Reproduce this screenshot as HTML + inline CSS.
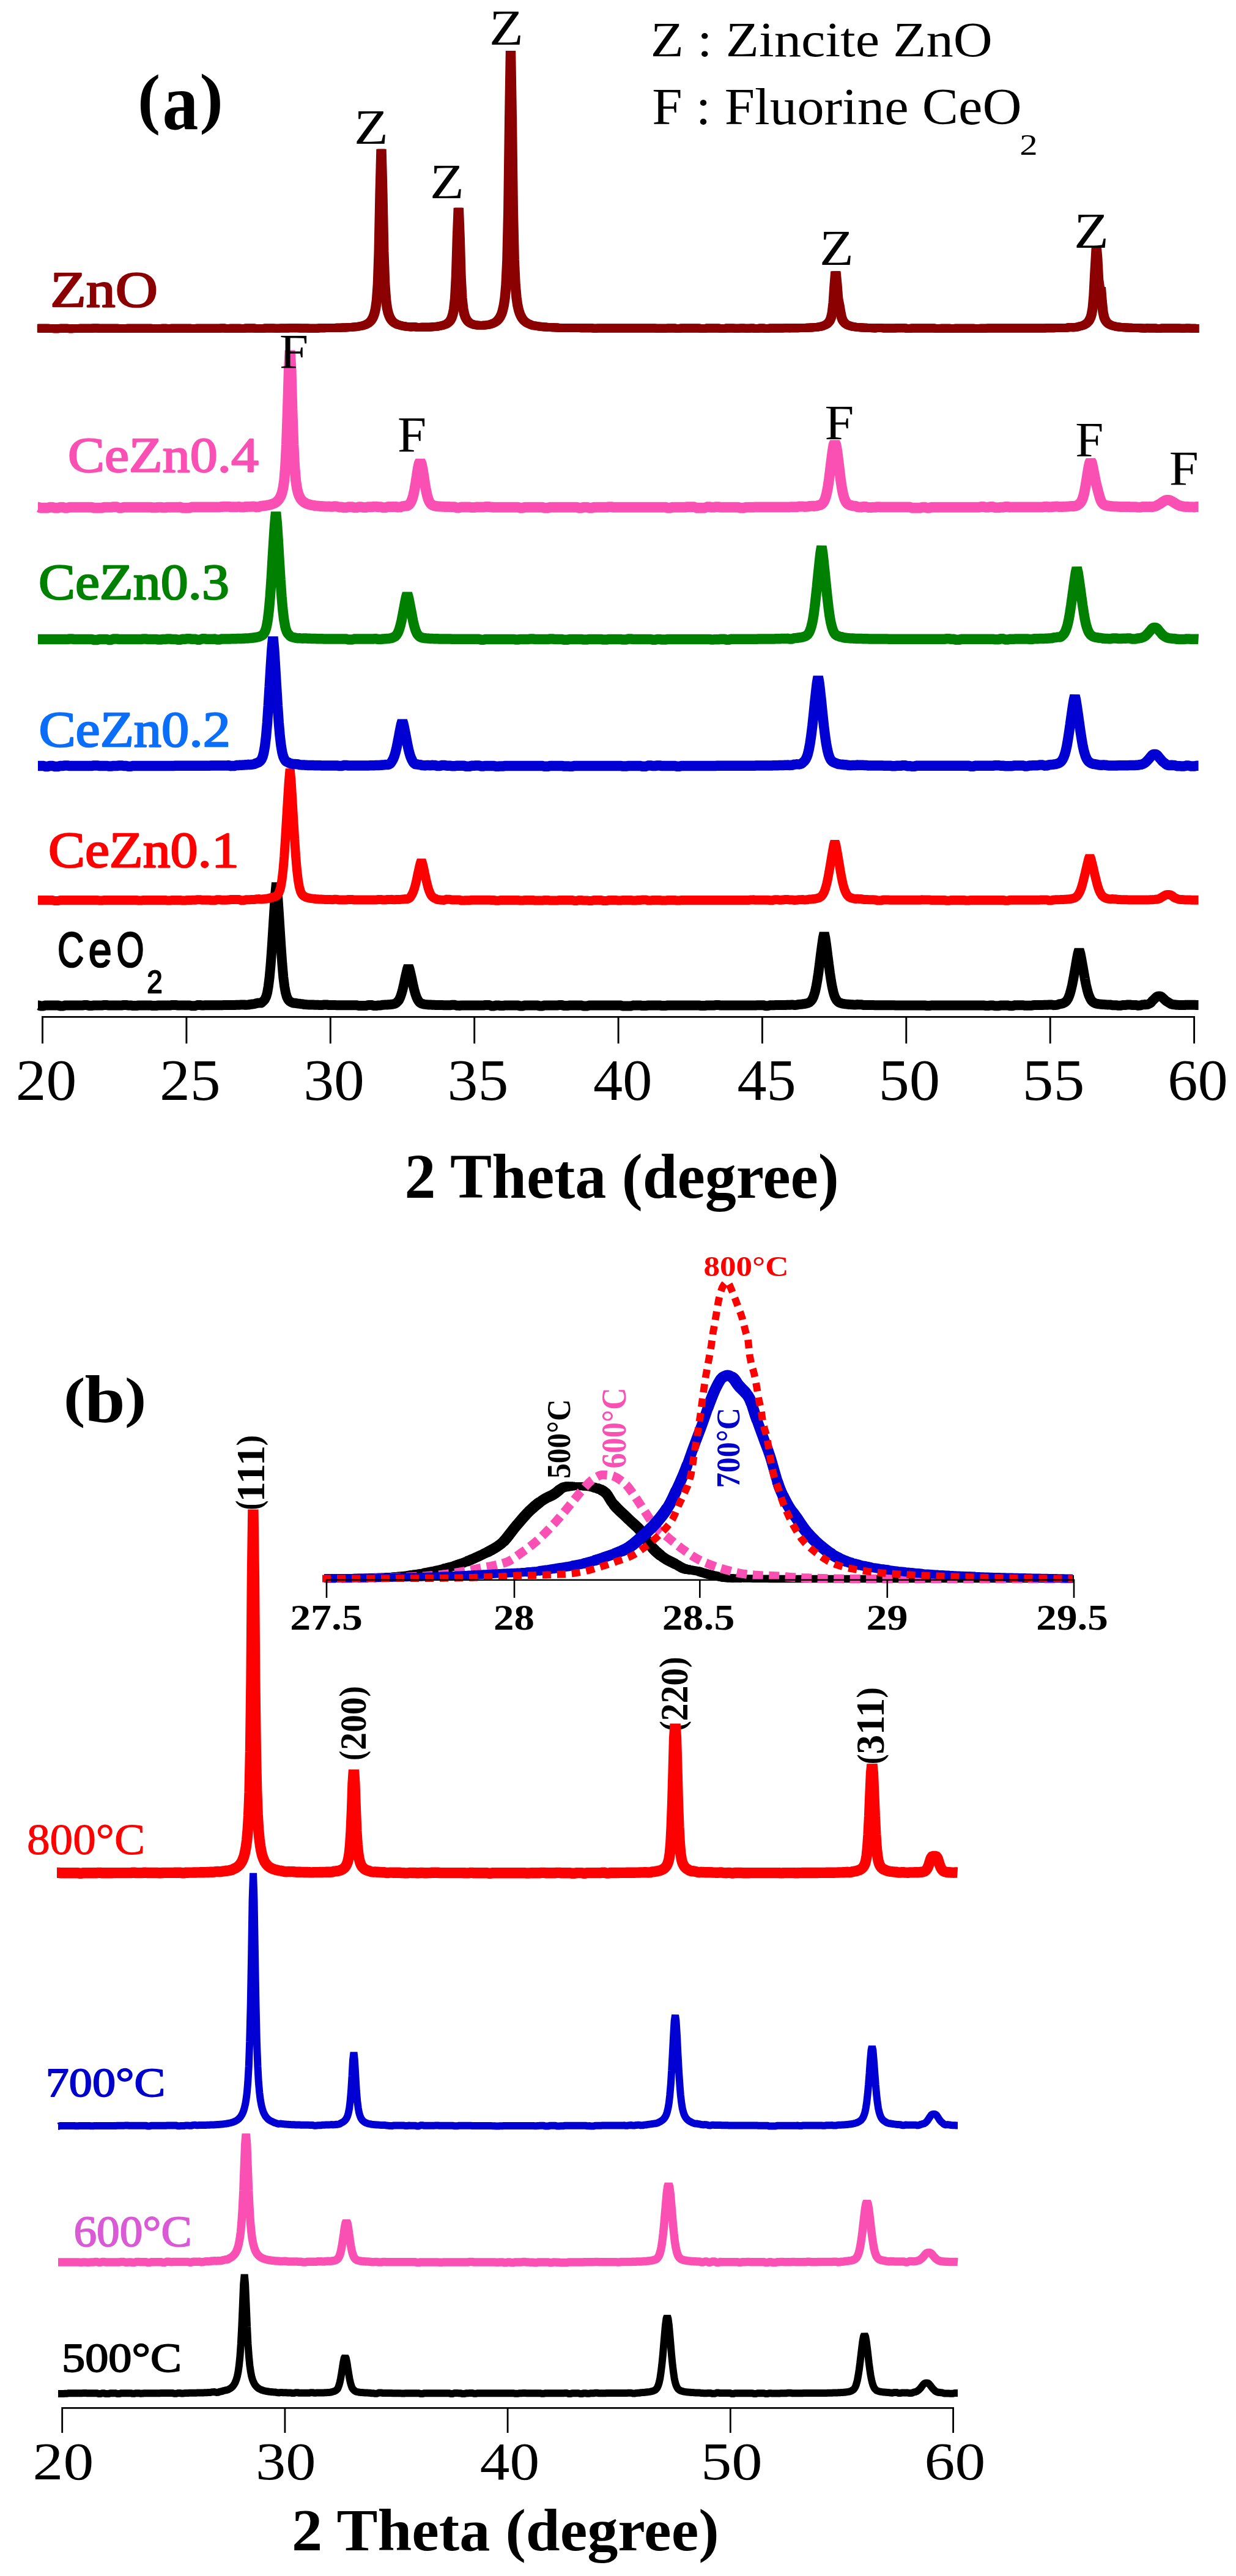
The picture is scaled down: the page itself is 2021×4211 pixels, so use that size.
<!DOCTYPE html>
<html><head><meta charset="utf-8"><title>XRD patterns</title>
<style>html,body{margin:0;padding:0;background:#fff}svg{display:block}</style></head>
<body>
<svg width="2021" height="4211" viewBox="0 0 2021 4211">
<path id="c1" d="M62.0 1643.6 L63.9 1643.6 L65.8 1644.5 L67.7 1644.5 L69.5 1644.5 L71.4 1644.5 L73.3 1643.6 L75.2 1643.6 L77.1 1643.6 L79.0 1643.6 L80.8 1643.6 L82.7 1643.6 L84.6 1643.6 L86.5 1643.6 L88.4 1643.6 L90.3 1643.6 L92.2 1643.6 L94.0 1643.6 L95.9 1643.6 L97.8 1644.5 L99.7 1644.5 L101.6 1644.5 L103.5 1644.5 L105.3 1643.6 L107.2 1643.6 L109.1 1643.6 L111.0 1643.6 L112.9 1643.6 L114.8 1643.6 L116.6 1643.6 L118.5 1643.6 L120.4 1643.6 L122.3 1643.6 L124.2 1643.6 L126.1 1643.6 L128.0 1643.6 L129.8 1643.6 L131.7 1643.6 L133.6 1643.6 L135.5 1643.6 L137.4 1643.1 L139.3 1643.1 L141.1 1643.1 L143.0 1643.1 L144.9 1644.0 L146.8 1644.0 L148.7 1644.0 L150.6 1644.0 L152.5 1643.6 L154.3 1643.6 L156.2 1643.6 L158.1 1643.6 L160.0 1643.6 L161.9 1643.6 L163.8 1643.6 L165.6 1643.6 L167.5 1643.6 L169.4 1643.1 L171.3 1643.1 L173.2 1643.1 L175.1 1643.1 L176.9 1643.5 L178.8 1643.5 L180.7 1643.5 L182.6 1643.5 L184.5 1643.5 L186.4 1643.5 L188.3 1643.5 L190.1 1643.5 L192.0 1643.5 L193.9 1643.5 L195.8 1643.5 L197.7 1643.5 L199.6 1643.5 L201.4 1643.0 L203.3 1643.0 L205.2 1643.0 L207.1 1643.0 L209.0 1643.5 L210.9 1643.5 L212.8 1643.5 L214.6 1643.5 L216.5 1644.0 L218.4 1644.0 L220.3 1644.0 L222.2 1644.0 L224.1 1644.0 L225.9 1643.5 L227.8 1643.5 L229.7 1643.5 L231.6 1643.5 L233.5 1643.5 L235.4 1643.5 L237.2 1643.5 L239.1 1643.5 L241.0 1643.5 L242.9 1643.5 L244.8 1643.5 L246.7 1643.5 L248.6 1644.0 L250.4 1644.0 L252.3 1644.0 L254.2 1644.0 L256.1 1644.0 L258.0 1643.5 L259.9 1643.5 L261.7 1643.5 L263.6 1643.5 L265.5 1643.5 L267.4 1643.5 L269.3 1643.5 L271.2 1643.5 L273.1 1643.5 L274.9 1643.5 L276.8 1643.5 L278.7 1643.5 L280.6 1643.0 L282.5 1643.0 L284.4 1643.0 L286.2 1643.0 L288.1 1643.0 L290.0 1643.5 L291.9 1643.5 L293.8 1643.5 L295.7 1643.5 L297.5 1643.4 L299.4 1643.4 L301.3 1643.4 L303.2 1643.4 L305.1 1643.4 L307.0 1643.4 L308.9 1643.4 L310.7 1643.4 L312.6 1644.3 L314.5 1644.3 L316.4 1644.3 L318.3 1644.3 L320.2 1644.3 L322.0 1642.9 L323.9 1642.9 L325.8 1642.9 L327.7 1642.9 L329.6 1643.4 L331.5 1643.4 L333.4 1643.4 L335.2 1643.3 L337.1 1643.3 L339.0 1643.3 L340.9 1643.3 L342.8 1643.3 L344.7 1643.3 L346.5 1643.3 L348.4 1643.3 L350.3 1643.3 L352.2 1643.3 L354.1 1643.2 L356.0 1643.2 L357.9 1643.2 L359.7 1643.2 L361.6 1643.2 L363.5 1643.2 L365.4 1643.1 L367.3 1643.1 L369.2 1643.1 L371.0 1643.1 L372.9 1643.1 L374.8 1643.0 L376.7 1643.0 L378.6 1643.0 L380.5 1642.9 L382.3 1642.9 L384.2 1642.9 L386.1 1642.8 L388.0 1642.8 L389.9 1642.7 L391.8 1642.7 L393.7 1642.6 L395.5 1642.6 L397.4 1642.5 L399.3 1642.4 L401.2 1642.8 L403.1 1642.7 L405.0 1642.6 L406.8 1642.5 L408.7 1641.9 L410.6 1641.7 L412.5 1641.5 L414.4 1641.3 L416.3 1641.1 L418.2 1640.4 L420.0 1640.0 L421.9 1639.7 L423.8 1639.2 L425.7 1640.1 L427.6 1639.3 L429.5 1637.4 L431.3 1635.9 L433.2 1633.5 L435.1 1629.4 L437.0 1622.9 L438.8 1612.6 L440.7 1597.4 L442.6 1576.5 L444.5 1550.4 L446.4 1520.8 L448.3 1490.7 L450.1 1462.5 L452.0 1443.0 L453.9 1462.5 L455.8 1490.7 L457.7 1520.8 L459.6 1550.4 L461.5 1576.5 L463.3 1597.4 L465.2 1612.6 L467.1 1622.9 L469.0 1629.6 L470.9 1633.6 L472.8 1636.0 L474.7 1637.5 L476.6 1638.5 L478.5 1639.2 L480.3 1639.7 L482.2 1639.7 L484.1 1640.0 L486.0 1640.3 L487.9 1640.6 L489.8 1640.8 L491.6 1641.0 L493.5 1641.2 L495.4 1641.4 L497.3 1642.0 L499.2 1642.1 L501.1 1642.2 L502.9 1642.3 L504.8 1642.4 L506.7 1642.5 L508.6 1642.5 L510.5 1642.6 L512.4 1642.6 L514.3 1642.7 L516.1 1642.7 L518.0 1642.8 L519.9 1642.8 L521.8 1642.9 L523.7 1642.9 L525.6 1642.9 L527.4 1643.0 L529.3 1642.5 L531.2 1642.5 L533.1 1642.5 L535.0 1642.6 L536.9 1643.1 L538.8 1643.1 L540.6 1643.1 L542.5 1643.1 L544.4 1643.1 L546.3 1643.1 L548.2 1643.1 L550.1 1643.2 L551.9 1643.2 L553.8 1643.2 L555.7 1643.2 L557.6 1643.2 L559.5 1643.2 L561.4 1643.2 L563.3 1643.2 L565.1 1643.2 L567.0 1643.2 L568.9 1643.2 L570.8 1643.2 L572.7 1643.2 L574.6 1643.2 L576.4 1643.2 L578.3 1643.2 L580.2 1643.2 L582.1 1643.2 L584.0 1643.2 L585.9 1644.1 L587.7 1644.1 L589.6 1644.1 L591.5 1644.1 L593.4 1644.1 L595.3 1644.1 L597.2 1644.1 L599.1 1644.1 L600.9 1643.2 L602.8 1643.1 L604.7 1643.1 L606.6 1643.1 L608.5 1643.1 L610.4 1644.0 L612.2 1644.0 L614.1 1643.9 L616.0 1643.9 L617.9 1643.4 L619.8 1643.4 L621.7 1643.4 L623.6 1643.3 L625.4 1642.8 L627.3 1642.7 L629.2 1642.6 L631.1 1642.6 L633.0 1642.5 L634.9 1642.3 L636.7 1642.2 L638.6 1642.0 L640.5 1641.8 L642.4 1641.5 L644.3 1641.1 L646.2 1640.5 L648.0 1639.5 L649.9 1637.5 L651.8 1635.6 L652.7 1634.1 L654.6 1630.0 L656.5 1624.5 L658.4 1617.6 L660.3 1609.5 L662.1 1600.8 L664.0 1592.3 L665.9 1584.3 L667.8 1579.0 L669.7 1584.3 L671.6 1592.3 L673.5 1600.8 L675.3 1609.5 L677.2 1617.6 L679.1 1624.5 L681.0 1630.0 L682.9 1634.1 L683.9 1635.7 L685.7 1638.1 L687.6 1639.6 L689.5 1640.6 L691.4 1641.2 L693.3 1641.6 L695.2 1641.9 L697.0 1642.1 L698.9 1642.3 L700.8 1642.4 L702.7 1642.5 L704.6 1642.6 L706.5 1642.7 L708.3 1642.8 L710.2 1642.8 L712.1 1642.9 L714.0 1642.9 L715.9 1643.0 L717.8 1643.0 L719.7 1643.1 L721.5 1643.1 L723.4 1643.1 L725.3 1643.2 L727.2 1643.2 L729.1 1643.2 L731.0 1643.2 L732.8 1643.2 L734.7 1643.3 L736.6 1643.3 L738.5 1642.8 L740.4 1642.8 L742.3 1642.8 L744.2 1642.8 L746.0 1643.8 L747.9 1643.8 L749.8 1643.8 L751.7 1643.9 L753.6 1643.4 L755.5 1643.4 L757.3 1643.4 L759.2 1643.4 L761.1 1643.4 L763.0 1643.4 L764.9 1643.4 L766.8 1643.4 L768.6 1643.4 L770.5 1643.4 L772.4 1643.4 L774.3 1643.4 L776.2 1643.4 L778.1 1643.4 L780.0 1643.5 L781.8 1643.5 L783.7 1643.5 L785.6 1643.5 L787.5 1643.5 L789.4 1643.5 L791.3 1643.5 L793.1 1643.0 L795.0 1643.0 L796.9 1643.0 L798.8 1643.0 L800.7 1643.0 L802.6 1644.4 L804.5 1644.4 L806.3 1644.4 L808.2 1644.4 L810.1 1643.5 L812.0 1643.5 L813.9 1643.5 L815.8 1643.5 L817.6 1644.0 L819.5 1644.0 L821.4 1644.0 L823.3 1644.0 L825.2 1643.5 L827.1 1643.5 L829.0 1643.5 L830.8 1643.5 L832.7 1643.5 L834.6 1643.5 L836.5 1643.5 L838.4 1643.5 L840.3 1643.5 L842.1 1643.5 L844.0 1643.5 L845.9 1643.5 L847.8 1643.5 L849.7 1644.4 L851.6 1644.4 L853.4 1644.4 L855.3 1644.4 L857.2 1643.5 L859.1 1643.5 L861.0 1643.5 L862.9 1643.5 L864.8 1643.5 L866.6 1643.5 L868.5 1643.5 L870.4 1643.5 L872.3 1643.5 L874.2 1643.5 L876.1 1643.5 L877.9 1643.5 L879.8 1643.5 L881.7 1644.4 L883.6 1644.4 L885.5 1644.4 L887.4 1644.4 L889.3 1643.5 L891.1 1643.5 L893.0 1643.5 L894.9 1643.5 L896.8 1643.5 L898.7 1643.5 L900.6 1643.5 L902.4 1643.5 L904.3 1643.5 L906.2 1643.5 L908.1 1643.5 L910.0 1643.5 L911.9 1643.5 L913.7 1643.1 L915.6 1643.1 L917.5 1643.1 L919.4 1643.1 L921.3 1644.0 L923.2 1644.0 L925.1 1644.0 L926.9 1644.0 L928.8 1644.0 L930.7 1643.5 L932.6 1643.5 L934.5 1643.5 L936.4 1643.5 L938.2 1643.5 L940.1 1643.5 L942.0 1643.5 L943.9 1643.5 L945.8 1643.5 L947.7 1643.5 L949.6 1643.5 L951.4 1643.5 L953.3 1644.5 L955.2 1644.5 L957.1 1644.5 L959.0 1644.5 L960.9 1644.5 L962.7 1643.5 L964.6 1643.5 L966.5 1643.5 L968.4 1643.5 L970.3 1643.5 L972.2 1643.5 L974.0 1643.5 L975.9 1643.5 L977.8 1643.5 L979.7 1643.5 L981.6 1643.5 L983.5 1643.5 L985.4 1643.5 L987.2 1643.5 L989.1 1643.5 L991.0 1643.5 L992.9 1643.5 L994.8 1643.5 L996.7 1643.5 L998.5 1643.5 L1000.4 1643.5 L1002.3 1643.5 L1004.2 1643.5 L1006.1 1643.5 L1008.0 1643.5 L1009.9 1643.5 L1011.7 1643.5 L1013.6 1643.5 L1015.5 1643.5 L1017.4 1644.5 L1019.3 1644.5 L1021.2 1644.5 L1023.0 1644.5 L1024.9 1644.5 L1026.8 1644.5 L1028.7 1644.5 L1030.6 1644.5 L1032.5 1644.5 L1034.4 1643.5 L1036.2 1643.5 L1038.1 1643.5 L1040.0 1643.5 L1041.9 1643.5 L1043.8 1643.5 L1045.7 1643.5 L1047.5 1643.5 L1049.4 1644.0 L1051.3 1644.0 L1053.2 1644.0 L1055.1 1644.0 L1057.0 1644.0 L1058.8 1643.5 L1060.7 1643.5 L1062.6 1643.5 L1064.5 1643.5 L1066.4 1643.5 L1068.3 1643.5 L1070.2 1643.5 L1072.0 1643.5 L1073.9 1643.5 L1075.8 1643.5 L1077.7 1643.5 L1079.6 1643.5 L1081.5 1644.0 L1083.3 1644.0 L1085.2 1644.0 L1087.1 1644.0 L1089.0 1644.0 L1090.9 1643.5 L1092.8 1643.5 L1094.7 1643.5 L1096.5 1643.5 L1098.4 1643.5 L1100.3 1643.5 L1102.2 1643.5 L1104.1 1643.5 L1106.0 1643.5 L1107.8 1643.5 L1109.7 1643.5 L1111.6 1643.5 L1113.5 1643.5 L1115.4 1643.5 L1117.3 1643.5 L1119.1 1643.5 L1121.0 1643.5 L1122.9 1643.5 L1124.8 1643.5 L1126.7 1643.5 L1128.6 1643.5 L1130.5 1643.5 L1132.3 1643.5 L1134.2 1643.5 L1136.1 1643.5 L1138.0 1643.5 L1139.9 1643.5 L1141.8 1643.5 L1143.6 1643.5 L1145.5 1644.0 L1147.4 1644.0 L1149.3 1644.0 L1151.2 1644.0 L1153.1 1644.0 L1155.0 1643.5 L1156.8 1643.5 L1158.7 1643.5 L1160.6 1643.5 L1162.5 1643.5 L1164.4 1643.5 L1166.3 1643.5 L1168.1 1643.5 L1170.0 1643.0 L1171.9 1643.0 L1173.8 1643.0 L1175.7 1643.0 L1177.6 1643.5 L1179.4 1643.5 L1181.3 1643.5 L1183.2 1643.5 L1185.1 1643.5 L1187.0 1643.5 L1188.9 1643.5 L1190.8 1643.5 L1192.6 1643.5 L1194.5 1643.5 L1196.4 1643.5 L1198.3 1643.5 L1200.2 1643.4 L1202.1 1643.4 L1203.9 1643.4 L1205.8 1643.4 L1207.7 1643.4 L1209.6 1643.4 L1211.5 1643.4 L1213.4 1643.4 L1215.3 1643.4 L1217.1 1643.4 L1219.0 1643.4 L1220.9 1643.4 L1222.8 1643.4 L1224.7 1643.4 L1226.6 1643.4 L1228.4 1643.4 L1230.3 1643.4 L1232.2 1643.4 L1234.1 1643.4 L1236.0 1643.4 L1237.9 1643.3 L1239.7 1643.3 L1241.6 1643.3 L1243.5 1643.3 L1245.4 1643.3 L1247.3 1643.3 L1249.2 1643.3 L1251.1 1644.2 L1252.9 1644.2 L1254.8 1644.2 L1256.7 1644.1 L1258.6 1643.2 L1260.5 1643.2 L1262.4 1643.2 L1264.2 1643.2 L1266.1 1643.2 L1268.0 1643.1 L1269.9 1643.1 L1271.8 1643.1 L1273.7 1643.1 L1275.6 1643.0 L1277.4 1643.0 L1279.3 1643.0 L1281.2 1642.9 L1283.1 1642.9 L1285.0 1642.9 L1286.9 1642.8 L1288.7 1642.8 L1290.6 1642.7 L1292.5 1642.7 L1294.4 1642.6 L1296.3 1642.5 L1298.2 1642.9 L1300.1 1642.9 L1301.9 1642.8 L1303.8 1642.6 L1305.7 1642.0 L1307.6 1641.9 L1309.5 1641.7 L1311.4 1641.5 L1313.2 1641.3 L1315.1 1641.1 L1317.0 1640.7 L1318.9 1640.3 L1320.8 1639.8 L1322.7 1639.0 L1324.5 1637.8 L1326.4 1636.0 L1328.3 1633.3 L1330.2 1629.3 L1332.5 1622.1 L1334.4 1613.8 L1336.3 1603.2 L1338.2 1590.6 L1340.1 1576.4 L1341.9 1561.5 L1343.8 1547.2 L1345.7 1533.8 L1347.6 1525.0 L1349.5 1533.8 L1351.4 1547.2 L1353.2 1561.5 L1355.1 1576.3 L1357.0 1590.6 L1358.9 1603.2 L1360.8 1613.8 L1362.7 1622.1 L1364.1 1627.0 L1366.0 1631.7 L1367.9 1634.9 L1369.8 1637.1 L1371.7 1638.5 L1373.5 1639.4 L1375.4 1640.1 L1377.3 1640.6 L1379.2 1640.9 L1381.1 1641.2 L1383.0 1641.4 L1384.8 1641.6 L1386.7 1641.8 L1388.6 1642.0 L1390.5 1642.1 L1392.4 1642.2 L1394.3 1642.3 L1396.2 1642.4 L1398.0 1642.5 L1399.9 1642.6 L1401.8 1642.1 L1403.7 1642.2 L1405.6 1642.3 L1407.5 1642.3 L1409.3 1642.3 L1411.2 1642.9 L1413.1 1642.9 L1415.0 1643.0 L1416.9 1643.0 L1418.8 1643.0 L1420.7 1643.0 L1422.5 1643.1 L1424.4 1643.1 L1426.3 1643.1 L1428.2 1643.1 L1430.1 1643.2 L1432.0 1643.2 L1433.8 1643.2 L1435.7 1643.2 L1437.6 1643.2 L1439.5 1643.2 L1441.4 1643.2 L1443.3 1643.3 L1445.1 1643.3 L1447.0 1643.3 L1448.9 1643.3 L1450.8 1643.3 L1452.7 1643.3 L1454.6 1643.3 L1456.5 1643.3 L1458.3 1643.3 L1460.2 1643.3 L1462.1 1643.3 L1464.0 1643.4 L1465.9 1643.4 L1467.8 1643.4 L1469.6 1643.4 L1471.5 1643.4 L1473.4 1643.4 L1475.3 1643.4 L1477.2 1643.4 L1479.1 1643.4 L1481.0 1643.4 L1482.8 1643.4 L1484.7 1643.4 L1486.6 1643.4 L1488.5 1643.4 L1490.4 1643.4 L1492.3 1643.4 L1494.1 1643.4 L1496.0 1643.4 L1497.9 1643.4 L1499.8 1643.4 L1501.7 1643.4 L1503.6 1643.4 L1505.5 1643.4 L1507.3 1643.4 L1509.2 1643.4 L1511.1 1643.4 L1513.0 1643.4 L1514.9 1643.9 L1516.8 1643.9 L1518.6 1643.9 L1520.5 1643.9 L1522.4 1643.5 L1524.3 1643.5 L1526.2 1643.5 L1528.1 1643.5 L1529.9 1643.5 L1531.8 1643.5 L1533.7 1643.5 L1535.6 1643.5 L1537.5 1643.5 L1539.4 1643.5 L1541.3 1643.5 L1543.1 1643.5 L1545.0 1643.5 L1546.9 1643.5 L1548.8 1643.5 L1550.7 1643.5 L1552.6 1643.5 L1554.4 1643.5 L1556.3 1643.5 L1558.2 1643.5 L1560.1 1643.5 L1562.0 1643.5 L1563.9 1643.5 L1565.8 1643.5 L1567.6 1643.5 L1569.5 1643.5 L1571.4 1643.5 L1573.3 1643.5 L1575.2 1643.5 L1577.1 1643.5 L1578.9 1643.5 L1580.8 1643.5 L1582.7 1643.5 L1584.6 1643.5 L1586.5 1643.5 L1588.4 1643.5 L1590.2 1643.5 L1592.1 1643.5 L1594.0 1643.5 L1595.9 1643.5 L1597.8 1643.5 L1599.7 1643.5 L1601.6 1643.5 L1603.4 1643.5 L1605.3 1643.5 L1607.2 1643.4 L1609.1 1643.4 L1611.0 1643.9 L1612.9 1643.9 L1614.7 1643.9 L1616.6 1643.9 L1618.5 1643.4 L1620.4 1643.4 L1622.3 1643.4 L1624.2 1643.4 L1626.1 1644.3 L1627.9 1644.3 L1629.8 1644.3 L1631.7 1644.3 L1633.6 1644.3 L1635.5 1643.4 L1637.4 1643.4 L1639.2 1643.4 L1641.1 1643.4 L1643.0 1643.4 L1644.9 1643.4 L1646.8 1643.4 L1648.7 1643.4 L1650.5 1644.3 L1652.4 1644.3 L1654.3 1644.3 L1656.2 1644.3 L1658.1 1643.3 L1660.0 1643.3 L1661.9 1643.3 L1663.7 1643.3 L1665.6 1643.3 L1667.5 1643.3 L1669.4 1643.3 L1671.3 1643.3 L1673.2 1643.3 L1675.0 1643.7 L1676.9 1643.7 L1678.8 1643.7 L1680.7 1643.7 L1682.6 1643.7 L1684.5 1643.7 L1686.4 1643.7 L1688.2 1643.6 L1690.1 1643.1 L1692.0 1643.1 L1693.9 1643.1 L1695.8 1643.1 L1697.7 1643.0 L1699.5 1643.0 L1701.4 1643.0 L1703.3 1642.9 L1705.2 1642.9 L1707.1 1642.8 L1709.0 1642.8 L1710.8 1642.7 L1712.7 1642.7 L1714.6 1642.6 L1716.5 1642.5 L1718.4 1642.5 L1720.3 1642.4 L1722.2 1643.2 L1724.0 1643.1 L1725.9 1642.9 L1727.8 1642.8 L1729.7 1642.6 L1731.6 1641.5 L1733.5 1641.2 L1735.3 1640.8 L1737.2 1640.4 L1739.1 1639.7 L1741.0 1638.7 L1742.9 1637.2 L1744.8 1635.0 L1746.7 1631.8 L1748.5 1627.4 L1749.4 1624.7 L1751.3 1618.0 L1753.2 1609.8 L1755.1 1600.1 L1757.0 1589.5 L1758.9 1578.6 L1760.7 1568.1 L1762.6 1558.3 L1764.5 1552.0 L1766.4 1558.3 L1768.3 1568.1 L1770.2 1578.6 L1772.1 1589.5 L1773.9 1600.1 L1775.8 1609.8 L1777.7 1618.0 L1779.6 1624.7 L1780.6 1627.5 L1782.5 1631.9 L1784.3 1635.1 L1786.2 1637.2 L1788.1 1638.7 L1790.0 1639.7 L1791.9 1640.4 L1793.8 1640.8 L1795.6 1641.2 L1797.5 1641.4 L1799.4 1641.7 L1801.3 1641.8 L1803.2 1642.0 L1805.1 1642.1 L1807.0 1642.2 L1808.8 1642.3 L1810.7 1642.4 L1812.6 1642.5 L1814.5 1642.6 L1816.4 1642.6 L1818.3 1643.2 L1820.1 1643.2 L1822.0 1643.2 L1823.9 1643.3 L1825.8 1643.3 L1827.7 1643.8 L1829.6 1643.8 L1831.5 1643.8 L1833.3 1643.8 L1835.2 1642.9 L1837.1 1642.9 L1839.0 1643.0 L1840.9 1643.0 L1842.8 1642.5 L1844.6 1642.5 L1846.5 1642.5 L1848.4 1642.5 L1850.3 1642.9 L1852.2 1642.9 L1854.1 1642.9 L1855.9 1642.9 L1857.8 1642.9 L1859.7 1643.7 L1861.6 1643.7 L1863.5 1643.6 L1865.4 1643.5 L1867.3 1642.5 L1869.1 1642.4 L1871.0 1642.2 L1872.9 1641.9 L1874.8 1642.4 L1876.7 1641.8 L1878.6 1641.0 L1880.3 1640.1 L1882.2 1638.8 L1884.0 1636.3 L1885.9 1634.6 L1887.8 1632.7 L1889.7 1630.9 L1891.6 1629.2 L1893.5 1628.5 L1895.3 1628.5 L1897.2 1628.5 L1899.1 1629.2 L1901.0 1631.0 L1902.9 1632.8 L1904.8 1634.6 L1906.6 1636.4 L1908.5 1637.4 L1910.4 1638.7 L1912.5 1639.8 L1914.4 1641.1 L1916.2 1641.7 L1918.1 1642.1 L1920.0 1642.3 L1921.9 1642.5 L1923.8 1642.7 L1925.7 1642.8 L1927.6 1642.9 L1929.4 1643.0 L1931.3 1643.0 L1933.2 1643.1 L1935.1 1643.1 L1937.0 1643.1 L1938.9 1642.7 L1940.7 1642.7 L1942.6 1642.7 L1944.5 1642.8 L1946.4 1642.8 L1948.3 1642.8 L1950.2 1642.8 L1952.1 1642.8 L1953.9 1642.8 L1955.8 1642.9 L1957.7 1642.9 L1959.6 1642.9" fill="none" stroke="#000000" stroke-width="16" stroke-linejoin="bevel" />
<path id="c2" d="M62.0 1471.5 L63.9 1471.5 L65.8 1471.5 L67.7 1471.5 L69.5 1471.5 L71.4 1471.5 L73.3 1471.5 L75.2 1471.5 L77.1 1471.5 L79.0 1471.5 L80.8 1471.5 L82.7 1471.5 L84.6 1471.5 L86.5 1471.5 L88.4 1472.4 L90.3 1472.4 L92.2 1472.4 L94.0 1472.4 L95.9 1472.4 L97.8 1471.5 L99.7 1471.5 L101.6 1471.5 L103.5 1471.5 L105.3 1471.5 L107.2 1471.5 L109.1 1471.5 L111.0 1471.5 L112.9 1471.5 L114.8 1471.5 L116.6 1471.5 L118.5 1471.5 L120.4 1471.5 L122.3 1471.5 L124.2 1471.5 L126.1 1471.5 L128.0 1471.5 L129.8 1471.5 L131.7 1471.5 L133.6 1471.5 L135.5 1471.5 L137.4 1471.5 L139.3 1471.5 L141.1 1471.5 L143.0 1471.5 L144.9 1471.5 L146.8 1471.5 L148.7 1471.5 L150.6 1471.5 L152.5 1471.5 L154.3 1471.5 L156.2 1471.5 L158.1 1471.5 L160.0 1471.5 L161.9 1471.9 L163.8 1471.9 L165.6 1471.9 L167.5 1471.9 L169.4 1471.5 L171.3 1471.5 L173.2 1471.5 L175.1 1471.5 L176.9 1471.5 L178.8 1471.5 L180.7 1471.5 L182.6 1471.5 L184.5 1471.5 L186.4 1471.4 L188.3 1471.4 L190.1 1471.4 L192.0 1471.4 L193.9 1471.4 L195.8 1471.4 L197.7 1471.4 L199.6 1471.4 L201.4 1471.4 L203.3 1471.4 L205.2 1471.4 L207.1 1471.4 L209.0 1471.4 L210.9 1471.4 L212.8 1471.4 L214.6 1471.4 L216.5 1471.4 L218.4 1471.4 L220.3 1471.4 L222.2 1471.4 L224.1 1471.4 L225.9 1471.9 L227.8 1471.9 L229.7 1471.9 L231.6 1471.9 L233.5 1471.4 L235.4 1471.4 L237.2 1471.4 L239.1 1471.4 L241.0 1471.4 L242.9 1471.4 L244.8 1471.4 L246.7 1471.4 L248.6 1471.4 L250.4 1471.4 L252.3 1471.4 L254.2 1471.4 L256.1 1471.4 L258.0 1471.4 L259.9 1471.4 L261.7 1471.4 L263.6 1471.4 L265.5 1471.4 L267.4 1471.4 L269.3 1471.4 L271.2 1471.4 L273.1 1471.9 L274.9 1471.9 L276.8 1471.9 L278.7 1471.9 L280.6 1471.4 L282.5 1471.4 L284.4 1471.4 L286.2 1471.4 L288.1 1471.4 L290.0 1471.4 L291.9 1471.4 L293.8 1471.4 L295.7 1471.4 L297.5 1471.9 L299.4 1471.9 L301.3 1471.9 L303.2 1471.9 L305.1 1471.4 L307.0 1471.4 L308.9 1471.4 L310.7 1471.4 L312.6 1471.4 L314.5 1471.3 L316.4 1471.3 L318.3 1471.3 L320.2 1471.3 L322.0 1470.8 L323.9 1470.8 L325.8 1470.8 L327.7 1470.8 L329.6 1471.3 L331.5 1471.3 L333.4 1471.3 L335.2 1471.3 L337.1 1471.3 L339.0 1471.3 L340.9 1471.3 L342.8 1471.3 L344.7 1471.8 L346.5 1471.8 L348.4 1471.8 L350.3 1471.7 L352.2 1471.7 L354.1 1470.8 L356.0 1470.7 L357.9 1470.7 L359.7 1470.7 L361.6 1471.2 L363.5 1471.2 L365.4 1471.2 L367.3 1471.2 L369.2 1471.2 L371.0 1471.2 L372.9 1471.1 L374.8 1471.1 L376.7 1470.6 L378.6 1470.6 L380.5 1470.6 L382.3 1470.6 L384.2 1470.6 L386.1 1470.5 L388.0 1470.5 L389.9 1470.5 L391.8 1470.5 L393.7 1471.9 L395.5 1471.8 L397.4 1471.8 L399.3 1471.8 L401.2 1470.8 L403.1 1470.8 L405.0 1470.8 L406.8 1470.7 L408.7 1470.7 L410.6 1470.6 L412.5 1470.6 L414.4 1470.5 L416.3 1470.4 L418.2 1469.9 L420.0 1469.8 L421.9 1469.7 L423.8 1469.6 L425.7 1470.0 L427.6 1469.9 L429.5 1469.8 L431.3 1469.6 L433.2 1469.4 L435.1 1469.3 L437.0 1469.0 L438.9 1468.8 L440.8 1468.0 L442.6 1467.6 L444.5 1467.2 L446.4 1466.7 L448.3 1466.1 L450.2 1465.7 L452.1 1464.6 L454.0 1462.7 L455.8 1459.8 L457.7 1454.9 L459.1 1449.4 L461.0 1438.4 L462.9 1422.1 L464.8 1399.8 L466.6 1371.8 L468.5 1340.2 L470.4 1308.0 L472.3 1277.9 L474.2 1257.0 L476.1 1277.9 L477.9 1308.0 L479.8 1340.2 L481.7 1371.8 L483.6 1399.8 L485.5 1422.1 L487.4 1438.4 L489.3 1449.4 L491.6 1457.8 L493.5 1461.5 L495.4 1463.8 L497.3 1465.2 L499.2 1466.2 L501.1 1466.9 L502.9 1467.5 L504.8 1467.9 L506.7 1468.3 L508.6 1468.6 L510.5 1468.9 L512.4 1469.1 L514.3 1469.3 L516.1 1469.5 L518.0 1469.7 L519.9 1469.8 L521.8 1469.9 L523.7 1470.0 L525.6 1470.1 L527.4 1470.2 L529.3 1470.3 L531.2 1470.4 L533.1 1470.4 L535.0 1470.5 L536.9 1470.6 L538.8 1470.6 L540.6 1470.6 L542.5 1470.7 L544.4 1470.7 L546.3 1470.3 L548.2 1470.3 L550.1 1470.3 L551.9 1470.4 L553.8 1470.9 L555.7 1470.9 L557.6 1470.9 L559.5 1470.9 L561.4 1471.0 L563.3 1471.0 L565.1 1471.0 L567.0 1471.0 L568.9 1470.5 L570.8 1470.5 L572.7 1470.5 L574.6 1470.6 L576.4 1470.6 L578.3 1471.1 L580.2 1471.1 L582.1 1471.1 L584.0 1471.1 L585.9 1471.1 L587.7 1471.1 L589.6 1471.1 L591.5 1471.1 L593.4 1471.1 L595.3 1471.1 L597.2 1471.1 L599.1 1471.1 L600.9 1471.1 L602.8 1471.1 L604.7 1471.1 L606.6 1471.1 L608.5 1471.1 L610.4 1471.1 L612.2 1471.1 L614.1 1471.1 L616.0 1471.1 L617.9 1470.6 L619.8 1470.6 L621.7 1470.5 L623.6 1470.5 L625.4 1471.0 L627.3 1471.0 L629.2 1471.0 L631.1 1471.0 L633.0 1470.4 L634.9 1470.4 L636.7 1470.4 L638.6 1470.4 L640.5 1470.3 L642.4 1470.8 L644.3 1470.7 L646.2 1470.7 L648.0 1470.6 L649.9 1470.5 L651.8 1470.5 L653.7 1470.4 L655.6 1470.3 L657.5 1470.1 L659.4 1470.0 L661.2 1469.8 L663.1 1469.5 L665.0 1470.0 L666.9 1469.4 L668.8 1468.5 L670.7 1467.1 L672.5 1464.1 L673.9 1461.9 L675.8 1457.7 L677.7 1452.1 L679.6 1445.1 L681.5 1436.9 L683.3 1428.1 L685.2 1419.5 L687.1 1411.4 L689.0 1406.0 L690.9 1411.4 L692.8 1419.5 L694.6 1428.1 L696.5 1436.9 L698.4 1445.1 L700.3 1452.2 L702.2 1457.7 L704.1 1461.9 L706.5 1465.4 L708.3 1467.1 L710.2 1468.2 L712.1 1468.9 L714.0 1470.3 L715.9 1470.6 L717.8 1470.8 L719.7 1471.0 L721.5 1471.2 L723.4 1471.3 L725.3 1471.4 L727.2 1471.5 L729.1 1470.1 L731.0 1470.2 L732.8 1470.3 L734.7 1470.3 L736.6 1470.4 L738.5 1470.9 L740.4 1470.9 L742.3 1471.0 L744.2 1471.0 L746.0 1471.0 L747.9 1471.1 L749.8 1471.1 L751.7 1471.1 L753.6 1472.0 L755.5 1472.1 L757.3 1472.1 L759.2 1472.1 L761.1 1471.7 L763.0 1471.7 L764.9 1471.7 L766.8 1471.7 L768.6 1471.7 L770.5 1471.2 L772.4 1471.3 L774.3 1471.3 L776.2 1471.3 L778.1 1471.3 L780.0 1471.3 L781.8 1471.3 L783.7 1471.3 L785.6 1471.3 L787.5 1471.3 L789.4 1471.3 L791.3 1471.3 L793.1 1471.3 L795.0 1471.3 L796.9 1471.3 L798.8 1471.3 L800.7 1471.3 L802.6 1471.4 L804.5 1471.4 L806.3 1471.4 L808.2 1471.4 L810.1 1472.3 L812.0 1472.3 L813.9 1472.3 L815.8 1472.3 L817.6 1471.4 L819.5 1471.4 L821.4 1471.4 L823.3 1471.4 L825.2 1471.4 L827.1 1471.4 L829.0 1471.4 L830.8 1471.4 L832.7 1471.4 L834.6 1471.4 L836.5 1471.4 L838.4 1471.4 L840.3 1471.4 L842.1 1471.4 L844.0 1471.4 L845.9 1471.4 L847.8 1471.4 L849.7 1471.9 L851.6 1471.9 L853.4 1471.9 L855.3 1471.9 L857.2 1471.4 L859.1 1471.4 L861.0 1471.4 L862.9 1471.4 L864.8 1471.4 L866.6 1471.4 L868.5 1471.4 L870.4 1471.4 L872.3 1471.4 L874.2 1471.9 L876.1 1471.9 L877.9 1471.9 L879.8 1471.9 L881.7 1471.9 L883.6 1471.9 L885.5 1471.9 L887.4 1471.9 L889.3 1471.4 L891.1 1471.4 L893.0 1471.4 L894.9 1471.4 L896.8 1471.4 L898.7 1471.9 L900.6 1471.9 L902.4 1471.9 L904.3 1471.9 L906.2 1471.9 L908.1 1471.9 L910.0 1471.9 L911.9 1471.9 L913.7 1471.4 L915.6 1471.4 L917.5 1471.4 L919.4 1471.4 L921.3 1471.4 L923.2 1471.4 L925.1 1471.4 L926.9 1471.4 L928.8 1471.4 L930.7 1471.4 L932.6 1471.4 L934.5 1471.4 L936.4 1471.4 L938.2 1472.4 L940.1 1472.4 L942.0 1472.4 L943.9 1472.4 L945.8 1471.4 L947.7 1471.4 L949.6 1471.4 L951.4 1471.4 L953.3 1471.9 L955.2 1471.9 L957.1 1471.9 L959.0 1471.9 L960.9 1471.9 L962.7 1472.4 L964.6 1472.4 L966.5 1472.4 L968.4 1472.4 L970.3 1471.4 L972.2 1471.4 L974.0 1471.4 L975.9 1471.4 L977.8 1471.4 L979.7 1471.4 L981.6 1471.4 L983.5 1471.4 L985.4 1472.4 L987.2 1472.4 L989.1 1472.4 L991.0 1472.4 L992.9 1472.4 L994.8 1471.5 L996.7 1471.5 L998.5 1471.5 L1000.4 1471.5 L1002.3 1471.5 L1004.2 1471.5 L1006.1 1471.5 L1008.0 1471.5 L1009.9 1471.9 L1011.7 1471.9 L1013.6 1471.9 L1015.5 1471.9 L1017.4 1471.5 L1019.3 1471.5 L1021.2 1471.5 L1023.0 1471.5 L1024.9 1471.5 L1026.8 1471.5 L1028.7 1471.5 L1030.6 1471.4 L1032.5 1471.4 L1034.4 1471.9 L1036.2 1471.9 L1038.1 1471.9 L1040.0 1471.9 L1041.9 1471.4 L1043.8 1471.4 L1045.7 1471.4 L1047.5 1471.4 L1049.4 1471.0 L1051.3 1471.0 L1053.2 1471.0 L1055.1 1471.0 L1057.0 1471.0 L1058.8 1471.9 L1060.7 1471.9 L1062.6 1471.9 L1064.5 1471.9 L1066.4 1471.4 L1068.3 1471.4 L1070.2 1471.4 L1072.0 1471.4 L1073.9 1471.4 L1075.8 1471.4 L1077.7 1471.4 L1079.6 1471.4 L1081.5 1471.9 L1083.3 1471.9 L1085.2 1471.9 L1087.1 1471.9 L1089.0 1471.9 L1090.9 1471.4 L1092.8 1471.4 L1094.7 1471.4 L1096.5 1471.4 L1098.4 1471.4 L1100.3 1471.4 L1102.2 1471.4 L1104.1 1471.4 L1106.0 1471.9 L1107.8 1471.9 L1109.7 1471.9 L1111.6 1471.9 L1113.5 1471.4 L1115.4 1471.4 L1117.3 1471.4 L1119.1 1471.4 L1121.0 1471.4 L1122.9 1471.4 L1124.8 1471.4 L1126.7 1471.4 L1128.6 1471.4 L1130.5 1471.4 L1132.3 1471.4 L1134.2 1471.4 L1136.1 1471.4 L1138.0 1471.4 L1139.9 1471.4 L1141.8 1471.4 L1143.6 1471.4 L1145.5 1471.4 L1147.4 1471.4 L1149.3 1471.4 L1151.2 1471.4 L1153.1 1471.4 L1155.0 1471.4 L1156.8 1471.4 L1158.7 1471.4 L1160.6 1471.4 L1162.5 1471.4 L1164.4 1471.4 L1166.3 1471.4 L1168.1 1471.4 L1170.0 1471.4 L1171.9 1471.4 L1173.8 1471.4 L1175.7 1471.4 L1177.6 1471.4 L1179.4 1471.4 L1181.3 1471.4 L1183.2 1471.4 L1185.1 1471.4 L1187.0 1471.4 L1188.9 1471.4 L1190.8 1471.4 L1192.6 1471.4 L1194.5 1471.4 L1196.4 1471.4 L1198.3 1471.4 L1200.2 1471.4 L1202.1 1471.4 L1203.9 1471.4 L1205.8 1471.4 L1207.7 1471.4 L1209.6 1471.4 L1211.5 1471.4 L1213.4 1471.4 L1215.3 1471.4 L1217.1 1471.4 L1219.0 1471.4 L1220.9 1471.4 L1222.8 1471.4 L1224.7 1471.4 L1226.6 1470.9 L1228.4 1470.9 L1230.3 1470.9 L1232.2 1470.8 L1234.1 1471.3 L1236.0 1471.3 L1237.9 1471.3 L1239.7 1471.3 L1241.6 1471.3 L1243.5 1471.3 L1245.4 1471.3 L1247.3 1471.3 L1249.2 1471.3 L1251.1 1471.3 L1252.9 1471.3 L1254.8 1471.3 L1256.7 1471.3 L1258.6 1471.7 L1260.5 1471.7 L1262.4 1471.7 L1264.2 1471.7 L1266.1 1470.7 L1268.0 1470.7 L1269.9 1470.7 L1271.8 1470.7 L1273.7 1471.2 L1275.6 1471.2 L1277.4 1471.2 L1279.3 1471.1 L1281.2 1471.1 L1283.1 1470.6 L1285.0 1470.6 L1286.9 1470.6 L1288.7 1470.6 L1290.6 1471.0 L1292.5 1471.0 L1294.4 1471.0 L1296.3 1470.9 L1298.2 1471.4 L1300.1 1471.4 L1301.9 1471.3 L1303.8 1471.3 L1305.7 1470.8 L1307.6 1470.7 L1309.5 1470.7 L1311.4 1470.6 L1313.2 1470.6 L1315.1 1471.0 L1317.0 1470.9 L1318.9 1470.8 L1320.8 1470.7 L1322.7 1470.1 L1324.5 1470.0 L1326.4 1469.9 L1328.3 1469.7 L1330.2 1469.5 L1332.1 1469.3 L1334.0 1469.0 L1335.9 1468.6 L1337.7 1468.1 L1339.6 1467.4 L1341.5 1466.3 L1343.4 1464.8 L1345.3 1462.4 L1347.2 1459.1 L1349.0 1454.4 L1349.9 1451.6 L1351.8 1444.6 L1353.7 1435.9 L1355.6 1425.7 L1357.5 1414.5 L1359.4 1403.0 L1361.3 1392.0 L1363.1 1381.6 L1365.0 1375.0 L1366.9 1381.6 L1368.8 1392.0 L1370.7 1403.0 L1372.6 1414.5 L1374.4 1425.7 L1376.3 1435.9 L1378.2 1444.6 L1380.1 1451.6 L1381.1 1454.6 L1383.0 1459.2 L1384.8 1462.5 L1386.7 1464.8 L1388.6 1466.4 L1390.5 1467.4 L1392.4 1468.1 L1394.3 1468.6 L1396.2 1469.0 L1398.0 1469.3 L1399.9 1469.5 L1401.8 1469.2 L1403.7 1469.4 L1405.6 1469.5 L1407.5 1469.6 L1409.3 1469.7 L1411.2 1470.3 L1413.1 1470.4 L1415.0 1470.5 L1416.9 1470.6 L1418.8 1470.6 L1420.7 1470.7 L1422.5 1470.7 L1424.4 1470.8 L1426.3 1470.8 L1428.2 1470.8 L1430.1 1470.9 L1432.0 1470.9 L1433.8 1471.9 L1435.7 1471.9 L1437.6 1471.9 L1439.5 1471.9 L1441.4 1472.0 L1443.3 1471.1 L1445.1 1471.1 L1447.0 1471.1 L1448.9 1471.1 L1450.8 1471.1 L1452.7 1471.1 L1454.6 1471.2 L1456.5 1471.2 L1458.3 1471.2 L1460.2 1471.2 L1462.1 1471.2 L1464.0 1471.2 L1465.9 1471.2 L1467.8 1471.2 L1469.6 1471.2 L1471.5 1471.2 L1473.4 1471.3 L1475.3 1471.3 L1477.2 1471.3 L1479.1 1471.3 L1481.0 1471.3 L1482.8 1471.3 L1484.7 1471.3 L1486.6 1471.3 L1488.5 1471.3 L1490.4 1471.3 L1492.3 1471.3 L1494.1 1471.3 L1496.0 1471.3 L1497.9 1471.3 L1499.8 1471.3 L1501.7 1471.3 L1503.6 1471.3 L1505.5 1471.3 L1507.3 1470.8 L1509.2 1470.9 L1511.1 1470.9 L1513.0 1470.9 L1514.9 1470.9 L1516.8 1470.9 L1518.6 1470.9 L1520.5 1470.9 L1522.4 1471.4 L1524.3 1471.4 L1526.2 1471.4 L1528.1 1471.4 L1529.9 1471.4 L1531.8 1471.4 L1533.7 1471.4 L1535.6 1471.4 L1537.5 1471.4 L1539.4 1471.4 L1541.3 1471.4 L1543.1 1471.4 L1545.0 1471.4 L1546.9 1472.3 L1548.8 1472.3 L1550.7 1472.3 L1552.6 1472.3 L1554.4 1471.4 L1556.3 1471.4 L1558.2 1471.4 L1560.1 1471.4 L1562.0 1471.4 L1563.9 1471.4 L1565.8 1471.4 L1567.6 1471.4 L1569.5 1471.4 L1571.4 1471.4 L1573.3 1471.4 L1575.2 1471.4 L1577.1 1471.4 L1578.9 1471.9 L1580.8 1471.9 L1582.7 1471.9 L1584.6 1471.9 L1586.5 1471.4 L1588.4 1471.4 L1590.2 1471.4 L1592.1 1471.4 L1594.0 1471.4 L1595.9 1471.4 L1597.8 1471.4 L1599.7 1471.4 L1601.6 1471.4 L1603.4 1471.4 L1605.3 1471.4 L1607.2 1471.4 L1609.1 1471.4 L1611.0 1471.4 L1612.9 1471.4 L1614.7 1471.4 L1616.6 1471.4 L1618.5 1471.4 L1620.4 1471.4 L1622.3 1471.4 L1624.2 1471.4 L1626.1 1471.4 L1627.9 1471.4 L1629.8 1471.4 L1631.7 1471.4 L1633.6 1471.4 L1635.5 1471.4 L1637.4 1471.4 L1639.2 1471.4 L1641.1 1471.4 L1643.0 1472.3 L1644.9 1472.3 L1646.8 1472.3 L1648.7 1472.3 L1650.5 1471.3 L1652.4 1471.3 L1654.3 1471.3 L1656.2 1471.3 L1658.1 1471.3 L1660.0 1471.3 L1661.9 1471.3 L1663.7 1471.3 L1665.6 1471.3 L1667.5 1471.3 L1669.4 1471.3 L1671.3 1471.3 L1673.2 1471.3 L1675.0 1471.3 L1676.9 1471.3 L1678.8 1471.3 L1680.7 1471.3 L1682.6 1471.3 L1684.5 1471.2 L1686.4 1471.2 L1688.2 1471.2 L1690.1 1471.2 L1692.0 1471.2 L1693.9 1471.2 L1695.8 1471.2 L1697.7 1471.2 L1699.5 1471.2 L1701.4 1471.1 L1703.3 1471.1 L1705.2 1471.1 L1707.1 1471.1 L1709.0 1471.1 L1710.8 1471.1 L1712.7 1471.0 L1714.6 1471.9 L1716.5 1471.9 L1718.4 1471.9 L1720.3 1471.8 L1722.2 1470.9 L1724.0 1470.9 L1725.9 1470.8 L1727.8 1470.8 L1729.7 1470.7 L1731.6 1470.7 L1733.5 1470.6 L1735.3 1470.5 L1737.2 1470.5 L1739.1 1470.4 L1741.0 1470.3 L1742.9 1470.2 L1744.8 1470.0 L1746.7 1469.9 L1748.5 1469.7 L1750.4 1469.5 L1752.3 1469.2 L1754.2 1468.7 L1756.1 1468.1 L1758.0 1467.3 L1759.8 1466.0 L1761.7 1464.2 L1763.6 1461.6 L1765.5 1458.0 L1766.9 1454.8 L1768.8 1449.3 L1770.6 1442.7 L1772.5 1435.2 L1774.4 1427.1 L1776.3 1418.9 L1778.2 1411.0 L1780.1 1403.6 L1781.9 1399.0 L1783.8 1403.6 L1785.7 1411.0 L1787.6 1418.9 L1789.5 1427.1 L1791.4 1435.2 L1793.3 1442.7 L1795.1 1449.3 L1797.0 1454.8 L1799.4 1460.1 L1801.3 1463.1 L1803.2 1465.2 L1805.1 1466.7 L1807.0 1467.8 L1808.8 1468.5 L1810.7 1469.0 L1812.6 1469.3 L1814.5 1469.6 L1816.4 1469.8 L1818.3 1469.5 L1820.1 1469.6 L1822.0 1469.7 L1823.9 1469.8 L1825.8 1469.9 L1827.7 1470.5 L1829.6 1470.5 L1831.5 1470.6 L1833.3 1470.7 L1835.2 1470.7 L1837.1 1470.7 L1839.0 1470.8 L1840.9 1470.8 L1842.8 1470.8 L1844.6 1470.9 L1846.5 1470.9 L1848.4 1470.9 L1850.3 1470.9 L1852.2 1471.0 L1854.1 1471.0 L1855.9 1471.0 L1857.8 1471.0 L1859.7 1471.0 L1861.6 1471.0 L1863.5 1471.0 L1865.4 1471.0 L1867.3 1471.0 L1869.1 1471.0 L1871.0 1471.0 L1872.9 1471.0 L1874.8 1470.9 L1876.7 1470.9 L1878.6 1470.9 L1880.4 1470.8 L1882.3 1470.8 L1884.2 1470.7 L1886.1 1470.6 L1888.0 1470.4 L1889.9 1470.1 L1891.8 1470.2 L1893.6 1469.8 L1895.0 1469.3 L1896.9 1468.5 L1898.8 1467.1 L1900.7 1466.1 L1902.6 1465.0 L1904.4 1463.9 L1906.3 1462.9 L1908.2 1462.5 L1910.1 1462.5 L1912.0 1462.5 L1913.9 1462.9 L1915.7 1464.0 L1917.6 1465.0 L1919.5 1467.0 L1921.4 1468.1 L1923.3 1468.6 L1925.2 1469.4 L1927.6 1470.1 L1929.4 1470.5 L1931.3 1470.4 L1933.2 1470.6 L1935.1 1470.7 L1937.0 1470.9 L1938.9 1470.9 L1940.7 1471.0 L1942.6 1471.1 L1944.5 1471.1 L1946.4 1471.1 L1948.3 1471.2 L1950.2 1471.2 L1952.1 1471.2 L1953.9 1471.2 L1955.8 1471.2 L1957.7 1471.3 L1959.6 1471.3" fill="none" stroke="#FF0000" stroke-width="15" stroke-linejoin="bevel" />
<path id="c3" d="M62.0 1252.0 L63.9 1252.0 L65.8 1252.0 L67.7 1252.0 L69.5 1252.0 L71.4 1252.0 L73.3 1252.9 L75.2 1252.9 L77.1 1252.9 L79.0 1252.9 L80.8 1252.0 L82.7 1252.0 L84.6 1252.0 L86.5 1252.0 L88.4 1252.9 L90.3 1252.9 L92.2 1252.9 L94.0 1252.9 L95.9 1252.9 L97.8 1252.0 L99.7 1252.0 L101.6 1252.0 L103.5 1252.0 L105.3 1251.5 L107.2 1251.5 L109.1 1251.5 L111.0 1251.5 L112.9 1252.0 L114.8 1252.0 L116.6 1252.0 L118.5 1252.0 L120.4 1252.0 L122.3 1252.0 L124.2 1252.0 L126.1 1252.0 L128.0 1252.0 L129.8 1252.0 L131.7 1252.0 L133.6 1252.0 L135.5 1252.0 L137.4 1252.0 L139.3 1252.0 L141.1 1252.0 L143.0 1252.0 L144.9 1252.0 L146.8 1252.0 L148.7 1252.0 L150.6 1252.0 L152.5 1251.5 L154.3 1251.5 L156.2 1251.5 L158.1 1251.5 L160.0 1251.5 L161.9 1251.9 L163.8 1251.9 L165.6 1251.9 L167.5 1251.9 L169.4 1251.9 L171.3 1251.9 L173.2 1251.9 L175.1 1251.9 L176.9 1252.4 L178.8 1252.4 L180.7 1252.4 L182.6 1252.4 L184.5 1251.9 L186.4 1251.9 L188.3 1251.9 L190.1 1251.9 L192.0 1251.9 L193.9 1251.4 L195.8 1251.4 L197.7 1251.4 L199.6 1251.4 L201.4 1251.9 L203.3 1251.9 L205.2 1251.9 L207.1 1251.9 L209.0 1252.8 L210.9 1252.8 L212.8 1252.8 L214.6 1252.8 L216.5 1251.9 L218.4 1251.9 L220.3 1251.9 L222.2 1251.9 L224.1 1251.9 L225.9 1251.9 L227.8 1251.9 L229.7 1251.9 L231.6 1251.9 L233.5 1251.9 L235.4 1251.9 L237.2 1251.9 L239.1 1251.9 L241.0 1251.9 L242.9 1251.9 L244.8 1251.9 L246.7 1251.9 L248.6 1251.9 L250.4 1251.9 L252.3 1251.9 L254.2 1251.9 L256.1 1251.9 L258.0 1251.9 L259.9 1251.9 L261.7 1251.9 L263.6 1251.9 L265.5 1251.9 L267.4 1251.9 L269.3 1251.9 L271.2 1251.9 L273.1 1251.9 L274.9 1251.9 L276.8 1251.9 L278.7 1251.9 L280.6 1251.9 L282.5 1251.9 L284.4 1251.9 L286.2 1251.8 L288.1 1251.8 L290.0 1251.8 L291.9 1251.8 L293.8 1251.8 L295.7 1251.8 L297.5 1251.8 L299.4 1251.8 L301.3 1251.8 L303.2 1251.8 L305.1 1251.8 L307.0 1251.8 L308.9 1251.8 L310.7 1251.8 L312.6 1251.8 L314.5 1251.8 L316.4 1251.8 L318.3 1251.8 L320.2 1251.8 L322.0 1251.8 L323.9 1251.8 L325.8 1251.7 L327.7 1251.7 L329.6 1251.7 L331.5 1251.7 L333.4 1251.7 L335.2 1251.7 L337.1 1251.7 L339.0 1251.7 L340.9 1251.7 L342.8 1251.7 L344.7 1251.6 L346.5 1251.6 L348.4 1251.6 L350.3 1251.6 L352.2 1251.6 L354.1 1251.6 L356.0 1251.6 L357.9 1251.5 L359.7 1251.5 L361.6 1251.5 L363.5 1251.5 L365.4 1251.5 L367.3 1251.4 L369.2 1251.4 L371.0 1251.4 L372.9 1251.3 L374.8 1251.3 L376.7 1252.2 L378.6 1252.1 L380.5 1252.1 L382.3 1252.1 L384.2 1252.0 L386.1 1251.0 L388.0 1251.0 L389.9 1250.9 L391.8 1250.8 L393.7 1250.8 L395.5 1250.7 L397.4 1250.6 L399.3 1250.4 L401.2 1250.3 L403.1 1250.2 L405.0 1250.0 L406.8 1249.8 L408.7 1250.1 L410.6 1249.9 L412.5 1249.6 L414.4 1249.3 L416.3 1248.9 L418.2 1247.9 L420.0 1247.3 L421.9 1246.6 L423.8 1245.5 L425.7 1243.9 L427.6 1241.3 L429.5 1237.1 L431.3 1230.3 L433.2 1219.4 L435.1 1203.4 L437.0 1181.4 L438.8 1154.0 L440.7 1122.8 L442.6 1091.1 L444.5 1061.5 L446.4 1041.0 L448.3 1061.5 L450.1 1091.1 L452.0 1122.8 L453.9 1154.0 L455.8 1181.4 L457.7 1203.4 L459.6 1219.4 L461.5 1230.3 L463.4 1237.3 L465.3 1241.4 L467.1 1244.0 L469.0 1245.5 L470.9 1246.1 L472.8 1247.3 L474.7 1247.9 L476.6 1248.4 L478.5 1248.8 L480.3 1249.1 L482.2 1248.9 L484.1 1249.1 L486.0 1249.3 L487.9 1249.5 L489.8 1250.2 L491.6 1250.3 L493.5 1250.4 L495.4 1250.5 L497.3 1250.6 L499.2 1250.7 L501.1 1250.8 L502.9 1250.9 L504.8 1250.9 L506.7 1251.0 L508.6 1251.0 L510.5 1251.1 L512.4 1251.1 L514.3 1251.2 L516.1 1251.2 L518.0 1251.2 L519.9 1251.3 L521.8 1251.3 L523.7 1251.3 L525.6 1251.4 L527.4 1251.4 L529.3 1251.4 L531.2 1251.4 L533.1 1251.4 L535.0 1251.5 L536.9 1251.5 L538.8 1251.5 L540.6 1251.5 L542.5 1251.5 L544.4 1251.5 L546.3 1251.5 L548.2 1251.5 L550.1 1251.5 L551.9 1251.5 L553.8 1252.0 L555.7 1252.0 L557.6 1252.1 L559.5 1252.1 L561.4 1251.1 L563.3 1251.1 L565.1 1251.1 L567.0 1251.1 L568.9 1251.6 L570.8 1251.6 L572.7 1251.6 L574.6 1251.6 L576.4 1251.6 L578.3 1251.6 L580.2 1251.5 L582.1 1251.5 L584.0 1251.5 L585.9 1251.5 L587.7 1251.5 L589.6 1251.5 L591.5 1251.5 L593.4 1251.5 L595.3 1251.5 L597.2 1251.4 L599.1 1251.4 L600.9 1251.4 L602.8 1251.4 L604.7 1251.3 L606.6 1251.3 L608.5 1251.3 L610.4 1251.2 L612.2 1251.2 L614.1 1251.1 L616.0 1251.0 L617.9 1251.0 L619.8 1250.9 L621.7 1250.8 L623.6 1250.7 L625.4 1250.5 L627.3 1250.4 L629.2 1250.2 L631.1 1249.9 L633.0 1250.5 L634.9 1249.9 L636.7 1249.1 L638.6 1247.9 L640.5 1245.0 L642.8 1241.1 L644.7 1236.4 L646.6 1230.1 L648.5 1222.2 L650.4 1212.9 L652.3 1203.0 L654.1 1193.3 L656.0 1184.1 L657.9 1178.0 L659.8 1184.1 L661.7 1193.3 L663.6 1203.0 L665.4 1213.0 L667.3 1222.2 L669.2 1230.1 L671.1 1236.5 L673.0 1241.1 L674.4 1243.8 L676.3 1247.1 L678.2 1248.6 L680.1 1249.6 L682.0 1249.4 L683.9 1249.8 L685.7 1250.1 L687.6 1250.3 L689.5 1251.0 L691.4 1251.1 L693.3 1251.3 L695.2 1251.4 L697.0 1251.0 L698.9 1251.1 L700.8 1251.1 L702.7 1251.2 L704.6 1251.3 L706.5 1250.8 L708.3 1250.9 L710.2 1250.9 L712.1 1250.9 L714.0 1252.0 L715.9 1252.0 L717.8 1252.0 L719.7 1252.0 L721.5 1251.1 L723.4 1251.1 L725.3 1251.1 L727.2 1251.1 L729.1 1251.6 L731.0 1251.7 L732.8 1251.7 L734.7 1251.7 L736.6 1251.7 L738.5 1252.2 L740.4 1252.2 L742.3 1252.2 L744.2 1252.2 L746.0 1251.8 L747.9 1251.8 L749.8 1251.8 L751.7 1251.8 L753.6 1251.8 L755.5 1251.8 L757.3 1251.8 L759.2 1251.8 L761.1 1252.7 L763.0 1252.7 L764.9 1252.7 L766.8 1252.7 L768.6 1252.7 L770.5 1251.8 L772.4 1251.8 L774.3 1251.8 L776.2 1251.8 L778.1 1251.4 L780.0 1251.4 L781.8 1251.4 L783.7 1251.4 L785.6 1252.4 L787.5 1252.4 L789.4 1252.4 L791.3 1252.4 L793.1 1251.9 L795.0 1251.9 L796.9 1251.9 L798.8 1251.9 L800.7 1251.9 L802.6 1251.9 L804.5 1251.9 L806.3 1251.9 L808.2 1251.9 L810.1 1252.8 L812.0 1252.8 L813.9 1252.8 L815.8 1252.8 L817.6 1252.4 L819.5 1252.4 L821.4 1252.4 L823.3 1252.4 L825.2 1251.9 L827.1 1251.9 L829.0 1251.9 L830.8 1251.9 L832.7 1251.9 L834.6 1251.9 L836.5 1251.9 L838.4 1251.9 L840.3 1251.9 L842.1 1251.9 L844.0 1251.9 L845.9 1251.9 L847.8 1251.9 L849.7 1251.9 L851.6 1251.9 L853.4 1251.9 L855.3 1251.9 L857.2 1251.9 L859.1 1251.9 L861.0 1251.9 L862.9 1251.9 L864.8 1251.9 L866.6 1251.9 L868.5 1251.9 L870.4 1251.9 L872.3 1251.9 L874.2 1251.9 L876.1 1251.9 L877.9 1251.9 L879.8 1251.9 L881.7 1251.9 L883.6 1251.9 L885.5 1251.9 L887.4 1251.9 L889.3 1252.8 L891.1 1252.8 L893.0 1252.8 L894.9 1252.8 L896.8 1252.8 L898.7 1251.9 L900.6 1251.9 L902.4 1251.9 L904.3 1251.9 L906.2 1251.9 L908.1 1251.9 L910.0 1251.9 L911.9 1251.9 L913.7 1251.9 L915.6 1251.9 L917.5 1251.9 L919.4 1251.9 L921.3 1252.4 L923.2 1252.4 L925.1 1252.4 L926.9 1252.4 L928.8 1252.4 L930.7 1252.8 L932.6 1252.8 L934.5 1252.8 L936.4 1252.8 L938.2 1251.9 L940.1 1251.9 L942.0 1251.9 L943.9 1251.9 L945.8 1251.9 L947.7 1251.9 L949.6 1251.9 L951.4 1251.9 L953.3 1251.9 L955.2 1251.9 L957.1 1251.9 L959.0 1251.9 L960.9 1251.9 L962.7 1251.9 L964.6 1251.9 L966.5 1251.9 L968.4 1251.9 L970.3 1251.9 L972.2 1251.9 L974.0 1251.9 L975.9 1251.9 L977.8 1251.9 L979.7 1251.9 L981.6 1251.9 L983.5 1251.9 L985.4 1251.9 L987.2 1251.9 L989.1 1251.9 L991.0 1251.9 L992.9 1251.9 L994.8 1251.9 L996.7 1251.9 L998.5 1251.9 L1000.4 1251.9 L1002.3 1251.9 L1004.2 1251.9 L1006.1 1251.9 L1008.0 1251.9 L1009.9 1251.9 L1011.7 1251.9 L1013.6 1251.9 L1015.5 1251.9 L1017.4 1252.4 L1019.3 1252.4 L1021.2 1252.4 L1023.0 1252.4 L1024.9 1252.4 L1026.8 1251.9 L1028.7 1251.9 L1030.6 1251.9 L1032.5 1251.9 L1034.4 1251.9 L1036.2 1251.9 L1038.1 1251.9 L1040.0 1251.9 L1041.9 1251.9 L1043.8 1251.9 L1045.7 1251.9 L1047.5 1251.9 L1049.4 1252.8 L1051.3 1252.8 L1053.2 1252.8 L1055.1 1252.8 L1057.0 1252.8 L1058.8 1251.4 L1060.7 1251.4 L1062.6 1251.4 L1064.5 1251.4 L1066.4 1251.9 L1068.3 1251.9 L1070.2 1251.9 L1072.0 1251.9 L1073.9 1251.4 L1075.8 1251.4 L1077.7 1251.4 L1079.6 1251.4 L1081.5 1251.9 L1083.3 1251.9 L1085.2 1251.9 L1087.1 1251.9 L1089.0 1251.9 L1090.9 1251.9 L1092.8 1251.9 L1094.7 1251.9 L1096.5 1251.9 L1098.4 1251.9 L1100.3 1251.9 L1102.2 1251.9 L1104.1 1251.9 L1106.0 1252.8 L1107.8 1252.8 L1109.7 1252.8 L1111.6 1252.8 L1113.5 1251.9 L1115.4 1251.9 L1117.3 1251.9 L1119.1 1251.9 L1121.0 1251.9 L1122.9 1251.9 L1124.8 1251.9 L1126.7 1251.9 L1128.6 1251.9 L1130.5 1251.9 L1132.3 1251.9 L1134.2 1251.9 L1136.1 1251.9 L1138.0 1251.9 L1139.9 1251.9 L1141.8 1251.9 L1143.6 1251.9 L1145.5 1251.9 L1147.4 1251.9 L1149.3 1251.9 L1151.2 1251.9 L1153.1 1251.9 L1155.0 1251.9 L1156.8 1251.9 L1158.7 1251.9 L1160.6 1251.9 L1162.5 1251.9 L1164.4 1251.9 L1166.3 1251.9 L1168.1 1251.9 L1170.0 1251.9 L1171.9 1251.8 L1173.8 1251.8 L1175.7 1251.8 L1177.6 1251.8 L1179.4 1251.8 L1181.3 1251.8 L1183.2 1251.8 L1185.1 1251.8 L1187.0 1251.8 L1188.9 1251.8 L1190.8 1251.8 L1192.6 1251.8 L1194.5 1251.8 L1196.4 1251.8 L1198.3 1251.8 L1200.2 1251.8 L1202.1 1251.8 L1203.9 1251.8 L1205.8 1251.8 L1207.7 1251.8 L1209.6 1251.8 L1211.5 1251.8 L1213.4 1251.8 L1215.3 1251.7 L1217.1 1251.7 L1219.0 1251.7 L1220.9 1251.7 L1222.8 1251.7 L1224.7 1251.7 L1226.6 1251.7 L1228.4 1251.7 L1230.3 1251.7 L1232.2 1251.7 L1234.1 1251.7 L1236.0 1251.6 L1237.9 1251.6 L1239.7 1251.6 L1241.6 1251.6 L1243.5 1251.6 L1245.4 1251.6 L1247.3 1251.6 L1249.2 1251.5 L1251.1 1251.5 L1252.9 1251.5 L1254.8 1251.5 L1256.7 1251.4 L1258.6 1251.4 L1260.5 1251.4 L1262.4 1251.4 L1264.2 1251.3 L1266.1 1251.3 L1268.0 1251.3 L1269.9 1251.2 L1271.8 1251.2 L1273.7 1251.1 L1275.6 1251.1 L1277.4 1251.0 L1279.3 1251.0 L1281.2 1250.9 L1283.1 1250.8 L1285.0 1250.7 L1286.9 1250.7 L1288.7 1250.6 L1290.6 1250.9 L1292.5 1250.8 L1294.4 1250.7 L1296.3 1250.5 L1298.2 1249.8 L1300.1 1249.6 L1301.9 1249.4 L1303.8 1249.1 L1305.7 1249.7 L1307.6 1249.3 L1309.5 1248.7 L1311.4 1248.0 L1313.2 1246.0 L1315.1 1244.4 L1317.0 1242.0 L1318.9 1238.3 L1320.8 1232.9 L1322.6 1225.5 L1324.5 1215.3 L1326.4 1202.3 L1328.3 1186.7 L1330.2 1169.2 L1332.0 1151.0 L1333.9 1133.4 L1335.8 1116.8 L1337.7 1106.0 L1339.6 1116.8 L1341.5 1133.4 L1343.4 1151.0 L1345.2 1169.2 L1347.1 1186.7 L1349.0 1202.3 L1350.9 1215.3 L1352.8 1225.5 L1354.7 1233.2 L1356.6 1238.5 L1358.5 1242.1 L1360.4 1244.5 L1362.2 1245.5 L1364.1 1246.6 L1366.0 1247.3 L1367.9 1247.9 L1369.8 1248.8 L1371.7 1249.1 L1373.5 1249.4 L1375.4 1249.6 L1377.3 1249.8 L1379.2 1250.0 L1381.1 1250.2 L1383.0 1250.3 L1384.8 1250.4 L1386.7 1251.0 L1388.6 1251.1 L1390.5 1251.2 L1392.4 1251.3 L1394.3 1250.9 L1396.2 1251.0 L1398.0 1251.0 L1399.9 1251.1 L1401.8 1250.6 L1403.7 1250.7 L1405.6 1250.7 L1407.5 1250.8 L1409.3 1250.8 L1411.2 1250.8 L1413.1 1250.9 L1415.0 1250.9 L1416.9 1250.9 L1418.8 1251.4 L1420.7 1251.5 L1422.5 1251.5 L1424.4 1251.5 L1426.3 1251.5 L1428.2 1251.5 L1430.1 1251.6 L1432.0 1251.6 L1433.8 1251.6 L1435.7 1251.6 L1437.6 1251.6 L1439.5 1251.6 L1441.4 1251.6 L1443.3 1251.6 L1445.1 1251.7 L1447.0 1251.7 L1448.9 1251.7 L1450.8 1251.7 L1452.7 1251.7 L1454.6 1251.7 L1456.5 1251.7 L1458.3 1252.2 L1460.2 1252.2 L1462.1 1252.2 L1464.0 1252.2 L1465.9 1251.7 L1467.8 1251.7 L1469.6 1251.8 L1471.5 1251.8 L1473.4 1251.8 L1475.3 1251.3 L1477.2 1251.3 L1479.1 1251.3 L1481.0 1251.3 L1482.8 1252.3 L1484.7 1252.3 L1486.6 1252.3 L1488.5 1252.3 L1490.4 1252.7 L1492.3 1252.7 L1494.1 1252.7 L1496.0 1252.7 L1497.9 1251.8 L1499.8 1251.8 L1501.7 1251.8 L1503.6 1251.8 L1505.5 1251.8 L1507.3 1251.8 L1509.2 1251.8 L1511.1 1251.8 L1513.0 1251.8 L1514.9 1251.8 L1516.8 1251.8 L1518.6 1251.8 L1520.5 1251.8 L1522.4 1251.8 L1524.3 1251.8 L1526.2 1251.8 L1528.1 1251.8 L1529.9 1251.8 L1531.8 1251.8 L1533.7 1251.8 L1535.6 1251.8 L1537.5 1251.8 L1539.4 1251.8 L1541.3 1251.8 L1543.1 1251.8 L1545.0 1251.8 L1546.9 1251.8 L1548.8 1251.8 L1550.7 1251.8 L1552.6 1251.8 L1554.4 1251.8 L1556.3 1251.8 L1558.2 1251.8 L1560.1 1251.8 L1562.0 1251.8 L1563.9 1251.8 L1565.8 1251.8 L1567.6 1251.8 L1569.5 1251.8 L1571.4 1251.8 L1573.3 1251.8 L1575.2 1251.8 L1577.1 1251.8 L1578.9 1251.8 L1580.8 1251.8 L1582.7 1251.8 L1584.6 1251.8 L1586.5 1252.7 L1588.4 1252.7 L1590.2 1252.7 L1592.1 1252.7 L1594.0 1251.8 L1595.9 1251.8 L1597.8 1251.8 L1599.7 1251.8 L1601.6 1251.8 L1603.4 1251.8 L1605.3 1251.8 L1607.2 1251.8 L1609.1 1251.8 L1611.0 1251.8 L1612.9 1251.8 L1614.7 1251.8 L1616.6 1251.8 L1618.5 1251.8 L1620.4 1251.8 L1622.3 1251.8 L1624.2 1251.8 L1626.1 1251.3 L1627.9 1251.3 L1629.8 1251.3 L1631.7 1251.3 L1633.6 1251.3 L1635.5 1251.7 L1637.4 1251.7 L1639.2 1251.7 L1641.1 1251.7 L1643.0 1252.2 L1644.9 1252.2 L1646.8 1252.2 L1648.7 1252.2 L1650.5 1252.2 L1652.4 1252.2 L1654.3 1252.2 L1656.2 1252.1 L1658.1 1251.6 L1660.0 1251.6 L1661.9 1251.6 L1663.7 1251.6 L1665.6 1251.6 L1667.5 1251.6 L1669.4 1251.6 L1671.3 1251.5 L1673.2 1251.5 L1675.0 1252.4 L1676.9 1252.4 L1678.8 1252.4 L1680.7 1252.3 L1682.6 1251.4 L1684.5 1251.4 L1686.4 1251.4 L1688.2 1251.3 L1690.1 1251.3 L1692.0 1251.3 L1693.9 1251.2 L1695.8 1251.2 L1697.7 1251.1 L1699.5 1250.6 L1701.4 1250.5 L1703.3 1250.4 L1705.2 1250.4 L1707.1 1251.7 L1709.0 1251.6 L1710.8 1251.5 L1712.7 1251.4 L1714.6 1250.4 L1716.5 1250.2 L1718.4 1250.1 L1720.3 1249.9 L1722.2 1249.7 L1724.0 1249.4 L1725.9 1249.1 L1727.8 1248.7 L1729.7 1248.1 L1731.6 1247.3 L1733.5 1246.2 L1735.3 1244.5 L1737.2 1242.0 L1739.1 1238.3 L1741.0 1233.2 L1742.4 1228.3 L1744.3 1219.9 L1746.1 1209.5 L1748.0 1197.4 L1749.9 1184.1 L1751.8 1170.4 L1753.7 1157.3 L1755.6 1144.9 L1757.5 1137.0 L1759.3 1144.9 L1761.2 1157.3 L1763.1 1170.4 L1765.0 1184.0 L1766.9 1197.4 L1768.8 1209.5 L1770.6 1219.9 L1772.5 1228.3 L1774.9 1236.1 L1776.8 1240.4 L1778.7 1243.4 L1780.6 1245.5 L1782.5 1246.8 L1784.3 1247.8 L1786.2 1248.4 L1788.1 1248.9 L1790.0 1249.2 L1791.9 1249.5 L1793.8 1249.7 L1795.6 1250.4 L1797.5 1250.6 L1799.4 1250.7 L1801.3 1250.9 L1803.2 1250.5 L1805.1 1250.6 L1807.0 1250.7 L1808.8 1250.7 L1810.7 1251.3 L1812.6 1251.4 L1814.5 1251.4 L1816.4 1251.5 L1818.3 1251.5 L1820.1 1251.5 L1822.0 1251.6 L1823.9 1251.6 L1825.8 1251.6 L1827.7 1251.2 L1829.6 1251.2 L1831.5 1251.2 L1833.3 1251.2 L1835.2 1251.2 L1837.1 1251.2 L1839.0 1251.2 L1840.9 1251.2 L1842.8 1251.2 L1844.6 1251.2 L1846.5 1251.1 L1848.4 1251.1 L1850.3 1251.1 L1852.2 1251.0 L1854.1 1251.0 L1855.9 1250.9 L1857.8 1250.8 L1859.7 1250.7 L1861.6 1250.5 L1863.5 1250.2 L1865.4 1249.9 L1867.3 1249.4 L1869.1 1248.7 L1871.0 1247.7 L1872.9 1246.4 L1874.8 1244.8 L1876.6 1242.8 L1878.5 1240.7 L1880.4 1238.3 L1882.3 1236.1 L1884.2 1233.9 L1886.1 1233.0 L1887.9 1233.0 L1889.8 1233.0 L1891.7 1233.9 L1893.6 1236.1 L1895.5 1238.4 L1897.4 1240.7 L1899.3 1242.9 L1901.1 1244.9 L1903.0 1246.5 L1904.9 1247.8 L1906.8 1249.7 L1908.7 1250.4 L1910.6 1250.9 L1912.5 1251.3 L1914.4 1250.7 L1916.2 1250.8 L1918.1 1251.0 L1920.0 1251.1 L1921.9 1251.2 L1923.8 1252.2 L1925.7 1252.2 L1927.6 1252.3 L1929.4 1252.3 L1931.3 1252.4 L1933.2 1252.4 L1935.1 1252.4 L1937.0 1252.5 L1938.9 1251.6 L1940.7 1251.6 L1942.6 1251.6 L1944.5 1251.7 L1946.4 1252.6 L1948.3 1252.6 L1950.2 1252.6 L1952.1 1252.6 L1953.9 1252.6 L1955.8 1251.7 L1957.7 1251.8 L1959.6 1251.8" fill="none" stroke="#0000D2" stroke-width="16.5" stroke-linejoin="bevel" />
<path id="c4" d="M62.0 1045.0 L63.9 1045.0 L65.8 1045.0 L67.7 1045.0 L69.5 1045.0 L71.4 1045.0 L73.3 1045.0 L75.2 1045.0 L77.1 1045.0 L79.0 1045.0 L80.8 1045.0 L82.7 1045.0 L84.6 1045.0 L86.5 1045.0 L88.4 1045.0 L90.3 1045.0 L92.2 1045.0 L94.0 1045.0 L95.9 1045.0 L97.8 1045.0 L99.7 1045.0 L101.6 1045.0 L103.5 1045.0 L105.3 1045.0 L107.2 1045.0 L109.1 1045.0 L111.0 1045.0 L112.9 1044.5 L114.8 1044.5 L116.6 1044.5 L118.5 1044.5 L120.4 1045.0 L122.3 1045.0 L124.2 1045.0 L126.1 1045.0 L128.0 1045.0 L129.8 1045.0 L131.7 1045.0 L133.6 1045.0 L135.5 1045.0 L137.4 1045.0 L139.3 1045.0 L141.1 1045.0 L143.0 1045.0 L144.9 1045.0 L146.8 1045.0 L148.7 1045.0 L150.6 1045.0 L152.5 1045.9 L154.3 1045.9 L156.2 1045.9 L158.1 1045.9 L160.0 1045.9 L161.9 1044.9 L163.8 1044.9 L165.6 1044.9 L167.5 1044.9 L169.4 1044.9 L171.3 1044.9 L173.2 1044.9 L175.1 1044.9 L176.9 1045.9 L178.8 1045.9 L180.7 1045.9 L182.6 1045.9 L184.5 1044.5 L186.4 1044.5 L188.3 1044.4 L190.1 1044.4 L192.0 1044.4 L193.9 1044.9 L195.8 1044.9 L197.7 1044.9 L199.6 1044.9 L201.4 1044.9 L203.3 1044.9 L205.2 1044.9 L207.1 1044.9 L209.0 1044.9 L210.9 1044.9 L212.8 1044.9 L214.6 1044.9 L216.5 1044.9 L218.4 1044.9 L220.3 1044.9 L222.2 1044.9 L224.1 1044.9 L225.9 1044.9 L227.8 1044.9 L229.7 1044.9 L231.6 1044.9 L233.5 1044.4 L235.4 1044.4 L237.2 1044.4 L239.1 1044.4 L241.0 1044.9 L242.9 1044.9 L244.8 1044.9 L246.7 1044.9 L248.6 1044.9 L250.4 1044.9 L252.3 1044.9 L254.2 1044.9 L256.1 1044.9 L258.0 1045.4 L259.9 1045.4 L261.7 1045.4 L263.6 1045.4 L265.5 1044.9 L267.4 1044.9 L269.3 1044.9 L271.2 1044.9 L273.1 1044.4 L274.9 1044.4 L276.8 1044.4 L278.7 1044.4 L280.6 1044.9 L282.5 1044.9 L284.4 1044.9 L286.2 1044.9 L288.1 1044.9 L290.0 1045.8 L291.9 1045.8 L293.8 1045.8 L295.7 1045.8 L297.5 1044.8 L299.4 1044.8 L301.3 1044.8 L303.2 1044.8 L305.1 1044.3 L307.0 1044.3 L308.9 1044.3 L310.7 1044.3 L312.6 1044.8 L314.5 1044.8 L316.4 1044.8 L318.3 1044.8 L320.2 1044.8 L322.0 1045.7 L323.9 1045.7 L325.8 1045.7 L327.7 1045.7 L329.6 1044.3 L331.5 1044.3 L333.4 1044.2 L335.2 1044.2 L337.1 1044.7 L339.0 1044.7 L340.9 1044.7 L342.8 1044.7 L344.7 1044.7 L346.5 1044.7 L348.4 1044.7 L350.3 1044.6 L352.2 1044.6 L354.1 1045.5 L356.0 1045.5 L357.9 1045.5 L359.7 1045.5 L361.6 1044.6 L363.5 1044.5 L365.4 1044.5 L367.3 1044.5 L369.2 1044.5 L371.0 1044.4 L372.9 1044.4 L374.8 1044.4 L376.7 1044.4 L378.6 1044.3 L380.5 1044.3 L382.3 1044.3 L384.2 1044.2 L386.1 1044.2 L388.0 1044.1 L389.9 1044.1 L391.8 1044.0 L393.7 1044.0 L395.5 1043.9 L397.4 1043.8 L399.3 1043.7 L401.2 1043.6 L403.1 1043.5 L405.0 1043.4 L406.8 1043.3 L408.7 1043.1 L410.6 1043.0 L412.5 1042.8 L414.4 1042.5 L416.3 1042.3 L418.2 1042.0 L420.0 1041.6 L421.9 1041.2 L423.8 1040.7 L425.7 1040.0 L427.6 1039.2 L429.5 1037.9 L431.3 1035.9 L433.2 1032.6 L435.1 1027.3 L436.0 1023.6 L437.9 1012.9 L439.8 997.1 L441.7 975.4 L443.6 948.4 L445.4 917.6 L447.3 886.4 L449.2 857.3 L451.1 837.0 L453.0 857.3 L454.9 886.4 L456.7 917.6 L458.6 948.3 L460.5 975.4 L462.4 997.1 L464.3 1012.9 L466.2 1023.6 L467.1 1027.5 L469.0 1032.8 L470.9 1036.0 L472.8 1037.9 L474.7 1040.1 L476.6 1041.0 L478.5 1041.6 L480.3 1042.1 L482.2 1042.5 L484.1 1042.9 L486.0 1043.2 L487.9 1043.4 L489.8 1043.2 L491.6 1043.4 L493.5 1043.6 L495.4 1043.7 L497.3 1043.4 L499.2 1043.5 L501.1 1043.6 L502.9 1043.7 L504.8 1043.8 L506.7 1043.8 L508.6 1043.9 L510.5 1044.0 L512.4 1044.0 L514.3 1044.1 L516.1 1044.1 L518.0 1044.2 L519.9 1044.2 L521.8 1044.2 L523.7 1044.3 L525.6 1044.3 L527.4 1044.3 L529.3 1044.4 L531.2 1044.4 L533.1 1044.4 L535.0 1044.4 L536.9 1044.4 L538.8 1044.5 L540.6 1044.5 L542.5 1044.5 L544.4 1044.5 L546.3 1044.5 L548.2 1044.5 L550.1 1044.5 L551.9 1044.5 L553.8 1044.5 L555.7 1044.6 L557.6 1044.6 L559.5 1044.6 L561.4 1044.6 L563.3 1044.6 L565.1 1044.6 L567.0 1044.6 L568.9 1045.5 L570.8 1045.5 L572.7 1045.5 L574.6 1045.5 L576.4 1045.5 L578.3 1044.6 L580.2 1044.6 L582.1 1044.6 L584.0 1044.6 L585.9 1044.6 L587.7 1044.6 L589.6 1044.6 L591.5 1044.5 L593.4 1044.5 L595.3 1044.5 L597.2 1044.5 L599.1 1044.5 L600.9 1044.5 L602.8 1044.5 L604.7 1044.4 L606.6 1044.4 L608.5 1044.4 L610.4 1044.4 L612.2 1044.3 L614.1 1044.3 L616.0 1044.3 L617.9 1045.1 L619.8 1045.1 L621.7 1045.0 L623.6 1045.0 L625.4 1044.5 L627.3 1044.4 L629.2 1044.3 L631.1 1044.2 L633.0 1044.0 L634.9 1043.9 L636.7 1043.7 L638.6 1043.4 L640.5 1043.1 L642.4 1042.1 L644.3 1041.4 L646.2 1040.3 L648.0 1038.5 L649.9 1035.7 L650.8 1034.0 L652.7 1029.2 L654.6 1022.8 L656.5 1014.8 L658.4 1005.4 L660.3 995.4 L662.1 985.5 L664.0 976.2 L665.9 970.0 L667.8 976.2 L669.7 985.5 L671.6 995.4 L673.5 1005.4 L675.3 1014.8 L677.2 1022.9 L679.1 1029.2 L681.0 1034.0 L682.0 1035.9 L683.9 1038.6 L685.7 1040.3 L687.6 1041.5 L689.5 1042.2 L691.4 1042.7 L693.3 1043.0 L695.2 1043.2 L697.0 1043.4 L698.9 1043.6 L700.8 1043.7 L702.7 1043.9 L704.6 1044.0 L706.5 1044.0 L708.3 1044.1 L710.2 1044.2 L712.1 1044.2 L714.0 1044.3 L715.9 1044.3 L717.8 1044.4 L719.7 1044.4 L721.5 1044.5 L723.4 1044.5 L725.3 1044.5 L727.2 1044.5 L729.1 1044.6 L731.0 1044.6 L732.8 1044.6 L734.7 1044.6 L736.6 1044.6 L738.5 1044.7 L740.4 1044.7 L742.3 1044.7 L744.2 1044.7 L746.0 1044.7 L747.9 1044.7 L749.8 1044.7 L751.7 1044.7 L753.6 1044.7 L755.5 1044.8 L757.3 1044.8 L759.2 1044.8 L761.1 1044.8 L763.0 1044.8 L764.9 1044.8 L766.8 1044.8 L768.6 1044.8 L770.5 1044.8 L772.4 1044.8 L774.3 1044.8 L776.2 1044.8 L778.1 1044.8 L780.0 1044.8 L781.8 1044.8 L783.7 1044.8 L785.6 1045.8 L787.5 1045.8 L789.4 1045.8 L791.3 1045.8 L793.1 1044.9 L795.0 1044.9 L796.9 1044.9 L798.8 1044.9 L800.7 1044.9 L802.6 1044.9 L804.5 1044.9 L806.3 1044.9 L808.2 1044.9 L810.1 1044.9 L812.0 1044.9 L813.9 1044.9 L815.8 1044.9 L817.6 1044.9 L819.5 1044.9 L821.4 1044.9 L823.3 1044.9 L825.2 1044.9 L827.1 1044.9 L829.0 1044.9 L830.8 1044.9 L832.7 1044.9 L834.6 1044.9 L836.5 1044.9 L838.4 1044.9 L840.3 1044.9 L842.1 1045.4 L844.0 1045.4 L845.9 1045.4 L847.8 1045.4 L849.7 1044.9 L851.6 1044.9 L853.4 1044.9 L855.3 1044.9 L857.2 1044.9 L859.1 1044.9 L861.0 1044.9 L862.9 1044.9 L864.8 1044.9 L866.6 1044.4 L868.5 1044.4 L870.4 1044.4 L872.3 1044.4 L874.2 1044.9 L876.1 1044.9 L877.9 1044.9 L879.8 1044.9 L881.7 1044.9 L883.6 1044.9 L885.5 1044.9 L887.4 1044.9 L889.3 1044.9 L891.1 1044.9 L893.0 1044.9 L894.9 1044.9 L896.8 1044.9 L898.7 1044.4 L900.6 1044.4 L902.4 1044.4 L904.3 1044.4 L906.2 1044.9 L908.1 1044.9 L910.0 1044.9 L911.9 1044.9 L913.7 1044.9 L915.6 1044.9 L917.5 1044.9 L919.4 1044.9 L921.3 1045.8 L923.2 1045.8 L925.1 1045.8 L926.9 1045.8 L928.8 1045.8 L930.7 1044.9 L932.6 1044.9 L934.5 1044.9 L936.4 1044.9 L938.2 1044.9 L940.1 1044.9 L942.0 1044.9 L943.9 1044.9 L945.8 1044.9 L947.7 1044.9 L949.6 1044.9 L951.4 1044.9 L953.3 1045.4 L955.2 1045.4 L957.1 1045.4 L959.0 1045.4 L960.9 1045.4 L962.7 1044.9 L964.6 1044.9 L966.5 1044.9 L968.4 1044.9 L970.3 1044.9 L972.2 1044.9 L974.0 1044.9 L975.9 1044.9 L977.8 1044.9 L979.7 1044.9 L981.6 1044.9 L983.5 1044.9 L985.4 1045.4 L987.2 1045.4 L989.1 1045.4 L991.0 1045.4 L992.9 1045.4 L994.8 1044.9 L996.7 1044.9 L998.5 1044.9 L1000.4 1044.9 L1002.3 1044.9 L1004.2 1044.9 L1006.1 1044.9 L1008.0 1044.9 L1009.9 1044.9 L1011.7 1044.9 L1013.6 1044.9 L1015.5 1044.9 L1017.4 1045.4 L1019.3 1045.4 L1021.2 1045.4 L1023.0 1045.4 L1024.9 1045.4 L1026.8 1044.4 L1028.7 1044.4 L1030.6 1044.4 L1032.5 1044.4 L1034.4 1044.9 L1036.2 1044.9 L1038.1 1044.9 L1040.0 1044.9 L1041.9 1044.9 L1043.8 1044.9 L1045.7 1044.9 L1047.5 1044.9 L1049.4 1044.9 L1051.3 1044.9 L1053.2 1044.9 L1055.1 1044.9 L1057.0 1044.9 L1058.8 1044.9 L1060.7 1044.9 L1062.6 1044.9 L1064.5 1044.9 L1066.4 1045.8 L1068.3 1045.8 L1070.2 1045.8 L1072.0 1045.8 L1073.9 1044.9 L1075.8 1044.9 L1077.7 1044.9 L1079.6 1044.9 L1081.5 1045.4 L1083.3 1045.4 L1085.2 1045.4 L1087.1 1045.4 L1089.0 1045.4 L1090.9 1044.9 L1092.8 1044.9 L1094.7 1044.9 L1096.5 1044.9 L1098.4 1044.9 L1100.3 1044.9 L1102.2 1044.9 L1104.1 1044.9 L1106.0 1044.9 L1107.8 1044.9 L1109.7 1044.9 L1111.6 1044.9 L1113.5 1044.9 L1115.4 1044.9 L1117.3 1044.9 L1119.1 1044.9 L1121.0 1044.9 L1122.9 1044.9 L1124.8 1044.9 L1126.7 1044.9 L1128.6 1044.9 L1130.5 1044.9 L1132.3 1044.9 L1134.2 1044.9 L1136.1 1044.9 L1138.0 1044.9 L1139.9 1044.9 L1141.8 1044.9 L1143.6 1044.9 L1145.5 1044.9 L1147.4 1044.9 L1149.3 1044.9 L1151.2 1044.9 L1153.1 1044.9 L1155.0 1044.9 L1156.8 1044.9 L1158.7 1044.9 L1160.6 1044.9 L1162.5 1045.4 L1164.4 1045.4 L1166.3 1045.4 L1168.1 1045.3 L1170.0 1045.3 L1171.9 1045.3 L1173.8 1045.3 L1175.7 1045.3 L1177.6 1044.8 L1179.4 1044.8 L1181.3 1044.8 L1183.2 1044.8 L1185.1 1044.8 L1187.0 1045.7 L1188.9 1045.7 L1190.8 1045.7 L1192.6 1045.7 L1194.5 1044.8 L1196.4 1044.8 L1198.3 1044.8 L1200.2 1044.8 L1202.1 1044.8 L1203.9 1044.8 L1205.8 1044.8 L1207.7 1044.8 L1209.6 1044.8 L1211.5 1044.8 L1213.4 1044.8 L1215.3 1044.8 L1217.1 1044.7 L1219.0 1044.7 L1220.9 1044.7 L1222.8 1044.7 L1224.7 1044.7 L1226.6 1044.7 L1228.4 1044.7 L1230.3 1044.7 L1232.2 1044.7 L1234.1 1044.7 L1236.0 1044.7 L1237.9 1044.7 L1239.7 1044.6 L1241.6 1044.6 L1243.5 1044.6 L1245.4 1044.6 L1247.3 1044.6 L1249.2 1044.6 L1251.1 1044.6 L1252.9 1044.5 L1254.8 1044.5 L1256.7 1044.5 L1258.6 1044.5 L1260.5 1044.4 L1262.4 1044.4 L1264.2 1044.4 L1266.1 1044.4 L1268.0 1044.3 L1269.9 1044.3 L1271.8 1044.3 L1273.7 1044.2 L1275.6 1044.2 L1277.4 1044.1 L1279.3 1044.1 L1281.2 1044.0 L1283.1 1044.0 L1285.0 1043.9 L1286.9 1043.9 L1288.7 1043.8 L1290.6 1044.6 L1292.5 1044.5 L1294.4 1044.4 L1296.3 1044.3 L1298.2 1043.3 L1300.1 1043.1 L1301.9 1042.9 L1303.8 1042.8 L1305.7 1042.5 L1307.6 1042.3 L1309.5 1042.0 L1311.4 1041.6 L1313.2 1041.2 L1315.1 1040.6 L1317.0 1039.9 L1318.9 1038.7 L1320.8 1037.1 L1322.7 1034.5 L1324.5 1030.7 L1326.4 1025.1 L1328.3 1017.4 L1330.2 1006.8 L1332.0 993.3 L1333.9 977.0 L1335.8 958.8 L1337.7 939.8 L1339.6 921.5 L1341.5 904.2 L1343.4 893.0 L1345.2 904.2 L1347.1 921.5 L1349.0 939.8 L1350.9 958.8 L1352.8 977.0 L1354.7 993.3 L1356.5 1006.8 L1358.4 1017.4 L1360.4 1025.4 L1362.2 1030.9 L1364.1 1034.7 L1366.0 1037.2 L1367.9 1038.8 L1369.8 1039.4 L1371.7 1040.2 L1373.5 1040.7 L1375.4 1041.2 L1377.3 1041.5 L1379.2 1042.3 L1381.1 1042.5 L1383.0 1042.8 L1384.8 1042.9 L1386.7 1043.1 L1388.6 1043.3 L1390.5 1043.4 L1392.4 1043.5 L1394.3 1043.6 L1396.2 1043.7 L1398.0 1043.8 L1399.9 1043.9 L1401.8 1043.9 L1403.7 1044.0 L1405.6 1044.0 L1407.5 1044.1 L1409.3 1044.1 L1411.2 1044.2 L1413.1 1044.2 L1415.0 1044.3 L1416.9 1044.3 L1418.8 1044.3 L1420.7 1044.4 L1422.5 1044.4 L1424.4 1044.4 L1426.3 1044.4 L1428.2 1044.5 L1430.1 1044.5 L1432.0 1044.5 L1433.8 1044.5 L1435.7 1044.5 L1437.6 1044.6 L1439.5 1044.6 L1441.4 1044.6 L1443.3 1044.6 L1445.1 1044.6 L1447.0 1044.6 L1448.9 1044.6 L1450.8 1044.6 L1452.7 1044.7 L1454.6 1044.7 L1456.5 1044.7 L1458.3 1044.7 L1460.2 1044.7 L1462.1 1044.7 L1464.0 1044.7 L1465.9 1044.7 L1467.8 1044.7 L1469.6 1044.7 L1471.5 1044.7 L1473.4 1044.7 L1475.3 1044.7 L1477.2 1044.7 L1479.1 1044.8 L1481.0 1044.8 L1482.8 1044.8 L1484.7 1044.8 L1486.6 1044.8 L1488.5 1044.8 L1490.4 1044.8 L1492.3 1044.8 L1494.1 1044.8 L1496.0 1044.8 L1497.9 1044.8 L1499.8 1044.8 L1501.7 1044.8 L1503.6 1044.8 L1505.5 1044.8 L1507.3 1044.8 L1509.2 1044.8 L1511.1 1044.8 L1513.0 1044.8 L1514.9 1044.8 L1516.8 1044.8 L1518.6 1044.8 L1520.5 1044.8 L1522.4 1044.8 L1524.3 1044.8 L1526.2 1044.8 L1528.1 1044.8 L1529.9 1044.8 L1531.8 1044.8 L1533.7 1044.8 L1535.6 1044.8 L1537.5 1044.8 L1539.4 1044.8 L1541.3 1044.8 L1543.1 1044.8 L1545.0 1044.8 L1546.9 1044.3 L1548.8 1044.3 L1550.7 1044.3 L1552.6 1044.3 L1554.4 1044.8 L1556.3 1044.8 L1558.2 1044.8 L1560.1 1044.8 L1562.0 1045.7 L1563.9 1045.7 L1565.8 1045.7 L1567.6 1045.7 L1569.5 1045.7 L1571.4 1044.8 L1573.3 1044.8 L1575.2 1044.8 L1577.1 1044.8 L1578.9 1044.8 L1580.8 1044.8 L1582.7 1044.8 L1584.6 1044.8 L1586.5 1044.8 L1588.4 1044.8 L1590.2 1044.8 L1592.1 1044.8 L1594.0 1044.8 L1595.9 1044.8 L1597.8 1044.8 L1599.7 1044.8 L1601.6 1044.8 L1603.4 1044.8 L1605.3 1044.8 L1607.2 1044.8 L1609.1 1044.8 L1611.0 1044.8 L1612.9 1044.8 L1614.7 1044.8 L1616.6 1044.8 L1618.5 1044.8 L1620.4 1044.8 L1622.3 1044.8 L1624.2 1044.8 L1626.1 1045.3 L1627.9 1045.3 L1629.8 1045.2 L1631.7 1045.2 L1633.6 1045.2 L1635.5 1044.3 L1637.4 1044.2 L1639.2 1044.2 L1641.1 1044.2 L1643.0 1045.6 L1644.9 1045.6 L1646.8 1045.6 L1648.7 1045.6 L1650.5 1044.7 L1652.4 1044.7 L1654.3 1044.7 L1656.2 1044.7 L1658.1 1044.7 L1660.0 1044.6 L1661.9 1044.6 L1663.7 1044.6 L1665.6 1044.6 L1667.5 1044.6 L1669.4 1044.6 L1671.3 1044.6 L1673.2 1044.5 L1675.0 1044.5 L1676.9 1044.5 L1678.8 1044.5 L1680.7 1044.5 L1682.6 1044.9 L1684.5 1044.9 L1686.4 1044.9 L1688.2 1044.9 L1690.1 1044.3 L1692.0 1044.3 L1693.9 1044.3 L1695.8 1044.2 L1697.7 1044.2 L1699.5 1044.1 L1701.4 1044.1 L1703.3 1044.0 L1705.2 1044.0 L1707.1 1043.9 L1709.0 1043.8 L1710.8 1043.7 L1712.7 1043.7 L1714.6 1043.5 L1716.5 1043.4 L1718.4 1043.3 L1720.3 1043.2 L1722.2 1042.5 L1724.0 1042.3 L1725.9 1042.1 L1727.8 1041.8 L1729.7 1041.4 L1731.6 1042.0 L1733.5 1041.4 L1735.3 1040.5 L1737.2 1038.7 L1739.1 1036.8 L1741.0 1034.0 L1742.9 1029.9 L1744.8 1024.2 L1745.7 1020.9 L1747.6 1012.3 L1749.4 1001.8 L1751.3 989.4 L1753.2 975.9 L1755.1 962.0 L1757.0 948.6 L1758.9 936.0 L1760.7 928.0 L1762.6 936.0 L1764.5 948.6 L1766.4 962.0 L1768.3 975.9 L1770.2 989.4 L1772.1 1001.8 L1773.9 1012.3 L1775.8 1020.9 L1776.8 1024.5 L1778.7 1030.1 L1780.6 1034.1 L1782.5 1036.9 L1784.3 1038.7 L1786.2 1040.0 L1788.1 1040.9 L1790.0 1041.5 L1791.9 1041.9 L1793.8 1042.2 L1795.6 1042.5 L1797.5 1042.7 L1799.4 1042.9 L1801.3 1043.1 L1803.2 1043.7 L1805.1 1043.8 L1807.0 1044.0 L1808.8 1044.1 L1810.7 1044.1 L1812.6 1044.2 L1814.5 1044.3 L1816.4 1044.3 L1818.3 1043.4 L1820.1 1043.5 L1822.0 1043.5 L1823.9 1043.5 L1825.8 1043.6 L1827.7 1044.1 L1829.6 1044.1 L1831.5 1044.1 L1833.3 1044.1 L1835.2 1043.7 L1837.1 1043.7 L1839.0 1043.7 L1840.9 1043.7 L1842.8 1043.6 L1844.6 1043.6 L1846.5 1043.6 L1848.4 1043.6 L1850.3 1044.5 L1852.2 1044.5 L1854.1 1044.4 L1855.9 1044.4 L1857.8 1044.3 L1859.7 1043.6 L1861.6 1043.5 L1863.5 1043.2 L1865.4 1042.9 L1867.3 1042.3 L1869.1 1041.6 L1871.0 1040.7 L1872.9 1039.4 L1874.8 1037.8 L1876.6 1035.8 L1878.5 1033.6 L1880.4 1031.3 L1882.3 1029.1 L1884.2 1026.9 L1886.1 1026.0 L1887.9 1026.0 L1889.8 1026.0 L1891.7 1026.9 L1893.6 1029.1 L1895.5 1031.4 L1897.4 1033.7 L1899.3 1035.9 L1901.1 1037.9 L1903.0 1039.5 L1904.9 1040.8 L1906.8 1041.8 L1908.7 1042.5 L1910.6 1043.0 L1912.5 1043.4 L1914.4 1043.6 L1916.2 1043.8 L1918.1 1044.0 L1920.0 1044.1 L1921.9 1044.2 L1923.8 1044.7 L1925.7 1044.8 L1927.6 1044.9 L1929.4 1044.9 L1931.3 1044.9 L1933.2 1045.0 L1935.1 1045.0 L1937.0 1045.0 L1938.9 1044.6 L1940.7 1044.6 L1942.6 1044.6 L1944.5 1044.6 L1946.4 1044.7 L1948.3 1044.7 L1950.2 1044.7 L1952.1 1044.7 L1953.9 1044.7 L1955.8 1044.7 L1957.7 1044.7 L1959.6 1044.8" fill="none" stroke="#008000" stroke-width="16.5" stroke-linejoin="bevel" />
<path id="c5" d="M62.0 829.3 L63.9 829.3 L65.8 830.3 L67.7 830.3 L69.5 830.3 L71.4 830.3 L73.3 830.3 L75.2 830.3 L77.1 830.3 L79.0 830.3 L80.8 829.3 L82.7 829.3 L84.6 829.3 L86.5 829.3 L88.4 830.3 L90.3 830.3 L92.2 830.3 L94.0 830.3 L95.9 830.3 L97.8 829.3 L99.7 829.3 L101.6 829.3 L103.5 829.3 L105.3 830.3 L107.2 830.3 L109.1 830.3 L111.0 830.3 L112.9 829.3 L114.8 829.3 L116.6 829.3 L118.5 829.3 L120.4 829.3 L122.3 829.3 L124.2 829.3 L126.1 829.3 L128.0 829.3 L129.8 829.3 L131.7 829.3 L133.6 829.3 L135.5 829.3 L137.4 829.3 L139.3 829.3 L141.1 829.3 L143.0 829.3 L144.9 829.3 L146.8 829.3 L148.7 829.2 L150.6 829.2 L152.5 830.3 L154.3 830.3 L156.2 830.3 L158.1 830.3 L160.0 830.3 L161.9 830.3 L163.8 830.3 L165.6 830.3 L167.5 830.3 L169.4 829.2 L171.3 829.2 L173.2 829.2 L175.1 829.2 L176.9 829.2 L178.8 829.2 L180.7 829.2 L182.6 829.2 L184.5 828.7 L186.4 828.7 L188.3 828.7 L190.1 828.7 L192.0 828.7 L193.9 830.3 L195.8 830.3 L197.7 830.3 L199.6 830.3 L201.4 829.2 L203.3 829.2 L205.2 829.2 L207.1 829.2 L209.0 829.2 L210.9 829.2 L212.8 829.2 L214.6 829.2 L216.5 829.2 L218.4 829.2 L220.3 829.2 L222.2 829.2 L224.1 829.2 L225.9 829.2 L227.8 829.2 L229.7 829.2 L231.6 829.2 L233.5 829.2 L235.4 829.2 L237.2 829.2 L239.1 829.2 L241.0 829.2 L242.9 829.2 L244.8 829.2 L246.7 829.2 L248.6 829.8 L250.4 829.8 L252.3 829.8 L254.2 829.8 L256.1 829.8 L258.0 829.2 L259.9 829.2 L261.7 829.2 L263.6 829.2 L265.5 829.7 L267.4 829.7 L269.3 829.7 L271.2 829.7 L273.1 829.2 L274.9 829.2 L276.8 829.2 L278.7 829.2 L280.6 829.2 L282.5 829.2 L284.4 829.2 L286.2 829.2 L288.1 829.2 L290.0 829.2 L291.9 829.2 L293.8 829.1 L295.7 829.1 L297.5 830.2 L299.4 830.2 L301.3 830.2 L303.2 830.2 L305.1 830.2 L307.0 830.2 L308.9 830.2 L310.7 830.2 L312.6 829.1 L314.5 829.1 L316.4 829.1 L318.3 829.1 L320.2 829.1 L322.0 829.1 L323.9 829.1 L325.8 829.1 L327.7 829.1 L329.6 829.1 L331.5 829.1 L333.4 829.1 L335.2 829.1 L337.1 829.0 L339.0 829.0 L340.9 829.0 L342.8 829.0 L344.7 829.0 L346.5 829.0 L348.4 829.0 L350.3 829.0 L352.2 829.0 L354.1 829.0 L356.0 829.0 L357.9 828.9 L359.7 828.9 L361.6 828.4 L363.5 828.4 L365.4 828.3 L367.3 828.3 L369.2 828.3 L371.0 828.3 L372.9 828.3 L374.8 828.3 L376.7 828.8 L378.6 828.8 L380.5 828.8 L382.3 828.7 L384.2 828.7 L386.1 828.7 L388.0 828.7 L389.9 828.6 L391.8 828.6 L393.7 829.1 L395.5 829.1 L397.4 829.1 L399.3 829.0 L401.2 828.4 L403.1 828.4 L405.0 828.3 L406.8 828.3 L408.7 828.2 L410.6 828.2 L412.5 828.1 L414.4 828.0 L416.3 827.9 L418.2 828.9 L420.0 828.8 L421.9 828.7 L423.8 828.5 L425.7 827.4 L427.6 827.2 L429.5 827.0 L431.3 826.8 L433.2 826.6 L435.1 826.3 L437.0 826.0 L438.9 825.7 L440.8 825.3 L442.6 824.8 L444.5 824.2 L446.4 823.5 L448.3 822.7 L450.2 821.7 L452.1 820.4 L454.0 818.7 L455.8 816.6 L457.7 813.7 L459.1 811.0 L461.0 805.9 L462.9 798.0 L464.8 785.1 L466.6 763.0 L468.5 726.4 L470.4 671.4 L472.3 606.7 L474.2 573.0 L476.1 606.7 L477.9 671.4 L479.8 726.4 L481.7 763.0 L483.6 785.1 L485.5 798.0 L487.4 805.8 L489.3 811.0 L491.6 815.4 L493.5 817.8 L495.4 819.6 L497.3 821.1 L499.2 822.2 L501.1 823.2 L502.9 823.9 L504.8 824.5 L506.7 825.0 L508.6 825.5 L510.5 825.9 L512.4 826.2 L514.3 826.5 L516.1 826.7 L518.0 826.9 L519.9 827.1 L521.8 827.3 L523.7 827.4 L525.6 827.5 L527.4 827.7 L529.3 827.8 L531.2 827.9 L533.1 827.9 L535.0 828.0 L536.9 828.1 L538.8 828.1 L540.6 828.2 L542.5 828.3 L544.4 828.3 L546.3 827.8 L548.2 827.8 L550.1 827.9 L551.9 827.9 L553.8 829.1 L555.7 829.1 L557.6 829.1 L559.5 829.1 L561.4 829.7 L563.3 829.7 L565.1 829.7 L567.0 829.7 L568.9 828.7 L570.8 828.7 L572.7 828.7 L574.6 828.7 L576.4 828.7 L578.3 829.8 L580.2 829.8 L582.1 829.8 L584.0 829.8 L585.9 828.8 L587.7 828.8 L589.6 828.8 L591.5 828.8 L593.4 829.4 L595.3 829.4 L597.2 829.4 L599.1 829.4 L600.9 828.8 L602.8 828.8 L604.7 828.8 L606.6 828.8 L608.5 828.8 L610.4 828.3 L612.2 828.3 L614.1 828.2 L616.0 828.2 L617.9 828.8 L619.8 828.8 L621.7 828.8 L623.6 828.8 L625.4 829.8 L627.3 829.8 L629.2 829.7 L631.1 829.7 L633.0 828.7 L634.9 828.6 L636.7 828.6 L638.6 828.6 L640.5 828.5 L642.4 828.5 L644.3 828.4 L646.2 828.4 L648.0 828.3 L649.9 829.2 L651.8 829.1 L653.7 829.0 L655.6 828.9 L657.5 827.7 L659.4 827.5 L661.2 827.3 L663.1 827.0 L665.0 827.1 L666.9 826.3 L668.8 825.2 L670.7 822.7 L672.0 820.6 L673.9 816.2 L675.8 809.8 L677.7 801.0 L679.6 790.1 L681.5 778.0 L683.3 766.2 L685.2 757.4 L687.1 754.0 L689.0 757.4 L690.9 766.2 L692.8 778.0 L694.6 790.1 L696.5 801.1 L698.4 809.8 L700.3 816.2 L702.2 820.6 L704.6 823.9 L706.5 825.4 L708.3 826.2 L710.2 826.8 L712.1 827.2 L714.0 827.5 L715.9 827.7 L717.8 827.9 L719.7 828.0 L721.5 828.1 L723.4 828.2 L725.3 828.3 L727.2 828.4 L729.1 828.5 L731.0 828.5 L732.8 828.6 L734.7 828.6 L736.6 828.7 L738.5 828.7 L740.4 828.8 L742.3 828.8 L744.2 828.8 L746.0 829.9 L747.9 829.9 L749.8 829.9 L751.7 830.0 L753.6 828.9 L755.5 828.9 L757.3 829.0 L759.2 829.0 L761.1 829.0 L763.0 829.0 L764.9 829.0 L766.8 829.0 L768.6 829.0 L770.5 829.6 L772.4 829.6 L774.3 829.6 L776.2 829.6 L778.1 829.1 L780.0 829.1 L781.8 829.1 L783.7 829.1 L785.6 829.1 L787.5 829.1 L789.4 829.1 L791.3 829.1 L793.1 828.6 L795.0 828.6 L796.9 828.6 L798.8 828.6 L800.7 828.6 L802.6 829.1 L804.5 829.1 L806.3 829.2 L808.2 829.2 L810.1 829.2 L812.0 829.2 L813.9 829.2 L815.8 829.2 L817.6 829.2 L819.5 829.2 L821.4 829.2 L823.3 829.2 L825.2 829.2 L827.1 829.2 L829.0 829.2 L830.8 829.2 L832.7 829.2 L834.6 829.2 L836.5 829.2 L838.4 829.2 L840.3 829.2 L842.1 829.2 L844.0 829.2 L845.9 829.2 L847.8 829.2 L849.7 830.2 L851.6 830.2 L853.4 830.2 L855.3 830.2 L857.2 829.2 L859.1 829.2 L861.0 829.2 L862.9 829.2 L864.8 829.2 L866.6 829.2 L868.5 829.2 L870.4 829.2 L872.3 829.2 L874.2 829.2 L876.1 829.2 L877.9 829.2 L879.8 829.2 L881.7 829.2 L883.6 829.2 L885.5 829.2 L887.4 829.2 L889.3 830.3 L891.1 830.3 L893.0 830.3 L894.9 830.3 L896.8 830.3 L898.7 829.2 L900.6 829.2 L902.4 829.2 L904.3 829.2 L906.2 829.2 L908.1 829.2 L910.0 829.2 L911.9 829.2 L913.7 829.2 L915.6 829.2 L917.5 829.2 L919.4 829.2 L921.3 829.2 L923.2 829.2 L925.1 829.2 L926.9 829.2 L928.8 829.2 L930.7 829.2 L932.6 829.2 L934.5 829.2 L936.4 829.2 L938.2 829.2 L940.1 829.2 L942.0 829.2 L943.9 829.2 L945.8 830.3 L947.7 830.3 L949.6 830.3 L951.4 830.3 L953.3 829.2 L955.2 829.2 L957.1 829.2 L959.0 829.2 L960.9 829.2 L962.7 830.3 L964.6 830.3 L966.5 830.3 L968.4 830.3 L970.3 829.2 L972.2 829.2 L974.0 829.2 L975.9 829.2 L977.8 829.2 L979.7 829.2 L981.6 829.2 L983.5 829.2 L985.4 829.2 L987.2 829.2 L989.1 829.2 L991.0 829.2 L992.9 829.2 L994.8 828.7 L996.7 828.7 L998.5 828.7 L1000.4 828.7 L1002.3 829.2 L1004.2 829.2 L1006.1 829.2 L1008.0 829.2 L1009.9 829.2 L1011.7 829.2 L1013.6 829.2 L1015.5 829.2 L1017.4 829.2 L1019.3 829.2 L1021.2 829.2 L1023.0 829.2 L1024.9 829.2 L1026.8 829.2 L1028.7 829.2 L1030.6 829.2 L1032.5 829.2 L1034.4 829.2 L1036.2 829.2 L1038.1 829.2 L1040.0 829.2 L1041.9 829.2 L1043.8 829.2 L1045.7 829.2 L1047.5 829.2 L1049.4 829.2 L1051.3 829.2 L1053.2 829.2 L1055.1 829.2 L1057.0 829.2 L1058.8 829.2 L1060.7 829.2 L1062.6 829.2 L1064.5 829.2 L1066.4 829.2 L1068.3 829.2 L1070.2 829.2 L1072.0 829.2 L1073.9 829.2 L1075.8 829.2 L1077.7 829.2 L1079.6 829.2 L1081.5 829.2 L1083.3 829.2 L1085.2 829.2 L1087.1 829.2 L1089.0 829.2 L1090.9 830.3 L1092.8 830.3 L1094.7 830.3 L1096.5 830.3 L1098.4 829.2 L1100.3 829.2 L1102.2 829.2 L1104.1 829.2 L1106.0 829.2 L1107.8 829.2 L1109.7 829.2 L1111.6 829.2 L1113.5 829.2 L1115.4 829.2 L1117.3 829.2 L1119.1 829.2 L1121.0 829.2 L1122.9 828.7 L1124.8 828.7 L1126.7 828.7 L1128.6 828.7 L1130.5 828.7 L1132.3 828.7 L1134.2 828.7 L1136.1 828.7 L1138.0 830.3 L1139.9 830.3 L1141.8 830.3 L1143.6 830.3 L1145.5 830.3 L1147.4 830.3 L1149.3 830.3 L1151.2 830.3 L1153.1 830.3 L1155.0 828.7 L1156.8 828.7 L1158.7 828.7 L1160.6 828.7 L1162.5 829.2 L1164.4 829.2 L1166.3 829.2 L1168.1 829.2 L1170.0 828.7 L1171.9 828.7 L1173.8 828.7 L1175.7 828.7 L1177.6 829.2 L1179.4 829.2 L1181.3 829.2 L1183.2 829.2 L1185.1 829.2 L1187.0 829.2 L1188.9 829.2 L1190.8 829.2 L1192.6 829.2 L1194.5 829.2 L1196.4 829.2 L1198.3 829.2 L1200.2 829.2 L1202.1 829.2 L1203.9 829.2 L1205.8 829.2 L1207.7 829.2 L1209.6 830.2 L1211.5 830.2 L1213.4 830.2 L1215.3 830.2 L1217.1 830.2 L1219.0 829.2 L1220.9 829.2 L1222.8 829.2 L1224.7 829.2 L1226.6 829.2 L1228.4 829.2 L1230.3 829.2 L1232.2 829.2 L1234.1 829.1 L1236.0 829.1 L1237.9 829.1 L1239.7 829.1 L1241.6 829.1 L1243.5 829.1 L1245.4 829.1 L1247.3 829.1 L1249.2 829.1 L1251.1 829.1 L1252.9 829.1 L1254.8 829.1 L1256.7 829.1 L1258.6 829.1 L1260.5 829.1 L1262.4 829.1 L1264.2 829.1 L1266.1 829.0 L1268.0 829.0 L1269.9 829.0 L1271.8 829.0 L1273.7 829.0 L1275.6 829.0 L1277.4 829.0 L1279.3 829.0 L1281.2 829.0 L1283.1 828.9 L1285.0 828.9 L1286.9 828.9 L1288.7 828.9 L1290.6 828.9 L1292.5 828.8 L1294.4 828.8 L1296.3 828.8 L1298.2 828.8 L1300.1 828.7 L1301.9 828.7 L1303.8 828.7 L1305.7 828.1 L1307.6 828.0 L1309.5 828.0 L1311.4 827.9 L1313.2 827.9 L1315.1 828.4 L1317.0 828.3 L1318.9 828.2 L1320.8 828.1 L1322.7 827.5 L1324.5 827.4 L1326.4 827.3 L1328.3 827.1 L1330.2 827.5 L1332.1 827.3 L1334.0 827.1 L1335.9 826.8 L1337.7 826.4 L1339.6 825.9 L1341.5 825.3 L1343.4 824.2 L1345.3 822.6 L1347.2 820.0 L1349.0 815.9 L1349.9 813.3 L1351.8 806.1 L1353.7 796.1 L1355.6 783.4 L1357.5 768.4 L1359.4 752.5 L1361.3 737.8 L1363.1 727.0 L1365.0 723.0 L1366.9 727.0 L1368.8 737.8 L1370.7 752.5 L1372.6 768.4 L1374.4 783.4 L1376.3 796.1 L1378.2 806.1 L1380.1 813.3 L1381.1 816.1 L1383.0 820.1 L1384.8 822.7 L1386.7 824.3 L1388.6 825.3 L1390.5 826.0 L1392.4 826.4 L1394.3 826.8 L1396.2 827.1 L1398.0 827.3 L1399.9 827.5 L1401.8 828.7 L1403.7 828.9 L1405.6 829.0 L1407.5 829.1 L1409.3 829.2 L1411.2 828.2 L1413.1 828.3 L1415.0 828.4 L1416.9 828.4 L1418.8 829.5 L1420.7 829.6 L1422.5 829.6 L1424.4 829.7 L1426.3 829.2 L1428.2 829.3 L1430.1 829.3 L1432.0 829.3 L1433.8 828.8 L1435.7 828.8 L1437.6 828.8 L1439.5 828.9 L1441.4 828.9 L1443.3 828.9 L1445.1 828.9 L1447.0 828.9 L1448.9 829.0 L1450.8 829.0 L1452.7 829.0 L1454.6 829.0 L1456.5 829.0 L1458.3 829.0 L1460.2 829.0 L1462.1 829.0 L1464.0 829.0 L1465.9 829.0 L1467.8 829.1 L1469.6 829.1 L1471.5 829.1 L1473.4 829.1 L1475.3 829.1 L1477.2 829.1 L1479.1 829.1 L1481.0 829.1 L1482.8 829.1 L1484.7 829.1 L1486.6 829.1 L1488.5 829.1 L1490.4 830.2 L1492.3 830.2 L1494.1 830.2 L1496.0 830.2 L1497.9 830.2 L1499.8 830.2 L1501.7 830.2 L1503.6 830.2 L1505.5 830.2 L1507.3 829.2 L1509.2 829.2 L1511.1 829.2 L1513.0 829.2 L1514.9 830.2 L1516.8 830.2 L1518.6 830.2 L1520.5 830.2 L1522.4 829.2 L1524.3 829.2 L1526.2 829.2 L1528.1 829.2 L1529.9 829.2 L1531.8 829.2 L1533.7 829.2 L1535.6 829.2 L1537.5 829.2 L1539.4 829.2 L1541.3 829.2 L1543.1 829.2 L1545.0 829.2 L1546.9 829.2 L1548.8 829.2 L1550.7 829.2 L1552.6 829.2 L1554.4 829.2 L1556.3 829.2 L1558.2 829.2 L1560.1 829.2 L1562.0 829.2 L1563.9 829.2 L1565.8 829.2 L1567.6 829.2 L1569.5 829.2 L1571.4 829.2 L1573.3 829.2 L1575.2 829.2 L1577.1 829.2 L1578.9 829.2 L1580.8 829.2 L1582.7 829.2 L1584.6 829.2 L1586.5 829.2 L1588.4 829.2 L1590.2 829.2 L1592.1 829.2 L1594.0 829.2 L1595.9 829.2 L1597.8 829.2 L1599.7 829.2 L1601.6 829.2 L1603.4 828.6 L1605.3 828.6 L1607.2 828.6 L1609.1 828.6 L1611.0 829.2 L1612.9 829.2 L1614.7 829.2 L1616.6 829.2 L1618.5 828.6 L1620.4 828.6 L1622.3 828.6 L1624.2 828.6 L1626.1 829.7 L1627.9 829.7 L1629.8 829.7 L1631.7 829.7 L1633.6 829.7 L1635.5 829.2 L1637.4 829.2 L1639.2 829.2 L1641.1 829.2 L1643.0 828.6 L1644.9 828.6 L1646.8 828.6 L1648.7 828.6 L1650.5 829.2 L1652.4 829.1 L1654.3 829.1 L1656.2 829.1 L1658.1 829.1 L1660.0 829.1 L1661.9 829.1 L1663.7 829.1 L1665.6 829.1 L1667.5 829.1 L1669.4 829.1 L1671.3 829.1 L1673.2 829.1 L1675.0 829.1 L1676.9 829.1 L1678.8 829.1 L1680.7 829.1 L1682.6 829.1 L1684.5 829.1 L1686.4 829.1 L1688.2 829.1 L1690.1 829.0 L1692.0 829.0 L1693.9 829.0 L1695.8 829.0 L1697.7 829.0 L1699.5 829.0 L1701.4 829.0 L1703.3 829.0 L1705.2 829.0 L1707.1 828.4 L1709.0 828.4 L1710.8 828.3 L1712.7 828.3 L1714.6 828.9 L1716.5 828.8 L1718.4 828.8 L1720.3 828.8 L1722.2 828.2 L1724.0 828.2 L1725.9 828.1 L1727.8 828.1 L1729.7 828.1 L1731.6 828.6 L1733.5 828.5 L1735.3 828.5 L1737.2 828.4 L1739.1 828.3 L1741.0 828.2 L1742.9 828.2 L1744.8 828.1 L1746.7 827.9 L1748.5 827.8 L1750.4 827.6 L1752.3 827.4 L1754.2 827.8 L1756.1 827.5 L1758.0 827.1 L1759.8 826.7 L1761.7 826.1 L1763.6 824.6 L1765.5 823.2 L1767.4 820.9 L1768.3 819.5 L1770.2 815.2 L1772.1 808.9 L1773.9 800.4 L1775.8 789.8 L1777.7 777.7 L1779.6 765.9 L1781.5 756.7 L1783.4 753.0 L1785.2 756.1 L1787.1 764.3 L1789.0 774.5 L1790.9 784.2 L1792.8 792.6 L1794.7 800.0 L1796.6 807.3 L1798.4 813.8 L1800.3 818.9 L1802.2 822.2 L1804.1 824.2 L1806.0 825.4 L1807.9 826.1 L1809.7 826.5 L1810.7 826.7 L1812.6 827.0 L1814.5 827.3 L1816.4 827.5 L1818.3 827.7 L1820.1 827.8 L1822.0 827.9 L1823.9 828.1 L1825.8 828.1 L1827.7 828.2 L1829.6 828.3 L1831.5 828.4 L1833.3 828.4 L1835.2 828.5 L1837.1 828.5 L1839.0 828.5 L1840.9 828.6 L1842.8 828.6 L1844.6 828.6 L1846.5 828.6 L1848.4 828.7 L1850.3 828.7 L1852.2 828.7 L1854.1 828.7 L1855.9 828.7 L1857.8 828.7 L1859.7 829.3 L1861.6 829.2 L1863.5 829.2 L1865.4 829.2 L1867.3 828.6 L1869.1 828.6 L1871.0 828.6 L1872.9 828.6 L1874.8 828.5 L1876.7 828.4 L1878.6 828.4 L1880.4 828.3 L1882.3 828.7 L1884.2 828.5 L1886.1 828.2 L1888.0 827.9 L1889.9 827.4 L1891.8 826.2 L1894.1 825.1 L1896.0 824.1 L1897.8 822.9 L1899.7 821.6 L1901.6 820.2 L1903.5 819.0 L1905.4 818.0 L1906.8 817.6 L1909.1 817.5 L1910.6 817.5 L1912.4 817.7 L1914.3 818.4 L1916.2 819.4 L1918.1 820.6 L1920.0 821.8 L1921.9 823.0 L1923.7 824.1 L1925.6 825.2 L1927.5 826.0 L1929.4 826.8 L1931.3 827.3 L1933.2 827.7 L1935.1 828.0 L1936.9 828.3 L1938.9 828.4 L1940.7 828.5 L1942.6 828.6 L1944.5 828.7 L1946.4 828.7 L1948.3 828.8 L1950.2 828.8 L1952.1 828.9 L1953.9 828.9 L1955.8 828.4 L1957.7 828.4 L1959.6 828.4" fill="none" stroke="#FA50B4" stroke-width="17" stroke-linejoin="bevel" />
<path id="c6" d="M62.0 536.8 L63.9 536.8 L65.8 536.8 L67.7 536.8 L69.5 536.8 L71.4 536.8 L73.3 536.8 L75.2 536.8 L77.1 536.8 L79.0 536.8 L80.8 537.0 L82.7 537.0 L84.6 537.0 L86.5 537.0 L88.4 537.2 L90.3 537.2 L92.2 537.2 L94.0 537.2 L95.9 537.2 L97.8 536.8 L99.7 536.8 L101.6 536.8 L103.5 536.8 L105.3 536.8 L107.2 536.8 L109.1 536.8 L111.0 536.8 L112.9 537.2 L114.8 537.2 L116.6 537.2 L118.5 537.2 L120.4 537.1 L122.3 537.1 L124.2 537.1 L126.1 537.1 L128.0 537.1 L129.8 536.8 L131.7 536.8 L133.6 536.8 L135.5 536.8 L137.4 536.8 L139.3 536.8 L141.1 536.8 L143.0 536.8 L144.9 536.8 L146.8 536.8 L148.7 536.8 L150.6 536.8 L152.5 536.5 L154.3 536.5 L156.2 536.5 L158.1 536.5 L160.0 536.5 L161.9 536.8 L163.8 536.8 L165.6 536.8 L167.5 536.8 L169.4 536.8 L171.3 536.8 L173.2 536.8 L175.1 536.8 L176.9 536.8 L178.8 536.8 L180.7 536.8 L182.6 536.8 L184.5 536.7 L186.4 536.7 L188.3 536.7 L190.1 536.7 L192.0 536.7 L193.9 537.1 L195.8 537.1 L197.7 537.1 L199.6 537.1 L201.4 537.0 L203.3 537.0 L205.2 537.0 L207.1 537.0 L209.0 536.7 L210.9 536.7 L212.8 536.7 L214.6 536.7 L216.5 536.7 L218.4 536.7 L220.3 536.7 L222.2 536.7 L224.1 536.7 L225.9 536.7 L227.8 536.7 L229.7 536.7 L231.6 536.7 L233.5 536.7 L235.4 536.7 L237.2 536.7 L239.1 536.7 L241.0 536.7 L242.9 536.7 L244.8 536.7 L246.7 536.7 L248.6 536.9 L250.4 536.9 L252.3 536.9 L254.2 536.9 L256.1 536.9 L258.0 536.9 L259.9 536.9 L261.7 536.9 L263.6 536.9 L265.5 536.7 L267.4 536.7 L269.3 536.7 L271.2 536.7 L273.1 537.1 L274.9 537.1 L276.8 537.1 L278.7 537.1 L280.6 536.7 L282.5 536.7 L284.4 536.7 L286.2 536.7 L288.1 536.7 L290.0 536.7 L291.9 536.7 L293.8 536.7 L295.7 536.7 L297.5 536.7 L299.4 536.7 L301.3 536.7 L303.2 536.7 L305.1 536.7 L307.0 536.7 L308.9 536.7 L310.7 536.7 L312.6 537.1 L314.5 537.1 L316.4 537.1 L318.3 537.1 L320.2 537.1 L322.0 536.7 L323.9 536.7 L325.8 536.7 L327.7 536.7 L329.6 536.7 L331.5 536.7 L333.4 536.7 L335.2 536.7 L337.1 536.7 L339.0 536.7 L340.9 536.7 L342.8 536.7 L344.7 536.7 L346.5 536.7 L348.4 536.7 L350.3 536.7 L352.2 536.7 L354.1 536.7 L356.0 536.7 L357.9 536.7 L359.7 536.7 L361.6 536.5 L363.5 536.5 L365.4 536.5 L367.3 536.5 L369.2 536.9 L371.0 536.9 L372.9 536.9 L374.8 536.9 L376.7 536.7 L378.6 536.7 L380.5 536.7 L382.3 536.7 L384.2 536.7 L386.1 536.7 L388.0 536.7 L389.9 536.7 L391.8 536.7 L393.7 537.0 L395.5 537.0 L397.4 537.0 L399.3 537.0 L401.2 536.6 L403.1 536.6 L405.0 536.6 L406.8 536.6 L408.7 536.6 L410.6 536.6 L412.5 536.6 L414.4 536.6 L416.3 536.6 L418.2 537.0 L420.0 537.0 L421.9 537.0 L423.8 537.0 L425.7 537.0 L427.6 537.0 L429.5 537.0 L431.3 537.0 L433.2 536.4 L435.1 536.4 L437.0 536.4 L438.9 536.4 L440.8 536.6 L442.6 536.6 L444.5 536.6 L446.4 536.6 L448.3 536.6 L450.2 536.8 L452.1 536.8 L454.0 536.8 L455.8 536.8 L457.7 536.6 L459.6 536.6 L461.5 536.5 L463.4 536.5 L465.3 536.5 L467.1 536.5 L469.0 536.5 L470.9 536.5 L472.8 536.3 L474.7 536.3 L476.6 536.3 L478.5 536.3 L480.3 536.3 L482.2 536.3 L484.1 536.3 L486.0 536.3 L487.9 536.3 L489.8 536.5 L491.6 536.4 L493.5 536.4 L495.4 536.4 L497.3 536.4 L499.2 536.4 L501.1 536.4 L502.9 536.4 L504.8 536.8 L506.7 536.8 L508.6 536.7 L510.5 536.7 L512.4 536.7 L514.3 536.7 L516.1 536.7 L518.0 536.7 L519.9 536.7 L521.8 536.3 L523.7 536.2 L525.6 536.2 L527.4 536.2 L529.3 536.2 L531.2 536.2 L533.1 536.1 L535.0 536.1 L536.9 536.1 L538.8 536.1 L540.6 536.0 L542.5 536.0 L544.4 536.0 L546.3 535.9 L548.2 535.9 L550.1 535.8 L551.9 535.8 L553.8 535.8 L555.7 535.7 L557.6 535.7 L559.5 535.6 L561.4 535.5 L563.3 535.5 L565.1 535.4 L567.0 535.3 L568.9 535.2 L570.8 535.1 L572.7 535.0 L574.6 534.9 L576.4 534.7 L578.3 534.6 L580.2 534.4 L582.1 534.2 L584.0 534.0 L585.9 533.7 L587.7 533.4 L589.6 533.1 L591.5 532.7 L593.4 532.2 L595.3 531.6 L597.2 531.0 L599.1 530.2 L600.9 529.2 L602.8 528.0 L604.7 526.4 L606.6 524.4 L608.4 521.7 L610.3 518.0 L612.2 512.7 L614.1 504.5 L616.0 490.7 L617.9 464.6 L619.7 411.6 L621.6 316.8 L623.5 244.0 L625.4 316.4 L627.3 411.0 L629.2 463.8 L631.1 489.9 L632.9 503.6 L634.8 511.9 L636.7 517.2 L638.6 521.0 L640.5 523.8 L642.4 525.9 L644.3 527.5 L646.2 528.7 L648.0 529.7 L649.9 530.6 L651.8 531.0 L653.7 531.6 L655.6 532.0 L657.5 532.6 L659.4 533.0 L661.2 533.3 L663.1 533.5 L665.0 533.9 L666.9 534.1 L668.8 534.2 L670.7 534.4 L672.5 534.5 L674.4 534.2 L676.3 534.3 L678.2 534.3 L680.1 534.4 L682.0 535.0 L683.9 535.1 L685.7 535.1 L687.6 535.1 L689.5 534.7 L691.4 534.7 L693.3 534.7 L695.2 534.7 L697.0 534.8 L698.9 534.8 L700.8 534.7 L702.7 534.7 L704.6 534.6 L706.5 534.3 L708.3 534.2 L710.2 534.0 L712.1 533.9 L714.0 533.7 L715.9 533.5 L717.8 533.2 L719.7 532.9 L721.5 532.3 L723.4 531.9 L725.3 531.4 L727.2 530.7 L729.1 530.1 L731.0 529.0 L732.8 527.7 L734.7 525.9 L736.6 523.4 L738.5 519.8 L740.3 514.3 L742.2 505.1 L744.1 487.6 L746.0 452.1 L747.9 388.7 L749.8 340.0 L751.7 388.4 L753.5 451.6 L755.4 487.0 L757.3 504.4 L759.2 513.5 L761.1 519.0 L763.0 522.5 L764.8 525.0 L766.8 526.8 L768.6 528.1 L770.5 529.1 L772.4 529.9 L774.3 530.5 L776.2 531.1 L778.1 531.3 L780.0 531.5 L781.8 531.7 L783.7 531.8 L785.6 531.9 L787.5 531.9 L789.4 531.8 L791.3 531.7 L793.1 531.6 L795.0 531.4 L796.9 531.1 L798.8 530.8 L800.7 530.4 L802.6 529.9 L804.5 529.3 L806.3 528.5 L808.2 527.6 L810.1 526.5 L812.0 525.2 L813.9 523.4 L815.8 521.2 L817.6 518.4 L820.0 513.5 L821.8 507.9 L823.7 499.7 L825.6 487.1 L827.5 465.9 L829.4 425.4 L831.3 343.1 L833.2 195.9 L835.0 83.0 L836.9 195.5 L838.8 342.4 L840.7 424.5 L842.6 464.9 L844.5 486.2 L846.3 498.9 L848.2 507.2 L850.1 513.0 L851.6 516.4 L853.4 519.8 L855.3 522.4 L857.2 524.5 L859.1 526.1 L861.0 527.5 L862.9 528.6 L864.8 529.5 L866.6 530.2 L868.5 531.1 L870.4 531.7 L872.3 532.2 L874.2 532.4 L876.1 532.7 L877.9 533.1 L879.8 533.3 L881.7 533.6 L883.6 533.8 L885.5 534.0 L887.4 534.2 L889.3 534.4 L891.1 534.5 L893.0 534.6 L894.9 534.8 L896.8 534.9 L898.7 535.0 L900.6 535.1 L902.4 535.2 L904.3 535.2 L906.2 535.3 L908.1 535.4 L910.0 535.4 L911.9 535.5 L913.7 536.0 L915.6 536.0 L917.5 536.1 L919.4 536.1 L921.3 536.0 L923.2 536.0 L925.1 536.0 L926.9 536.1 L928.8 536.1 L930.7 535.9 L932.6 536.0 L934.5 536.0 L936.4 536.0 L938.2 536.0 L940.1 536.1 L942.0 536.1 L943.9 536.1 L945.8 536.1 L947.7 536.1 L949.6 536.2 L951.4 536.2 L953.3 536.2 L955.2 536.2 L957.1 536.2 L959.0 536.2 L960.9 536.3 L962.7 536.3 L964.6 536.3 L966.5 536.3 L968.4 536.3 L970.3 536.7 L972.2 536.7 L974.0 536.7 L975.9 536.7 L977.8 536.4 L979.7 536.4 L981.6 536.4 L983.5 536.4 L985.4 536.4 L987.2 536.4 L989.1 536.4 L991.0 536.4 L992.9 536.4 L994.8 536.4 L996.7 536.4 L998.5 536.5 L1000.4 536.5 L1002.3 536.5 L1004.2 536.5 L1006.1 536.5 L1008.0 536.5 L1009.9 536.5 L1011.7 536.5 L1013.6 536.5 L1015.5 536.5 L1017.4 536.5 L1019.3 536.5 L1021.2 536.5 L1023.0 536.5 L1024.9 536.5 L1026.8 536.5 L1028.7 536.5 L1030.6 536.5 L1032.5 536.5 L1034.4 536.5 L1036.2 536.5 L1038.1 536.6 L1040.0 536.6 L1041.9 536.6 L1043.8 536.6 L1045.7 536.6 L1047.5 536.6 L1049.4 536.6 L1051.3 536.6 L1053.2 536.6 L1055.1 536.6 L1057.0 536.6 L1058.8 536.6 L1060.7 536.6 L1062.6 536.6 L1064.5 536.6 L1066.4 536.6 L1068.3 536.6 L1070.2 536.6 L1072.0 536.6 L1073.9 536.8 L1075.8 536.8 L1077.7 536.8 L1079.6 536.8 L1081.5 536.8 L1083.3 536.8 L1085.2 536.8 L1087.1 536.8 L1089.0 536.8 L1090.9 536.6 L1092.8 536.6 L1094.7 536.6 L1096.5 536.6 L1098.4 536.6 L1100.3 536.6 L1102.2 536.6 L1104.1 536.6 L1106.0 537.0 L1107.8 537.0 L1109.7 537.0 L1111.6 537.0 L1113.5 536.4 L1115.4 536.4 L1117.3 536.4 L1119.1 536.4 L1121.0 536.4 L1122.9 536.6 L1124.8 536.6 L1126.7 536.6 L1128.6 536.6 L1130.5 536.6 L1132.3 536.6 L1134.2 536.6 L1136.1 536.6 L1138.0 536.6 L1139.9 536.6 L1141.8 536.6 L1143.6 536.6 L1145.5 537.0 L1147.4 537.0 L1149.3 537.0 L1151.2 537.0 L1153.1 537.0 L1155.0 536.6 L1156.8 536.6 L1158.7 536.6 L1160.6 536.6 L1162.5 536.6 L1164.4 536.6 L1166.3 536.6 L1168.1 536.6 L1170.0 536.6 L1171.9 536.6 L1173.8 536.6 L1175.7 536.6 L1177.6 537.0 L1179.4 537.0 L1181.3 537.0 L1183.2 537.0 L1185.1 537.0 L1187.0 536.6 L1188.9 536.6 L1190.8 536.6 L1192.6 536.6 L1194.5 536.6 L1196.4 536.6 L1198.3 536.6 L1200.2 536.6 L1202.1 536.8 L1203.9 536.8 L1205.8 536.8 L1207.7 536.8 L1209.6 536.6 L1211.5 536.6 L1213.4 536.6 L1215.3 536.6 L1217.1 536.6 L1219.0 536.8 L1220.9 536.8 L1222.8 536.8 L1224.7 536.8 L1226.6 536.6 L1228.4 536.6 L1230.3 536.6 L1232.2 536.6 L1234.1 537.0 L1236.0 537.0 L1237.9 537.0 L1239.7 537.0 L1241.6 536.6 L1243.5 536.6 L1245.4 536.6 L1247.3 536.6 L1249.2 536.6 L1251.1 537.0 L1252.9 536.9 L1254.8 536.9 L1256.7 536.9 L1258.6 536.5 L1260.5 536.5 L1262.4 536.5 L1264.2 536.5 L1266.1 536.5 L1268.0 536.5 L1269.9 536.5 L1271.8 536.5 L1273.7 536.5 L1275.6 536.5 L1277.4 536.5 L1279.3 536.4 L1281.2 536.4 L1283.1 536.2 L1285.0 536.2 L1286.9 536.2 L1288.7 536.2 L1290.6 536.4 L1292.5 536.3 L1294.4 536.3 L1296.3 536.3 L1298.2 536.3 L1300.1 536.2 L1301.9 536.2 L1303.8 536.2 L1305.7 536.2 L1307.6 536.1 L1309.5 536.1 L1311.4 536.0 L1313.2 536.0 L1315.1 535.9 L1317.0 535.9 L1318.9 535.8 L1320.8 535.7 L1322.7 535.7 L1324.5 535.6 L1326.4 535.5 L1328.3 535.4 L1330.2 535.2 L1332.1 535.1 L1334.0 534.9 L1335.9 534.7 L1337.7 534.5 L1339.6 534.2 L1341.5 533.8 L1343.4 533.4 L1345.3 532.9 L1347.2 532.1 L1349.0 531.3 L1351.4 530.2 L1353.2 528.8 L1355.1 526.8 L1357.0 524.0 L1358.9 519.3 L1360.8 511.0 L1362.7 494.8 L1364.6 466.2 L1366.4 444.0 L1368.3 463.6 L1370.2 487.8 L1372.6 500.0 L1374.0 508.7 L1375.9 518.2 L1377.7 523.3 L1379.6 526.3 L1381.5 528.3 L1383.9 530.1 L1385.8 531.3 L1387.6 532.0 L1388.6 532.3 L1390.5 532.9 L1392.4 533.4 L1394.3 533.8 L1396.2 534.1 L1398.0 534.4 L1399.9 534.7 L1401.8 534.9 L1403.7 535.1 L1405.6 535.2 L1407.5 535.3 L1409.3 535.5 L1411.2 535.6 L1413.1 535.7 L1415.0 535.7 L1416.9 535.8 L1418.8 535.9 L1420.7 535.9 L1422.5 536.0 L1424.4 536.0 L1426.3 536.3 L1428.2 536.3 L1430.1 536.4 L1432.0 536.4 L1433.8 536.0 L1435.7 536.0 L1437.6 536.1 L1439.5 536.1 L1441.4 536.1 L1443.3 536.3 L1445.1 536.4 L1447.0 536.4 L1448.9 536.4 L1450.8 536.4 L1452.7 536.4 L1454.6 536.4 L1456.5 536.5 L1458.3 536.5 L1460.2 536.5 L1462.1 536.5 L1464.0 536.5 L1465.9 536.3 L1467.8 536.3 L1469.6 536.3 L1471.5 536.3 L1473.4 536.3 L1475.3 536.3 L1477.2 536.3 L1479.1 536.3 L1481.0 536.4 L1482.8 537.0 L1484.7 537.0 L1486.6 537.0 L1488.5 537.0 L1490.4 536.4 L1492.3 536.4 L1494.1 536.4 L1496.0 536.4 L1497.9 536.6 L1499.8 536.6 L1501.7 536.6 L1503.6 536.6 L1505.5 536.6 L1507.3 536.6 L1509.2 536.6 L1511.1 536.6 L1513.0 536.6 L1514.9 536.6 L1516.8 536.6 L1518.6 536.6 L1520.5 536.6 L1522.4 536.6 L1524.3 536.6 L1526.2 536.6 L1528.1 536.6 L1529.9 537.0 L1531.8 537.0 L1533.7 537.0 L1535.6 537.0 L1537.5 537.0 L1539.4 536.7 L1541.3 536.7 L1543.1 536.7 L1545.0 536.7 L1546.9 536.7 L1548.8 536.7 L1550.7 536.7 L1552.6 536.7 L1554.4 536.9 L1556.3 536.9 L1558.2 536.9 L1560.1 536.9 L1562.0 536.7 L1563.9 536.7 L1565.8 536.7 L1567.6 536.7 L1569.5 536.7 L1571.4 536.7 L1573.3 536.7 L1575.2 536.7 L1577.1 536.7 L1578.9 536.7 L1580.8 536.7 L1582.7 536.7 L1584.6 536.7 L1586.5 536.7 L1588.4 536.7 L1590.2 536.7 L1592.1 536.7 L1594.0 536.9 L1595.9 536.9 L1597.8 536.9 L1599.7 536.9 L1601.6 536.9 L1603.4 536.7 L1605.3 536.7 L1607.2 536.7 L1609.1 536.7 L1611.0 536.7 L1612.9 536.7 L1614.7 536.6 L1616.6 536.6 L1618.5 536.4 L1620.4 536.4 L1622.3 536.4 L1624.2 536.4 L1626.1 536.6 L1627.9 536.6 L1629.8 536.6 L1631.7 536.6 L1633.6 536.6 L1635.5 536.6 L1637.4 536.6 L1639.2 536.6 L1641.1 536.6 L1643.0 536.4 L1644.9 536.4 L1646.8 536.4 L1648.7 536.4 L1650.5 536.6 L1652.4 536.6 L1654.3 536.6 L1656.2 536.6 L1658.1 536.6 L1660.0 536.6 L1661.9 536.6 L1663.7 536.6 L1665.6 536.6 L1667.5 536.6 L1669.4 536.6 L1671.3 536.6 L1673.2 536.6 L1675.0 536.5 L1676.9 536.5 L1678.8 536.5 L1680.7 536.5 L1682.6 536.5 L1684.5 536.5 L1686.4 536.5 L1688.2 536.5 L1690.1 536.5 L1692.0 536.5 L1693.9 536.5 L1695.8 536.5 L1697.7 536.4 L1699.5 536.4 L1701.4 536.4 L1703.3 536.4 L1705.2 536.4 L1707.1 536.4 L1709.0 536.4 L1710.8 536.3 L1712.7 536.3 L1714.6 536.3 L1716.5 536.3 L1718.4 536.2 L1720.3 536.2 L1722.2 536.2 L1724.0 536.2 L1725.9 536.1 L1727.8 536.1 L1729.7 536.1 L1731.6 536.0 L1733.5 536.0 L1735.3 535.9 L1737.2 535.9 L1739.1 536.0 L1741.0 535.9 L1742.9 535.9 L1744.8 535.8 L1746.7 535.3 L1748.5 535.2 L1750.4 535.0 L1752.3 534.9 L1754.2 535.4 L1756.1 535.2 L1758.0 535.0 L1759.8 534.8 L1761.7 534.5 L1763.6 533.8 L1765.5 533.4 L1767.4 533.0 L1769.3 532.4 L1771.2 531.8 L1773.0 531.0 L1774.9 529.9 L1776.8 528.6 L1777.7 527.8 L1779.6 525.8 L1781.5 522.9 L1783.4 518.7 L1784.8 514.0 L1786.7 503.4 L1788.5 483.2 L1790.4 446.8 L1792.8 405.0 L1794.2 421.0 L1796.1 457.2 L1798.0 470.8 L1799.9 470.0 L1801.7 492.6 L1803.6 510.5 L1805.5 519.0 L1807.4 523.4 L1809.3 526.2 L1811.2 528.2 L1813.0 529.6 L1814.9 530.7 L1816.4 531.4 L1818.3 532.1 L1820.1 532.7 L1822.0 533.2 L1823.9 533.6 L1825.8 534.0 L1827.7 534.3 L1829.6 534.5 L1831.5 534.7 L1833.3 534.9 L1835.2 535.1 L1837.1 535.2 L1839.0 535.3 L1840.9 535.4 L1842.8 535.5 L1844.6 535.6 L1846.5 535.7 L1848.4 535.8 L1850.3 535.8 L1852.2 535.9 L1854.1 536.0 L1855.9 536.0 L1857.8 536.0 L1859.7 536.1 L1861.6 536.1 L1863.5 536.2 L1865.4 536.2 L1867.3 536.6 L1869.1 536.6 L1871.0 536.7 L1872.9 536.7 L1874.8 536.3 L1876.7 536.3 L1878.6 536.4 L1880.4 536.4 L1882.3 536.4 L1884.2 536.4 L1886.1 536.4 L1888.0 536.4 L1889.9 536.5 L1891.8 536.9 L1893.6 536.9 L1895.5 536.9 L1897.4 536.9 L1899.3 536.5 L1901.2 536.5 L1903.1 536.5 L1904.9 536.5 L1906.8 536.5 L1908.7 536.6 L1910.6 536.6 L1912.5 536.6 L1914.4 536.6 L1916.2 536.6 L1918.1 536.6 L1920.0 536.6 L1921.9 536.6 L1923.8 536.6 L1925.7 536.6 L1927.6 536.6 L1929.4 536.6 L1931.3 536.8 L1933.2 536.8 L1935.1 536.8 L1937.0 536.8 L1938.9 536.6 L1940.7 536.6 L1942.6 536.6 L1944.5 536.6 L1946.4 536.7 L1948.3 536.7 L1950.2 536.7 L1952.1 536.7 L1953.9 536.7 L1955.8 537.1 L1957.7 537.1 L1959.6 537.1" fill="none" stroke="#8B0000" stroke-width="14" stroke-linejoin="bevel" />
<use href="#c6" x="-1.2"/><use href="#c6" x="1.2"/>
<path d="M69.5 1705.8V1662.4H1952.6V1705.8" fill="none" stroke="#000" stroke-width="2.9"/>
<path d="M304.9 1662.4V1705.8" stroke="#000" stroke-width="2.9"/>
<path d="M540.3 1662.4V1705.8" stroke="#000" stroke-width="2.9"/>
<path d="M775.7 1662.4V1705.8" stroke="#000" stroke-width="2.9"/>
<path d="M1011.1 1662.4V1705.8" stroke="#000" stroke-width="2.9"/>
<path d="M1246.4 1662.4V1705.8" stroke="#000" stroke-width="2.9"/>
<path d="M1481.8 1662.4V1705.8" stroke="#000" stroke-width="2.9"/>
<path d="M1717.2 1662.4V1705.8" stroke="#000" stroke-width="2.9"/>
<text transform="translate(94.0 1580.0) scale(0.745 1)" font-family="'Liberation Sans', sans-serif" font-size="80.5" fill="#000" stroke="#000" stroke-width="2.6" stroke-linejoin="round">C</text>
<text transform="translate(144.8 1580.0) scale(0.850 1)" font-family="'Liberation Sans', sans-serif" font-size="80.5" fill="#000" stroke="#000" stroke-width="2.6" stroke-linejoin="round">e</text>
<text transform="translate(190.6 1580.0) scale(0.720 1)" font-family="'Liberation Sans', sans-serif" font-size="80.5" fill="#000" stroke="#000" stroke-width="2.6" stroke-linejoin="round">O</text>
<text transform="translate(240.2 1623.0) scale(0.870 1)" font-family="'Liberation Sans', sans-serif" font-size="52.5" fill="#000" stroke="#000" stroke-width="2.0" stroke-linejoin="round">2</text>
<text x="432.0" y="2455.2" font-family="'Liberation Serif', serif" font-size="65.1" font-weight="bold" fill="#000000" textLength="92.4" lengthAdjust="spacingAndGlyphs" transform="rotate(-90 432.0 2455.2)">111</text>
<text x="426.5" y="2468.6" font-family="'Liberation Serif', serif" font-size="58.3" font-weight="bold" fill="#000000" textLength="15.8" lengthAdjust="spacingAndGlyphs" transform="rotate(-90 426.5 2468.6)">(</text>
<text x="425.8" y="2363.6" font-family="'Liberation Serif', serif" font-size="57.3" font-weight="bold" fill="#000000" textLength="17.6" lengthAdjust="spacingAndGlyphs" transform="rotate(-90 425.8 2363.6)">)</text>
<text x="598.1" y="2861.0" font-family="'Liberation Serif', serif" font-size="61.5" font-weight="bold" fill="#000000" textLength="86.7" lengthAdjust="spacingAndGlyphs" transform="rotate(-90 598.1 2861.0)">200</text>
<text x="593.6" y="2877.7" font-family="'Liberation Serif', serif" font-size="57.3" font-weight="bold" fill="#000000" textLength="15.9" lengthAdjust="spacingAndGlyphs" transform="rotate(-90 593.6 2877.7)">(</text>
<text x="593.7" y="2773.8" font-family="'Liberation Serif', serif" font-size="57.4" font-weight="bold" fill="#000000" textLength="17.6" lengthAdjust="spacingAndGlyphs" transform="rotate(-90 593.7 2773.8)">)</text>
<text x="1123.6" y="2813.5" font-family="'Liberation Serif', serif" font-size="62.6" font-weight="bold" fill="#000000" textLength="86.7" lengthAdjust="spacingAndGlyphs" transform="rotate(-90 1123.6 2813.5)">220</text>
<text x="1118.4" y="2830.1" font-family="'Liberation Serif', serif" font-size="57.5" font-weight="bold" fill="#000000" textLength="16.8" lengthAdjust="spacingAndGlyphs" transform="rotate(-90 1118.4 2830.1)">(</text>
<text x="1119.2" y="2726.3" font-family="'Liberation Serif', serif" font-size="58.6" font-weight="bold" fill="#000000" textLength="17.9" lengthAdjust="spacingAndGlyphs" transform="rotate(-90 1119.2 2726.3)">)</text>
<text x="1444.8" y="2867.8" font-family="'Liberation Serif', serif" font-size="65.0" font-weight="bold" fill="#000000" textLength="92.2" lengthAdjust="spacingAndGlyphs" transform="rotate(-90 1444.8 2867.8)">311</text>
<text x="1441.5" y="2884.2" font-family="'Liberation Serif', serif" font-size="57.7" font-weight="bold" fill="#000000" textLength="16.7" lengthAdjust="spacingAndGlyphs" transform="rotate(-90 1441.5 2884.2)">(</text>
<text x="1440.4" y="2775.8" font-family="'Liberation Serif', serif" font-size="57.5" font-weight="bold" fill="#000000" textLength="17.6" lengthAdjust="spacingAndGlyphs" transform="rotate(-90 1440.4 2775.8)">)</text>
<path id="c7" d="M95.0 3913.1 L96.5 3913.1 L97.9 3913.1 L99.4 3913.1 L100.8 3913.1 L102.3 3913.1 L103.7 3913.1 L105.2 3912.8 L106.7 3912.8 L108.1 3912.8 L109.6 3912.8 L111.0 3912.3 L112.5 3912.3 L114.0 3912.3 L115.4 3912.3 L116.9 3912.3 L118.3 3912.3 L119.8 3912.3 L121.2 3912.3 L122.7 3912.3 L124.2 3912.3 L125.6 3912.3 L127.1 3912.3 L128.5 3912.3 L130.0 3912.3 L131.4 3912.3 L132.9 3912.3 L134.4 3912.3 L135.8 3911.9 L137.3 3911.9 L138.7 3911.9 L140.2 3911.9 L141.7 3912.3 L143.1 3912.3 L144.6 3912.3 L146.0 3912.3 L147.5 3912.3 L148.9 3912.3 L150.4 3912.3 L151.9 3912.3 L153.3 3912.3 L154.8 3912.3 L156.2 3912.3 L157.7 3912.3 L159.2 3912.3 L160.6 3913.1 L162.1 3913.1 L163.5 3913.1 L165.0 3913.1 L166.4 3912.3 L167.9 3912.3 L169.4 3912.3 L170.8 3912.3 L172.3 3913.1 L173.7 3913.1 L175.2 3913.1 L176.6 3913.1 L178.1 3913.1 L179.6 3912.3 L181.0 3912.3 L182.5 3912.3 L183.9 3912.3 L185.4 3912.3 L186.9 3912.3 L188.3 3912.3 L189.8 3912.3 L191.2 3913.1 L192.7 3913.1 L194.1 3913.1 L195.6 3913.1 L197.1 3912.3 L198.5 3912.3 L200.0 3912.3 L201.4 3912.3 L202.9 3912.3 L204.3 3912.3 L205.8 3912.3 L207.3 3912.3 L208.7 3912.3 L210.2 3912.3 L211.6 3912.3 L213.1 3912.3 L214.6 3912.3 L216.0 3912.7 L217.5 3912.7 L218.9 3912.7 L220.4 3912.7 L221.8 3912.2 L223.3 3912.2 L224.8 3912.2 L226.2 3912.2 L227.7 3912.2 L229.1 3912.7 L230.6 3912.7 L232.1 3912.6 L233.5 3912.6 L235.0 3912.2 L236.4 3912.2 L237.9 3912.2 L239.3 3912.2 L240.8 3912.2 L242.3 3912.2 L243.7 3912.2 L245.2 3912.2 L246.6 3912.2 L248.1 3912.2 L249.5 3912.2 L251.0 3912.2 L252.5 3912.2 L253.9 3912.2 L255.4 3912.2 L256.8 3912.2 L258.3 3912.2 L259.8 3912.2 L261.2 3912.2 L262.7 3912.1 L264.1 3912.1 L265.6 3912.1 L267.0 3912.1 L268.5 3912.1 L270.0 3912.1 L271.4 3912.1 L272.9 3912.1 L274.3 3912.1 L275.8 3912.1 L277.2 3912.1 L278.7 3912.1 L280.2 3912.1 L281.6 3912.1 L283.1 3912.1 L284.5 3912.8 L286.0 3912.8 L287.5 3912.8 L288.9 3912.8 L290.4 3912.0 L291.8 3912.0 L293.3 3912.0 L294.7 3912.0 L296.2 3912.4 L297.7 3912.4 L299.1 3912.4 L300.6 3912.3 L302.0 3912.3 L303.5 3911.9 L305.0 3911.9 L306.4 3911.9 L307.9 3911.9 L309.3 3911.8 L310.8 3911.8 L312.2 3911.8 L313.7 3911.8 L315.2 3911.8 L316.6 3911.7 L318.1 3911.7 L319.5 3911.7 L321.0 3911.7 L322.4 3911.6 L323.9 3911.6 L325.4 3911.6 L326.8 3911.5 L328.3 3911.5 L329.7 3911.5 L331.2 3911.4 L332.7 3911.4 L334.1 3911.3 L335.6 3911.3 L337.0 3911.2 L338.5 3911.2 L339.9 3911.1 L341.4 3911.1 L342.9 3911.0 L344.3 3910.9 L345.8 3910.4 L347.2 3910.3 L348.7 3910.3 L350.1 3910.1 L351.6 3910.0 L353.1 3911.1 L354.5 3911.0 L356.0 3910.8 L357.4 3910.7 L358.9 3909.7 L360.4 3909.5 L361.8 3909.3 L363.3 3909.1 L364.7 3908.4 L366.2 3908.0 L367.6 3907.7 L369.1 3907.3 L370.6 3907.2 L372.0 3906.7 L373.5 3906.1 L374.9 3905.3 L376.4 3904.5 L377.9 3903.4 L379.3 3902.2 L380.8 3900.7 L382.2 3898.8 L383.7 3896.4 L385.1 3893.4 L386.6 3889.4 L388.0 3884.3 L389.5 3877.0 L390.9 3866.9 L392.4 3852.4 L393.8 3831.9 L395.3 3803.6 L396.8 3768.1 L398.2 3733.5 L399.7 3718.0 L401.1 3733.5 L402.6 3768.1 L404.1 3803.6 L405.5 3831.9 L407.0 3852.4 L408.4 3866.9 L409.9 3877.0 L411.3 3884.3 L412.8 3889.7 L414.3 3893.5 L415.8 3896.5 L417.2 3898.9 L418.7 3900.7 L420.1 3902.2 L421.6 3903.5 L423.0 3904.5 L424.5 3905.4 L426.0 3906.1 L427.4 3906.7 L428.9 3907.2 L430.3 3907.7 L431.8 3908.1 L433.3 3908.5 L434.7 3908.8 L436.2 3909.0 L437.6 3909.3 L439.1 3909.5 L440.5 3909.7 L442.0 3909.9 L443.5 3910.0 L444.9 3910.2 L446.4 3910.3 L447.8 3910.4 L449.3 3910.5 L450.8 3910.6 L452.2 3911.1 L453.7 3911.2 L455.1 3911.3 L456.6 3911.4 L458.0 3911.0 L459.5 3911.1 L461.0 3911.1 L462.4 3911.2 L463.9 3911.2 L465.3 3911.3 L466.8 3911.3 L468.2 3911.3 L469.7 3911.4 L471.2 3911.4 L472.6 3911.4 L474.1 3911.5 L475.5 3911.5 L477.0 3911.9 L478.5 3912.0 L479.9 3912.0 L481.4 3912.0 L482.8 3911.2 L484.3 3911.2 L485.7 3911.2 L487.2 3911.2 L488.7 3911.7 L490.1 3911.7 L491.6 3911.7 L493.0 3911.7 L494.5 3911.7 L495.9 3911.7 L497.4 3911.7 L498.9 3911.7 L500.3 3911.7 L501.8 3911.7 L503.2 3911.7 L504.7 3911.7 L506.2 3911.7 L507.6 3911.3 L509.1 3911.3 L510.5 3911.3 L512.0 3911.3 L513.4 3911.7 L514.9 3911.7 L516.4 3911.7 L517.8 3911.6 L519.3 3911.6 L520.7 3911.6 L522.2 3911.6 L523.7 3911.6 L525.1 3911.5 L526.6 3911.5 L528.0 3911.4 L529.5 3911.4 L530.9 3911.3 L532.4 3911.3 L533.9 3911.2 L535.3 3911.1 L536.8 3911.0 L538.2 3910.9 L539.7 3910.7 L541.1 3910.5 L542.6 3910.3 L544.1 3909.7 L545.5 3909.3 L547.0 3908.9 L548.4 3908.2 L549.9 3907.1 L551.4 3905.9 L552.6 3903.8 L554.0 3900.2 L555.5 3895.1 L557.0 3888.3 L558.4 3879.9 L559.9 3870.6 L561.3 3861.5 L562.8 3854.6 L564.3 3852.0 L565.7 3854.6 L567.2 3861.5 L568.6 3870.6 L570.1 3879.9 L571.5 3888.3 L573.0 3895.1 L574.5 3900.2 L575.9 3903.8 L577.6 3906.1 L579.1 3907.5 L580.5 3908.5 L582.0 3909.5 L583.4 3909.9 L584.9 3910.2 L586.3 3910.5 L587.8 3910.7 L589.3 3910.9 L590.7 3911.0 L592.2 3911.1 L593.6 3911.2 L595.1 3911.3 L596.6 3911.4 L598.0 3911.5 L599.5 3911.6 L600.9 3911.6 L602.4 3911.7 L603.8 3911.7 L605.3 3911.7 L606.8 3912.2 L608.2 3912.2 L609.7 3912.3 L611.1 3912.3 L612.6 3912.7 L614.0 3912.7 L615.5 3912.7 L617.0 3912.7 L618.4 3911.6 L619.9 3911.6 L621.3 3911.6 L622.8 3911.6 L624.3 3911.6 L625.7 3912.1 L627.2 3912.1 L628.6 3912.1 L630.1 3912.1 L631.5 3912.1 L633.0 3912.1 L634.5 3912.1 L635.9 3912.1 L637.4 3912.1 L638.8 3912.1 L640.3 3912.1 L641.7 3912.2 L643.2 3912.2 L644.7 3912.2 L646.1 3912.2 L647.6 3912.2 L649.0 3912.2 L650.5 3912.2 L652.0 3912.2 L653.4 3912.2 L654.9 3912.2 L656.3 3912.6 L657.8 3912.6 L659.2 3912.6 L660.7 3912.6 L662.2 3912.2 L663.6 3912.2 L665.1 3912.2 L666.5 3912.2 L668.0 3912.2 L669.5 3912.2 L670.9 3912.2 L672.4 3912.2 L673.8 3912.2 L675.3 3912.2 L676.7 3912.3 L678.2 3912.3 L679.7 3912.3 L681.1 3912.3 L682.6 3912.3 L684.0 3912.3 L685.5 3912.3 L686.9 3913.0 L688.4 3913.0 L689.9 3913.1 L691.3 3913.1 L692.8 3912.3 L694.2 3912.3 L695.7 3912.3 L697.2 3912.3 L698.6 3912.3 L700.1 3912.3 L701.5 3912.3 L703.0 3912.3 L704.4 3912.3 L705.9 3912.3 L707.4 3912.3 L708.8 3912.3 L710.3 3912.3 L711.7 3912.3 L713.2 3912.3 L714.6 3912.3 L716.1 3912.3 L717.6 3912.3 L719.0 3912.3 L720.5 3912.3 L721.9 3912.3 L723.4 3912.3 L724.9 3912.3 L726.3 3912.3 L727.8 3912.3 L729.2 3912.3 L730.7 3912.3 L732.1 3912.3 L733.6 3912.3 L735.1 3912.3 L736.5 3913.1 L738.0 3913.1 L739.4 3913.1 L740.9 3913.1 L742.4 3911.9 L743.8 3911.9 L745.3 3911.9 L746.7 3911.9 L748.2 3911.9 L749.6 3912.3 L751.1 3912.3 L752.6 3912.3 L754.0 3912.3 L755.5 3913.1 L756.9 3913.1 L758.4 3913.1 L759.8 3913.1 L761.3 3912.3 L762.8 3912.3 L764.2 3912.3 L765.7 3912.3 L767.1 3911.9 L768.6 3911.9 L770.1 3911.9 L771.5 3911.9 L773.0 3911.9 L774.4 3912.7 L775.9 3912.7 L777.3 3912.7 L778.8 3912.7 L780.3 3912.3 L781.7 3912.3 L783.2 3912.3 L784.6 3912.3 L786.1 3912.3 L787.5 3912.3 L789.0 3912.3 L790.5 3912.3 L791.9 3912.3 L793.4 3912.3 L794.8 3912.3 L796.3 3912.3 L797.8 3912.3 L799.2 3912.3 L800.7 3912.3 L802.1 3912.3 L803.6 3912.3 L805.0 3912.3 L806.5 3912.3 L808.0 3912.3 L809.4 3912.3 L810.9 3912.3 L812.3 3912.3 L813.8 3912.3 L815.3 3912.3 L816.7 3912.3 L818.2 3912.3 L819.6 3912.3 L821.1 3912.3 L822.5 3912.3 L824.0 3912.3 L825.5 3912.3 L826.9 3912.3 L828.4 3912.3 L829.8 3912.3 L831.3 3912.3 L832.7 3912.3 L834.2 3912.3 L835.7 3912.3 L837.1 3912.3 L838.6 3912.3 L840.0 3912.3 L841.5 3912.7 L843.0 3912.7 L844.4 3912.7 L845.9 3912.7 L847.3 3912.7 L848.8 3912.3 L850.2 3912.3 L851.7 3912.3 L853.2 3912.3 L854.6 3911.9 L856.1 3911.9 L857.5 3911.9 L859.0 3911.9 L860.4 3912.3 L861.9 3912.3 L863.4 3912.3 L864.8 3912.3 L866.3 3912.3 L867.7 3912.3 L869.2 3912.3 L870.7 3912.3 L872.1 3912.3 L873.6 3912.3 L875.0 3912.3 L876.5 3912.3 L877.9 3912.3 L879.4 3912.3 L880.9 3912.3 L882.3 3912.3 L883.8 3912.3 L885.2 3912.7 L886.7 3912.7 L888.2 3912.7 L889.6 3912.7 L891.1 3912.3 L892.5 3912.3 L894.0 3912.3 L895.4 3912.3 L896.9 3912.3 L898.4 3912.3 L899.8 3912.3 L901.3 3912.3 L902.7 3912.3 L904.2 3912.3 L905.6 3912.3 L907.1 3912.3 L908.6 3912.3 L910.0 3912.3 L911.5 3912.3 L912.9 3912.3 L914.4 3912.3 L915.9 3912.3 L917.3 3912.3 L918.8 3912.3 L920.2 3912.3 L921.7 3912.3 L923.1 3911.9 L924.6 3911.9 L926.1 3911.9 L927.5 3911.9 L929.0 3913.1 L930.4 3913.1 L931.9 3913.1 L933.3 3913.1 L934.8 3912.3 L936.3 3912.3 L937.7 3912.3 L939.2 3912.3 L940.6 3912.3 L942.1 3912.3 L943.6 3912.3 L945.0 3912.3 L946.5 3912.3 L947.9 3913.0 L949.4 3913.0 L950.8 3913.0 L952.3 3913.0 L953.8 3912.3 L955.2 3912.2 L956.7 3912.2 L958.1 3912.2 L959.6 3912.7 L961.1 3912.7 L962.5 3912.7 L964.0 3912.7 L965.4 3912.2 L966.9 3912.2 L968.3 3912.2 L969.8 3912.2 L971.3 3912.2 L972.7 3911.8 L974.2 3911.8 L975.6 3911.8 L977.1 3911.8 L978.5 3912.2 L980.0 3912.2 L981.5 3912.2 L982.9 3912.2 L984.4 3912.2 L985.8 3912.2 L987.3 3912.2 L988.8 3912.2 L990.2 3912.2 L991.7 3912.1 L993.1 3912.1 L994.6 3912.1 L996.0 3912.1 L997.5 3912.1 L999.0 3912.1 L1000.4 3912.1 L1001.9 3912.1 L1003.3 3912.1 L1004.8 3912.1 L1006.2 3912.1 L1007.7 3912.0 L1009.2 3912.0 L1010.6 3912.0 L1012.1 3912.0 L1013.5 3912.0 L1015.0 3912.0 L1016.5 3912.0 L1017.9 3912.0 L1019.4 3911.9 L1020.8 3911.9 L1022.3 3911.9 L1023.7 3911.9 L1025.2 3911.9 L1026.7 3911.8 L1028.1 3911.8 L1029.6 3911.8 L1031.0 3911.8 L1032.5 3911.7 L1034.0 3912.5 L1035.4 3912.4 L1036.9 3912.4 L1038.3 3912.4 L1039.8 3912.0 L1041.2 3911.9 L1042.7 3911.8 L1044.2 3911.8 L1045.6 3911.7 L1047.1 3911.2 L1048.5 3911.2 L1050.0 3911.1 L1051.4 3911.0 L1052.9 3910.9 L1054.4 3910.8 L1055.8 3910.6 L1057.3 3910.5 L1058.7 3910.3 L1060.2 3910.1 L1061.7 3909.9 L1063.1 3909.7 L1064.6 3909.4 L1066.0 3909.0 L1067.5 3908.6 L1068.9 3908.1 L1070.4 3907.4 L1071.9 3906.4 L1073.3 3905.0 L1074.8 3902.9 L1076.2 3899.8 L1077.7 3895.1 L1079.3 3887.7 L1080.7 3878.2 L1082.2 3866.0 L1083.7 3851.2 L1085.1 3834.4 L1086.6 3817.1 L1088.0 3801.4 L1089.5 3790.1 L1091.0 3786.0 L1092.4 3790.1 L1093.9 3801.4 L1095.3 3817.1 L1096.8 3834.4 L1098.2 3851.2 L1099.7 3866.0 L1101.2 3878.2 L1102.6 3887.7 L1103.9 3894.0 L1105.4 3899.0 L1106.9 3902.4 L1108.3 3904.7 L1109.8 3906.2 L1111.2 3907.2 L1112.7 3908.0 L1114.1 3908.5 L1115.6 3908.9 L1117.1 3909.3 L1118.5 3909.6 L1120.0 3909.9 L1121.4 3910.1 L1122.9 3910.3 L1124.3 3910.4 L1125.8 3910.6 L1127.3 3910.7 L1128.7 3910.8 L1130.2 3911.0 L1131.6 3911.1 L1133.1 3911.1 L1134.6 3911.2 L1136.0 3911.3 L1137.5 3911.4 L1138.9 3911.4 L1140.4 3911.5 L1141.8 3911.5 L1143.3 3911.6 L1144.8 3911.6 L1146.2 3912.1 L1147.7 3912.1 L1149.1 3912.1 L1150.6 3912.2 L1152.0 3912.2 L1153.5 3912.2 L1155.0 3912.2 L1156.4 3912.3 L1157.9 3911.9 L1159.3 3911.9 L1160.8 3911.9 L1162.3 3911.9 L1163.7 3912.7 L1165.2 3912.7 L1166.6 3912.7 L1168.1 3912.8 L1169.5 3912.8 L1171.0 3911.6 L1172.5 3911.6 L1173.9 3911.6 L1175.4 3911.6 L1176.8 3912.1 L1178.3 3912.1 L1179.8 3912.1 L1181.2 3912.1 L1182.7 3912.1 L1184.1 3912.1 L1185.6 3912.1 L1187.0 3912.1 L1188.5 3912.1 L1190.0 3912.1 L1191.4 3912.1 L1192.9 3912.1 L1194.3 3912.1 L1195.8 3912.9 L1197.2 3912.9 L1198.7 3912.9 L1200.2 3912.9 L1201.6 3912.2 L1203.1 3912.2 L1204.5 3912.2 L1206.0 3912.2 L1207.5 3912.2 L1208.9 3912.2 L1210.4 3912.2 L1211.8 3912.2 L1213.3 3912.2 L1214.7 3912.2 L1216.2 3912.2 L1217.7 3912.2 L1219.1 3912.2 L1220.6 3912.2 L1222.0 3912.2 L1223.5 3912.2 L1224.9 3912.2 L1226.4 3912.2 L1227.9 3912.2 L1229.3 3912.2 L1230.8 3912.2 L1232.2 3913.0 L1233.7 3913.0 L1235.2 3913.0 L1236.6 3913.0 L1238.1 3912.2 L1239.5 3912.2 L1241.0 3912.2 L1242.4 3912.2 L1243.9 3912.2 L1245.4 3912.2 L1246.8 3912.2 L1248.3 3912.2 L1249.7 3912.2 L1251.2 3913.0 L1252.7 3913.0 L1254.1 3913.0 L1255.6 3913.0 L1257.0 3912.2 L1258.5 3912.2 L1259.9 3912.2 L1261.4 3912.2 L1262.9 3912.6 L1264.3 3912.6 L1265.8 3912.6 L1267.2 3912.6 L1268.7 3912.6 L1270.1 3912.6 L1271.6 3912.6 L1273.1 3912.6 L1274.5 3912.6 L1276.0 3912.2 L1277.4 3912.2 L1278.9 3912.2 L1280.4 3912.2 L1281.8 3912.2 L1283.3 3912.2 L1284.7 3912.2 L1286.2 3912.2 L1287.6 3911.8 L1289.1 3911.8 L1290.6 3911.8 L1292.0 3911.8 L1293.5 3911.8 L1294.9 3912.2 L1296.4 3912.2 L1297.8 3912.2 L1299.3 3912.2 L1300.8 3912.2 L1302.2 3912.2 L1303.7 3912.2 L1305.1 3912.2 L1306.6 3912.2 L1308.1 3912.2 L1309.5 3912.2 L1311.0 3912.2 L1312.4 3912.2 L1313.9 3912.1 L1315.3 3912.1 L1316.8 3912.1 L1318.3 3912.1 L1319.7 3912.1 L1321.2 3912.1 L1322.6 3912.1 L1324.1 3912.1 L1325.6 3912.1 L1327.0 3912.1 L1328.5 3912.1 L1329.9 3912.1 L1331.4 3912.1 L1332.8 3912.1 L1334.3 3912.0 L1335.8 3912.0 L1337.2 3912.0 L1338.7 3912.0 L1340.1 3912.0 L1341.6 3912.0 L1343.0 3912.0 L1344.5 3911.9 L1346.0 3911.9 L1347.4 3911.9 L1348.9 3911.9 L1350.3 3911.9 L1351.8 3911.9 L1353.3 3911.8 L1354.7 3911.8 L1356.2 3911.8 L1357.6 3911.7 L1359.1 3911.7 L1360.5 3911.7 L1362.0 3911.6 L1363.5 3911.6 L1364.9 3911.6 L1366.4 3911.5 L1367.8 3911.5 L1369.3 3911.4 L1370.7 3911.3 L1372.2 3911.3 L1373.7 3911.2 L1375.1 3911.1 L1376.6 3911.0 L1378.0 3910.9 L1379.5 3910.8 L1381.0 3910.7 L1382.4 3910.5 L1383.9 3910.3 L1385.3 3910.1 L1386.8 3909.9 L1388.2 3909.6 L1389.7 3909.3 L1391.2 3908.8 L1392.6 3908.2 L1394.1 3907.0 L1395.5 3906.3 L1397.0 3904.5 L1398.5 3902.0 L1399.9 3898.3 L1401.9 3891.0 L1403.3 3883.4 L1404.8 3873.9 L1406.2 3862.7 L1407.7 3850.3 L1409.2 3837.8 L1410.6 3826.7 L1412.1 3818.9 L1413.5 3816.0 L1415.0 3818.9 L1416.5 3826.7 L1417.9 3837.8 L1419.4 3850.3 L1420.8 3862.7 L1422.3 3873.9 L1423.7 3883.4 L1425.2 3890.9 L1426.2 3894.9 L1427.6 3899.5 L1429.1 3902.8 L1430.5 3905.1 L1432.0 3906.6 L1433.4 3907.7 L1434.9 3908.4 L1436.4 3908.9 L1437.8 3909.3 L1439.3 3909.6 L1440.7 3909.9 L1442.2 3910.1 L1443.6 3910.3 L1445.1 3910.5 L1446.6 3910.6 L1448.0 3910.7 L1449.5 3910.8 L1450.9 3910.9 L1452.4 3911.0 L1453.9 3911.1 L1455.3 3911.6 L1456.8 3911.6 L1458.2 3911.7 L1459.7 3911.7 L1461.1 3910.9 L1462.6 3911.0 L1464.1 3911.0 L1465.5 3911.0 L1467.0 3911.1 L1468.4 3911.9 L1469.9 3911.9 L1471.4 3911.9 L1472.8 3911.9 L1474.3 3911.5 L1475.7 3911.5 L1477.2 3911.5 L1478.6 3911.5 L1480.1 3911.5 L1481.6 3911.5 L1483.0 3911.4 L1484.5 3911.4 L1485.9 3912.1 L1487.4 3912.1 L1488.8 3912.0 L1490.3 3911.9 L1491.8 3911.7 L1493.2 3910.8 L1494.7 3910.5 L1496.1 3910.2 L1497.6 3909.7 L1499.1 3909.1 L1500.5 3908.2 L1502.0 3907.1 L1503.2 3906.0 L1504.7 3904.5 L1506.1 3902.7 L1507.6 3900.7 L1509.0 3898.8 L1510.5 3897.1 L1512.0 3895.9 L1513.4 3895.5 L1514.9 3895.5 L1516.3 3895.5 L1517.8 3895.9 L1519.2 3897.2 L1520.7 3898.9 L1522.2 3900.8 L1523.6 3902.7 L1525.1 3904.5 L1526.5 3906.1 L1528.2 3907.6 L1529.7 3909.0 L1531.1 3909.8 L1532.6 3910.4 L1534.0 3910.9 L1535.5 3910.8 L1537.0 3911.0 L1538.4 3911.2 L1539.9 3911.3 L1541.3 3911.4 L1542.8 3912.3 L1544.3 3912.4 L1545.7 3912.5 L1547.2 3912.5 L1548.6 3912.6 L1550.1 3912.6 L1551.5 3912.6 L1553.0 3912.7 L1554.5 3912.7 L1555.9 3912.7 L1557.4 3912.8 L1558.8 3912.8 L1560.3 3912.0 L1561.7 3912.0 L1563.2 3912.1 L1564.7 3912.1 L1566.0 3912.1" fill="none" stroke="#000000" stroke-width="12" stroke-linejoin="bevel" />
<path id="c8" d="M95.0 3697.9 L96.5 3697.9 L97.9 3697.9 L99.4 3697.9 L100.8 3697.9 L102.3 3697.9 L103.7 3697.9 L105.2 3697.9 L106.7 3697.9 L108.1 3697.9 L109.6 3697.9 L111.0 3697.9 L112.5 3697.9 L114.0 3697.9 L115.4 3697.9 L116.9 3697.9 L118.3 3697.9 L119.8 3697.9 L121.2 3697.9 L122.7 3697.9 L124.2 3697.9 L125.6 3697.9 L127.1 3697.9 L128.5 3697.9 L130.0 3698.3 L131.4 3698.3 L132.9 3698.3 L134.4 3698.3 L135.8 3697.9 L137.3 3697.9 L138.7 3697.9 L140.2 3697.9 L141.7 3698.3 L143.1 3698.3 L144.6 3698.3 L146.0 3698.3 L147.5 3697.9 L148.9 3697.9 L150.4 3697.9 L151.9 3697.9 L153.3 3697.9 L154.8 3697.5 L156.2 3697.5 L157.7 3697.5 L159.2 3697.5 L160.6 3698.3 L162.1 3698.3 L163.5 3698.3 L165.0 3698.3 L166.4 3697.5 L167.9 3697.5 L169.4 3697.5 L170.8 3697.5 L172.3 3697.9 L173.7 3697.9 L175.2 3697.9 L176.6 3697.9 L178.1 3697.9 L179.6 3697.9 L181.0 3697.9 L182.5 3697.9 L183.9 3697.9 L185.4 3697.9 L186.9 3697.9 L188.3 3697.9 L189.8 3697.9 L191.2 3697.9 L192.7 3697.9 L194.1 3697.9 L195.6 3697.9 L197.1 3697.5 L198.5 3697.5 L200.0 3697.4 L201.4 3697.4 L202.9 3697.4 L204.3 3698.3 L205.8 3698.3 L207.3 3698.3 L208.7 3698.3 L210.2 3697.9 L211.6 3697.9 L213.1 3697.9 L214.6 3697.9 L216.0 3698.6 L217.5 3698.6 L218.9 3698.6 L220.4 3698.6 L221.8 3697.4 L223.3 3697.4 L224.8 3697.4 L226.2 3697.4 L227.7 3697.4 L229.1 3697.8 L230.6 3697.8 L232.1 3697.8 L233.5 3697.8 L235.0 3697.8 L236.4 3697.8 L237.9 3697.8 L239.3 3697.8 L240.8 3698.6 L242.3 3698.6 L243.7 3698.6 L245.2 3698.6 L246.6 3697.8 L248.1 3697.8 L249.5 3697.8 L251.0 3697.8 L252.5 3697.8 L253.9 3697.8 L255.4 3697.8 L256.8 3697.8 L258.3 3697.8 L259.8 3697.7 L261.2 3697.7 L262.7 3697.7 L264.1 3697.7 L265.6 3698.5 L267.0 3698.5 L268.5 3698.5 L270.0 3698.5 L271.4 3697.3 L272.9 3697.3 L274.3 3697.3 L275.8 3697.3 L277.2 3697.3 L278.7 3697.7 L280.2 3697.7 L281.6 3697.7 L283.1 3697.6 L284.5 3697.6 L286.0 3697.6 L287.5 3697.6 L288.9 3697.6 L290.4 3697.6 L291.8 3697.6 L293.3 3697.6 L294.7 3697.6 L296.2 3697.6 L297.7 3697.5 L299.1 3697.5 L300.6 3697.5 L302.0 3697.5 L303.5 3697.5 L305.0 3697.5 L306.4 3697.5 L307.9 3697.4 L309.3 3698.2 L310.8 3698.2 L312.2 3698.2 L313.7 3698.1 L315.2 3697.3 L316.6 3697.3 L318.1 3697.3 L319.5 3697.3 L321.0 3697.2 L322.4 3697.2 L323.9 3697.2 L325.4 3697.2 L326.8 3697.1 L328.3 3697.9 L329.7 3697.8 L331.2 3697.8 L332.7 3697.8 L334.1 3696.9 L335.6 3696.9 L337.0 3696.8 L338.5 3696.8 L339.9 3696.7 L341.4 3696.7 L342.9 3696.6 L344.3 3696.5 L345.8 3696.0 L347.2 3696.0 L348.7 3695.9 L350.1 3695.8 L351.6 3695.7 L353.1 3696.0 L354.5 3695.9 L356.0 3695.7 L357.4 3695.6 L358.9 3695.9 L360.4 3695.7 L361.8 3695.5 L363.3 3695.3 L364.7 3694.6 L366.2 3694.3 L367.6 3694.0 L369.1 3693.7 L370.6 3694.0 L372.0 3693.6 L373.5 3693.1 L374.9 3691.7 L376.4 3691.0 L377.9 3690.2 L379.3 3689.2 L380.8 3688.0 L382.2 3686.6 L383.7 3684.8 L385.1 3682.7 L386.6 3680.0 L388.1 3676.5 L389.5 3671.9 L390.6 3667.6 L392.0 3659.8 L393.5 3648.8 L394.9 3633.2 L396.4 3611.0 L397.9 3580.5 L399.3 3542.1 L400.8 3504.7 L402.2 3488.0 L403.7 3504.7 L405.1 3542.1 L406.6 3580.5 L408.1 3611.0 L409.5 3633.2 L411.0 3648.8 L412.4 3659.8 L413.9 3667.6 L415.8 3674.6 L417.2 3678.5 L418.7 3681.6 L420.1 3683.9 L421.6 3685.8 L423.0 3687.4 L424.5 3688.7 L426.0 3689.7 L427.4 3690.6 L428.9 3691.4 L430.3 3692.0 L431.8 3692.6 L433.3 3693.0 L434.7 3693.5 L436.2 3693.8 L437.6 3694.1 L439.1 3694.4 L440.5 3694.7 L442.0 3694.9 L443.5 3695.1 L444.9 3695.3 L446.4 3695.5 L447.8 3695.6 L449.3 3695.8 L450.8 3695.9 L452.2 3696.0 L453.7 3696.1 L455.1 3696.2 L456.6 3696.3 L458.0 3696.4 L459.5 3696.4 L461.0 3696.5 L462.4 3696.6 L463.9 3696.2 L465.3 3696.3 L466.8 3696.3 L468.2 3696.4 L469.7 3696.8 L471.2 3696.9 L472.6 3696.9 L474.1 3696.9 L475.5 3697.0 L477.0 3697.0 L478.5 3697.0 L479.9 3697.1 L481.4 3697.1 L482.8 3697.1 L484.3 3697.1 L485.7 3697.1 L487.2 3697.2 L488.7 3697.2 L490.1 3697.2 L491.6 3697.2 L493.0 3697.2 L494.5 3698.0 L495.9 3698.0 L497.4 3698.0 L498.9 3698.0 L500.3 3698.0 L501.8 3697.3 L503.2 3697.3 L504.7 3697.3 L506.2 3697.3 L507.6 3697.3 L509.1 3697.3 L510.5 3697.3 L512.0 3697.2 L513.4 3697.2 L514.9 3697.2 L516.4 3697.2 L517.8 3697.2 L519.3 3696.8 L520.7 3696.7 L522.2 3696.7 L523.7 3696.7 L525.1 3696.7 L526.6 3697.0 L528.0 3697.0 L529.5 3697.0 L530.9 3696.9 L532.4 3696.4 L533.9 3696.4 L535.3 3696.3 L536.8 3696.2 L538.2 3696.5 L539.7 3696.4 L541.1 3696.2 L542.6 3696.1 L544.1 3695.8 L545.5 3695.6 L547.0 3695.3 L548.4 3694.8 L549.9 3694.2 L551.4 3693.3 L552.8 3691.8 L554.8 3688.5 L556.2 3684.5 L557.7 3678.8 L559.1 3671.2 L560.6 3661.9 L562.1 3651.6 L563.5 3641.5 L565.0 3633.9 L566.4 3631.0 L567.9 3633.9 L569.4 3641.6 L570.8 3651.6 L572.3 3662.0 L573.7 3671.3 L575.2 3678.8 L576.6 3684.5 L578.1 3688.5 L579.1 3690.4 L580.5 3692.4 L582.0 3693.7 L583.4 3694.5 L584.9 3695.0 L586.3 3695.5 L587.8 3695.8 L589.3 3696.0 L590.7 3696.2 L592.2 3696.4 L593.6 3696.5 L595.1 3696.7 L596.6 3696.8 L598.0 3696.9 L599.5 3697.0 L600.9 3697.0 L602.4 3697.1 L603.8 3697.2 L605.3 3697.2 L606.8 3697.7 L608.2 3697.7 L609.7 3697.8 L611.1 3697.8 L612.6 3697.4 L614.0 3697.4 L615.5 3697.5 L617.0 3697.5 L618.4 3697.9 L619.9 3697.9 L621.3 3698.0 L622.8 3698.0 L624.3 3698.0 L625.7 3697.6 L627.2 3697.6 L628.6 3697.6 L630.1 3697.6 L631.5 3697.7 L633.0 3697.7 L634.5 3697.7 L635.9 3697.7 L637.4 3697.7 L638.8 3697.7 L640.3 3697.7 L641.7 3697.7 L643.2 3697.7 L644.7 3697.7 L646.1 3697.7 L647.6 3697.7 L649.0 3697.8 L650.5 3697.8 L652.0 3697.8 L653.4 3697.8 L654.9 3697.8 L656.3 3697.8 L657.8 3697.8 L659.2 3697.8 L660.7 3697.8 L662.2 3697.8 L663.6 3697.8 L665.1 3697.8 L666.5 3697.8 L668.0 3697.8 L669.5 3697.8 L670.9 3697.8 L672.4 3697.8 L673.8 3697.8 L675.3 3697.8 L676.7 3697.8 L678.2 3697.8 L679.7 3697.8 L681.1 3698.6 L682.6 3698.6 L684.0 3698.6 L685.5 3698.6 L686.9 3697.9 L688.4 3697.9 L689.9 3697.9 L691.3 3697.9 L692.8 3697.9 L694.2 3697.9 L695.7 3697.9 L697.2 3697.9 L698.6 3697.9 L700.1 3697.9 L701.5 3697.9 L703.0 3697.9 L704.4 3697.9 L705.9 3697.9 L707.4 3697.9 L708.8 3697.9 L710.3 3697.9 L711.7 3697.9 L713.2 3697.9 L714.6 3697.9 L716.1 3697.9 L717.6 3698.3 L719.0 3698.3 L720.5 3698.3 L721.9 3698.3 L723.4 3698.3 L724.9 3697.9 L726.3 3697.9 L727.8 3697.9 L729.2 3697.9 L730.7 3697.9 L732.1 3697.9 L733.6 3697.9 L735.1 3697.9 L736.5 3697.9 L738.0 3697.9 L739.4 3697.9 L740.9 3697.9 L742.4 3697.9 L743.8 3697.9 L745.3 3697.9 L746.7 3697.9 L748.2 3697.9 L749.6 3697.9 L751.1 3697.9 L752.6 3697.9 L754.0 3697.9 L755.5 3697.9 L756.9 3697.9 L758.4 3697.9 L759.8 3697.9 L761.3 3697.9 L762.8 3697.9 L764.2 3697.9 L765.7 3697.9 L767.1 3697.5 L768.6 3697.5 L770.1 3697.5 L771.5 3697.5 L773.0 3697.5 L774.4 3697.9 L775.9 3697.9 L777.3 3697.9 L778.8 3697.9 L780.3 3697.9 L781.7 3697.9 L783.2 3697.9 L784.6 3697.9 L786.1 3697.9 L787.5 3697.9 L789.0 3697.9 L790.5 3697.9 L791.9 3697.9 L793.4 3697.9 L794.8 3697.9 L796.3 3697.9 L797.8 3697.9 L799.2 3697.9 L800.7 3697.9 L802.1 3697.9 L803.6 3697.9 L805.0 3697.9 L806.5 3697.9 L808.0 3697.9 L809.4 3697.9 L810.9 3698.3 L812.3 3698.3 L813.8 3698.3 L815.3 3698.3 L816.7 3697.9 L818.2 3697.9 L819.6 3697.9 L821.1 3697.9 L822.5 3697.9 L824.0 3698.7 L825.5 3698.7 L826.9 3698.7 L828.4 3698.7 L829.8 3697.9 L831.3 3697.9 L832.7 3697.9 L834.2 3697.9 L835.7 3698.7 L837.1 3698.7 L838.6 3698.7 L840.0 3698.7 L841.5 3697.9 L843.0 3697.9 L844.4 3697.9 L845.9 3697.9 L847.3 3697.9 L848.8 3697.9 L850.2 3697.9 L851.7 3697.9 L853.2 3697.9 L854.6 3697.5 L856.1 3697.5 L857.5 3697.5 L859.0 3697.5 L860.4 3697.9 L861.9 3697.9 L863.4 3697.9 L864.8 3697.9 L866.3 3698.3 L867.7 3698.3 L869.2 3698.3 L870.7 3698.3 L872.1 3698.3 L873.6 3698.7 L875.0 3698.7 L876.5 3698.7 L877.9 3698.7 L879.4 3697.9 L880.9 3697.9 L882.3 3697.9 L883.8 3697.9 L885.2 3697.9 L886.7 3697.9 L888.2 3697.9 L889.6 3697.9 L891.1 3697.9 L892.5 3697.9 L894.0 3697.9 L895.4 3697.9 L896.9 3697.9 L898.4 3698.7 L899.8 3698.7 L901.3 3698.7 L902.7 3698.7 L904.2 3697.9 L905.6 3697.9 L907.1 3697.9 L908.6 3697.9 L910.0 3698.3 L911.5 3698.3 L912.9 3698.3 L914.4 3698.3 L915.9 3698.7 L917.3 3698.7 L918.8 3698.7 L920.2 3698.7 L921.7 3698.7 L923.1 3698.7 L924.6 3698.7 L926.1 3698.7 L927.5 3698.7 L929.0 3697.9 L930.4 3697.9 L931.9 3697.9 L933.3 3697.9 L934.8 3697.9 L936.3 3697.9 L937.7 3697.9 L939.2 3697.9 L940.6 3697.9 L942.1 3697.9 L943.6 3697.9 L945.0 3697.9 L946.5 3697.9 L947.9 3697.9 L949.4 3697.9 L950.8 3697.9 L952.3 3697.9 L953.8 3697.9 L955.2 3697.8 L956.7 3697.8 L958.1 3697.8 L959.6 3697.8 L961.1 3697.8 L962.5 3697.8 L964.0 3697.8 L965.4 3697.8 L966.9 3697.8 L968.3 3697.8 L969.8 3697.8 L971.3 3697.8 L972.7 3697.4 L974.2 3697.4 L975.6 3697.4 L977.1 3697.4 L978.5 3697.8 L980.0 3697.8 L981.5 3697.8 L982.9 3697.8 L984.4 3697.8 L985.8 3697.8 L987.3 3697.8 L988.8 3697.8 L990.2 3697.8 L991.7 3697.7 L993.1 3697.7 L994.6 3697.7 L996.0 3697.7 L997.5 3697.7 L999.0 3697.7 L1000.4 3697.7 L1001.9 3697.7 L1003.3 3697.7 L1004.8 3697.7 L1006.2 3697.7 L1007.7 3697.7 L1009.2 3698.1 L1010.6 3698.1 L1012.1 3698.0 L1013.5 3698.0 L1015.0 3697.6 L1016.5 3697.6 L1017.9 3697.6 L1019.4 3697.6 L1020.8 3697.5 L1022.3 3697.5 L1023.7 3697.5 L1025.2 3697.5 L1026.7 3697.5 L1028.1 3697.4 L1029.6 3697.4 L1031.0 3697.4 L1032.5 3697.4 L1034.0 3697.3 L1035.4 3697.3 L1036.9 3697.3 L1038.3 3697.2 L1039.8 3697.2 L1041.2 3697.1 L1042.7 3697.1 L1044.2 3697.0 L1045.6 3697.0 L1047.1 3696.9 L1048.5 3696.9 L1050.0 3696.8 L1051.4 3696.7 L1052.9 3696.6 L1054.4 3696.5 L1055.8 3696.4 L1057.3 3696.3 L1058.7 3696.1 L1060.2 3696.0 L1061.7 3695.8 L1063.1 3695.6 L1064.6 3695.4 L1066.0 3695.1 L1067.5 3694.8 L1068.9 3694.4 L1070.4 3693.9 L1071.9 3693.7 L1073.3 3692.9 L1074.8 3691.3 L1076.2 3689.6 L1077.7 3687.0 L1079.1 3683.1 L1080.6 3677.4 L1081.5 3673.0 L1082.9 3663.4 L1084.4 3651.0 L1085.9 3636.0 L1087.3 3619.0 L1088.8 3601.5 L1090.2 3585.6 L1091.7 3574.2 L1093.1 3570.0 L1094.6 3574.2 L1096.1 3585.6 L1097.5 3601.5 L1099.0 3619.0 L1100.4 3636.0 L1101.9 3651.0 L1103.3 3663.4 L1104.8 3673.0 L1106.9 3682.2 L1108.3 3686.4 L1109.8 3689.2 L1111.2 3691.0 L1112.7 3692.3 L1114.1 3693.2 L1115.6 3693.8 L1117.1 3694.3 L1118.5 3694.7 L1120.0 3695.0 L1121.4 3695.3 L1122.9 3695.5 L1124.3 3695.8 L1125.8 3695.9 L1127.3 3696.1 L1128.7 3696.2 L1130.2 3696.4 L1131.6 3696.5 L1133.1 3696.6 L1134.6 3696.7 L1136.0 3696.8 L1137.5 3696.8 L1138.9 3696.9 L1140.4 3697.0 L1141.8 3697.0 L1143.3 3697.1 L1144.8 3697.1 L1146.2 3697.9 L1147.7 3698.0 L1149.1 3698.0 L1150.6 3698.1 L1152.0 3696.9 L1153.5 3696.9 L1155.0 3697.0 L1156.4 3697.0 L1157.9 3698.2 L1159.3 3698.2 L1160.8 3698.2 L1162.3 3698.3 L1163.7 3697.1 L1165.2 3697.1 L1166.6 3697.1 L1168.1 3697.1 L1169.5 3697.1 L1171.0 3698.4 L1172.5 3698.4 L1173.9 3698.4 L1175.4 3698.4 L1176.8 3697.6 L1178.3 3697.6 L1179.8 3697.7 L1181.2 3697.7 L1182.7 3697.7 L1184.1 3697.7 L1185.6 3697.7 L1187.0 3697.7 L1188.5 3697.7 L1190.0 3697.7 L1191.4 3697.7 L1192.9 3697.7 L1194.3 3697.7 L1195.8 3697.7 L1197.2 3697.7 L1198.7 3697.7 L1200.2 3697.7 L1201.6 3697.8 L1203.1 3697.8 L1204.5 3697.8 L1206.0 3697.8 L1207.5 3698.2 L1208.9 3698.2 L1210.4 3698.2 L1211.8 3698.2 L1213.3 3697.8 L1214.7 3697.8 L1216.2 3697.8 L1217.7 3697.8 L1219.1 3697.8 L1220.6 3697.4 L1222.0 3697.4 L1223.5 3697.4 L1224.9 3697.4 L1226.4 3697.8 L1227.9 3697.8 L1229.3 3697.8 L1230.8 3697.8 L1232.2 3697.8 L1233.7 3697.8 L1235.2 3697.8 L1236.6 3697.8 L1238.1 3697.8 L1239.5 3697.8 L1241.0 3697.8 L1242.4 3697.8 L1243.9 3697.8 L1245.4 3697.8 L1246.8 3697.8 L1248.3 3697.8 L1249.7 3697.8 L1251.2 3698.6 L1252.7 3698.6 L1254.1 3698.6 L1255.6 3698.6 L1257.0 3697.8 L1258.5 3697.8 L1259.9 3697.8 L1261.4 3697.8 L1262.9 3698.6 L1264.3 3698.6 L1265.8 3698.6 L1267.2 3698.6 L1268.7 3698.6 L1270.1 3697.8 L1271.6 3697.8 L1273.1 3697.8 L1274.5 3697.8 L1276.0 3697.4 L1277.4 3697.4 L1278.9 3697.4 L1280.4 3697.4 L1281.8 3697.8 L1283.3 3697.8 L1284.7 3697.8 L1286.2 3697.8 L1287.6 3697.8 L1289.1 3697.8 L1290.6 3697.8 L1292.0 3697.8 L1293.5 3697.8 L1294.9 3697.4 L1296.4 3697.4 L1297.8 3697.4 L1299.3 3697.4 L1300.8 3697.8 L1302.2 3697.8 L1303.7 3697.8 L1305.1 3697.8 L1306.6 3697.8 L1308.1 3697.8 L1309.5 3697.8 L1311.0 3697.8 L1312.4 3697.8 L1313.9 3697.8 L1315.3 3697.7 L1316.8 3697.7 L1318.3 3697.7 L1319.7 3697.3 L1321.2 3697.3 L1322.6 3697.3 L1324.1 3697.3 L1325.6 3697.7 L1327.0 3697.7 L1328.5 3697.7 L1329.9 3697.7 L1331.4 3697.7 L1332.8 3697.7 L1334.3 3697.7 L1335.8 3697.7 L1337.2 3697.6 L1338.7 3697.6 L1340.1 3697.6 L1341.6 3697.6 L1343.0 3697.6 L1344.5 3697.6 L1346.0 3697.6 L1347.4 3697.6 L1348.9 3697.5 L1350.3 3697.5 L1351.8 3697.5 L1353.3 3697.5 L1354.7 3697.5 L1356.2 3697.4 L1357.6 3697.4 L1359.1 3697.4 L1360.5 3697.4 L1362.0 3697.3 L1363.5 3697.3 L1364.9 3697.3 L1366.4 3697.2 L1367.8 3697.2 L1369.3 3697.9 L1370.7 3697.9 L1372.2 3697.8 L1373.7 3697.7 L1375.1 3697.3 L1376.6 3697.2 L1378.0 3697.2 L1379.5 3697.1 L1381.0 3696.6 L1382.4 3696.4 L1383.9 3696.3 L1385.3 3696.2 L1386.8 3696.0 L1388.2 3695.8 L1389.7 3695.6 L1391.2 3695.4 L1392.6 3695.1 L1394.1 3694.7 L1395.5 3694.2 L1397.0 3693.6 L1398.5 3692.6 L1399.9 3691.3 L1401.4 3689.3 L1402.8 3686.5 L1404.3 3682.3 L1405.9 3676.0 L1407.3 3668.2 L1408.8 3658.5 L1410.3 3646.9 L1411.7 3634.3 L1413.2 3621.4 L1414.6 3610.0 L1416.1 3601.9 L1417.5 3599.0 L1419.0 3601.9 L1420.5 3610.0 L1421.9 3621.4 L1423.4 3634.2 L1424.8 3646.9 L1426.3 3658.4 L1427.8 3668.2 L1429.2 3676.0 L1430.5 3681.4 L1432.0 3685.8 L1433.4 3688.8 L1434.9 3691.0 L1436.4 3692.4 L1437.8 3693.4 L1439.3 3694.0 L1440.7 3694.6 L1442.2 3694.9 L1443.6 3695.2 L1445.1 3695.5 L1446.6 3695.7 L1448.0 3695.9 L1449.5 3696.5 L1450.9 3696.6 L1452.4 3696.8 L1453.9 3696.9 L1455.3 3696.5 L1456.8 3696.6 L1458.2 3696.7 L1459.7 3696.8 L1461.1 3696.8 L1462.6 3696.9 L1464.1 3696.9 L1465.5 3697.0 L1467.0 3697.0 L1468.4 3697.0 L1469.9 3697.1 L1471.4 3697.1 L1472.8 3697.1 L1474.3 3697.1 L1475.7 3697.1 L1477.2 3697.1 L1478.6 3697.1 L1480.1 3697.9 L1481.6 3697.9 L1483.0 3697.9 L1484.5 3697.9 L1485.9 3696.7 L1487.4 3696.6 L1488.8 3696.6 L1490.3 3696.5 L1491.8 3696.5 L1493.2 3696.8 L1494.7 3696.7 L1496.1 3696.6 L1497.6 3696.4 L1499.1 3696.1 L1500.5 3695.7 L1502.0 3695.2 L1503.4 3694.6 L1504.9 3693.7 L1506.8 3692.1 L1508.3 3690.7 L1509.8 3689.1 L1511.2 3687.3 L1512.7 3685.5 L1514.1 3684.0 L1515.6 3682.9 L1517.1 3682.5 L1518.5 3682.5 L1520.0 3682.5 L1521.4 3682.9 L1522.9 3684.0 L1524.3 3685.6 L1525.8 3687.4 L1527.3 3689.1 L1528.7 3690.8 L1530.2 3692.2 L1531.1 3693.0 L1532.6 3694.1 L1534.0 3694.9 L1535.5 3695.5 L1537.0 3696.0 L1538.4 3696.4 L1539.9 3696.6 L1541.3 3696.8 L1542.8 3697.0 L1544.3 3697.1 L1545.7 3697.2 L1547.2 3697.2 L1548.6 3697.3 L1550.1 3697.3 L1551.5 3697.4 L1553.0 3697.4 L1554.5 3697.5 L1555.9 3697.5 L1557.4 3697.5 L1558.8 3697.6 L1560.3 3697.6 L1561.7 3697.6 L1563.2 3697.6 L1564.7 3697.6 L1566.0 3697.7" fill="none" stroke="#FA50B4" stroke-width="13.5" stroke-linejoin="bevel" />
<path id="c9" d="M95.0 3475.7 L96.5 3475.7 L97.9 3474.9 L99.4 3474.9 L100.8 3474.9 L102.3 3474.9 L103.7 3474.9 L105.2 3474.9 L106.7 3474.9 L108.1 3474.9 L109.6 3474.9 L111.0 3474.9 L112.5 3474.9 L114.0 3474.9 L115.4 3474.9 L116.9 3474.9 L118.3 3474.9 L119.8 3474.9 L121.2 3474.9 L122.7 3475.3 L124.2 3475.3 L125.6 3475.3 L127.1 3475.3 L128.5 3475.3 L130.0 3474.9 L131.4 3474.9 L132.9 3474.9 L134.4 3474.9 L135.8 3474.9 L137.3 3474.9 L138.7 3474.9 L140.2 3474.9 L141.7 3474.9 L143.1 3474.9 L144.6 3474.9 L146.0 3474.9 L147.5 3475.3 L148.9 3475.3 L150.4 3475.3 L151.9 3475.3 L153.3 3475.3 L154.8 3474.9 L156.2 3474.9 L157.7 3474.9 L159.2 3474.9 L160.6 3474.9 L162.1 3474.9 L163.5 3474.9 L165.0 3474.9 L166.4 3474.9 L167.9 3474.9 L169.4 3474.9 L170.8 3474.9 L172.3 3474.9 L173.7 3474.9 L175.2 3474.9 L176.6 3474.9 L178.1 3474.9 L179.6 3474.9 L181.0 3474.9 L182.5 3474.9 L183.9 3474.9 L185.4 3474.9 L186.9 3474.9 L188.3 3474.9 L189.8 3474.9 L191.2 3474.8 L192.7 3474.8 L194.1 3474.8 L195.6 3474.8 L197.1 3474.8 L198.5 3474.8 L200.0 3474.8 L201.4 3474.8 L202.9 3474.8 L204.3 3474.4 L205.8 3474.4 L207.3 3474.4 L208.7 3474.4 L210.2 3474.8 L211.6 3474.8 L213.1 3474.8 L214.6 3474.8 L216.0 3474.8 L217.5 3474.8 L218.9 3474.8 L220.4 3474.8 L221.8 3474.8 L223.3 3474.8 L224.8 3474.8 L226.2 3474.8 L227.7 3474.8 L229.1 3474.8 L230.6 3474.8 L232.1 3474.8 L233.5 3474.8 L235.0 3474.8 L236.4 3474.8 L237.9 3474.8 L239.3 3474.8 L240.8 3475.5 L242.3 3475.5 L243.7 3475.5 L245.2 3475.5 L246.6 3474.7 L248.1 3474.7 L249.5 3474.7 L251.0 3474.7 L252.5 3474.7 L253.9 3474.7 L255.4 3474.7 L256.8 3474.7 L258.3 3474.7 L259.8 3474.7 L261.2 3474.7 L262.7 3474.7 L264.1 3474.7 L265.6 3474.7 L267.0 3474.7 L268.5 3474.7 L270.0 3474.7 L271.4 3474.7 L272.9 3474.6 L274.3 3474.6 L275.8 3474.6 L277.2 3474.6 L278.7 3474.6 L280.2 3474.6 L281.6 3474.6 L283.1 3474.6 L284.5 3474.6 L286.0 3474.6 L287.5 3474.6 L288.9 3474.6 L290.4 3475.3 L291.8 3475.3 L293.3 3475.3 L294.7 3475.3 L296.2 3474.9 L297.7 3474.9 L299.1 3474.9 L300.6 3474.9 L302.0 3474.9 L303.5 3474.4 L305.0 3474.4 L306.4 3474.4 L307.9 3474.4 L309.3 3474.8 L310.8 3474.8 L312.2 3474.8 L313.7 3474.7 L315.2 3473.9 L316.6 3473.9 L318.1 3473.8 L319.5 3473.8 L321.0 3474.2 L322.4 3474.2 L323.9 3474.2 L325.4 3474.1 L326.8 3474.1 L328.3 3474.1 L329.7 3474.0 L331.2 3474.0 L332.7 3474.0 L334.1 3473.9 L335.6 3473.9 L337.0 3473.9 L338.5 3473.8 L339.9 3473.8 L341.4 3473.7 L342.9 3473.7 L344.3 3473.6 L345.8 3473.6 L347.2 3473.5 L348.7 3473.4 L350.1 3473.4 L351.6 3473.3 L353.1 3473.2 L354.5 3473.1 L356.0 3473.0 L357.4 3472.9 L358.9 3472.8 L360.4 3472.7 L361.8 3472.6 L363.3 3472.4 L364.7 3472.3 L366.2 3472.1 L367.6 3471.9 L369.1 3471.7 L370.6 3471.5 L372.0 3471.3 L373.5 3471.0 L374.9 3470.7 L376.4 3470.4 L377.9 3470.0 L379.3 3469.6 L380.8 3469.1 L382.2 3468.6 L383.7 3468.0 L385.1 3467.3 L386.6 3466.5 L388.1 3465.5 L389.5 3464.4 L391.0 3463.1 L392.4 3461.5 L393.9 3459.6 L395.3 3457.2 L396.8 3454.3 L398.3 3450.5 L399.7 3445.7 L401.2 3439.4 L402.4 3432.2 L403.9 3420.6 L405.3 3403.5 L406.8 3377.5 L408.2 3337.5 L409.7 3277.6 L411.2 3195.0 L412.6 3105.4 L414.1 3062.0 L415.5 3105.4 L417.0 3195.0 L418.5 3277.6 L419.9 3337.5 L421.4 3377.5 L422.8 3403.5 L424.3 3420.6 L425.7 3432.2 L427.4 3441.5 L428.9 3447.3 L430.3 3451.8 L431.8 3455.2 L433.3 3458.0 L434.7 3460.2 L436.2 3462.0 L437.6 3463.5 L439.1 3464.7 L440.5 3465.8 L442.0 3466.7 L443.5 3467.5 L444.9 3468.1 L446.4 3468.7 L447.8 3469.7 L449.3 3470.1 L450.8 3470.5 L452.2 3471.2 L453.7 3471.5 L455.1 3471.8 L456.6 3472.1 L458.0 3471.5 L459.5 3471.7 L461.0 3471.9 L462.4 3472.1 L463.9 3472.2 L465.3 3472.4 L466.8 3472.5 L468.2 3472.6 L469.7 3472.7 L471.2 3472.8 L472.6 3472.9 L474.1 3473.0 L475.5 3473.1 L477.0 3473.2 L478.5 3473.2 L479.9 3473.3 L481.4 3473.3 L482.8 3473.4 L484.3 3473.5 L485.7 3473.5 L487.2 3473.5 L488.7 3473.6 L490.1 3473.6 L491.6 3473.7 L493.0 3473.7 L494.5 3473.7 L495.9 3473.7 L497.4 3473.8 L498.9 3473.8 L500.3 3473.8 L501.8 3473.8 L503.2 3473.8 L504.7 3473.8 L506.2 3473.9 L507.6 3473.9 L509.1 3473.9 L510.5 3473.9 L512.0 3473.9 L513.4 3474.7 L514.9 3474.7 L516.4 3474.7 L517.8 3474.6 L519.3 3474.3 L520.7 3474.3 L522.2 3474.3 L523.7 3474.2 L525.1 3474.2 L526.6 3473.8 L528.0 3473.7 L529.5 3473.7 L530.9 3473.7 L532.4 3473.6 L533.9 3473.6 L535.3 3473.5 L536.8 3473.5 L538.2 3473.4 L539.7 3473.3 L541.1 3473.2 L542.6 3473.1 L544.1 3473.4 L545.5 3473.3 L547.0 3473.2 L548.4 3473.0 L549.9 3472.8 L551.4 3472.9 L552.8 3472.6 L554.3 3472.3 L555.7 3471.9 L557.2 3470.6 L558.6 3470.1 L560.1 3469.3 L561.6 3468.4 L563.0 3467.3 L564.5 3465.8 L565.9 3463.8 L566.8 3462.3 L568.3 3459.0 L569.7 3454.0 L571.2 3446.5 L572.6 3434.9 L574.1 3417.5 L575.6 3393.5 L577.0 3367.6 L578.5 3355.0 L579.9 3367.6 L581.4 3393.6 L582.8 3417.5 L584.3 3434.9 L585.8 3446.5 L587.2 3454.1 L588.7 3459.0 L590.1 3462.4 L592.2 3465.6 L593.6 3467.1 L595.1 3468.3 L596.6 3469.3 L598.0 3470.0 L599.5 3470.7 L600.9 3471.2 L602.4 3471.6 L603.8 3471.9 L605.3 3472.2 L606.8 3472.5 L608.2 3472.7 L609.7 3472.9 L611.1 3473.1 L612.6 3473.2 L614.0 3473.3 L615.5 3473.5 L617.0 3473.6 L618.4 3473.6 L619.9 3473.7 L621.3 3473.8 L622.8 3473.9 L624.3 3473.9 L625.7 3474.0 L627.2 3474.0 L628.6 3474.1 L630.1 3474.1 L631.5 3474.6 L633.0 3474.6 L634.5 3474.7 L635.9 3474.7 L637.4 3475.1 L638.8 3475.1 L640.3 3475.1 L641.7 3475.2 L643.2 3474.4 L644.7 3474.4 L646.1 3474.4 L647.6 3474.5 L649.0 3474.5 L650.5 3474.5 L652.0 3474.5 L653.4 3474.5 L654.9 3474.5 L656.3 3474.5 L657.8 3474.6 L659.2 3474.6 L660.7 3474.6 L662.2 3475.0 L663.6 3475.0 L665.1 3475.0 L666.5 3475.0 L668.0 3474.6 L669.5 3474.6 L670.9 3474.7 L672.4 3474.7 L673.8 3474.7 L675.3 3474.7 L676.7 3474.7 L678.2 3474.7 L679.7 3474.7 L681.1 3475.5 L682.6 3475.5 L684.0 3475.5 L685.5 3475.5 L686.9 3474.3 L688.4 3474.3 L689.9 3474.3 L691.3 3474.3 L692.8 3474.7 L694.2 3474.7 L695.7 3474.7 L697.2 3474.8 L698.6 3474.8 L700.1 3474.8 L701.5 3474.8 L703.0 3474.8 L704.4 3474.8 L705.9 3474.8 L707.4 3474.8 L708.8 3474.8 L710.3 3474.8 L711.7 3474.4 L713.2 3474.4 L714.6 3474.4 L716.1 3474.4 L717.6 3474.8 L719.0 3474.8 L720.5 3474.8 L721.9 3474.8 L723.4 3474.8 L724.9 3474.8 L726.3 3474.8 L727.8 3474.8 L729.2 3474.8 L730.7 3474.8 L732.1 3474.8 L733.6 3474.8 L735.1 3474.8 L736.5 3474.8 L738.0 3474.8 L739.4 3474.8 L740.9 3474.8 L742.4 3475.2 L743.8 3475.2 L745.3 3475.3 L746.7 3475.3 L748.2 3475.3 L749.6 3474.8 L751.1 3474.8 L752.6 3474.8 L754.0 3474.8 L755.5 3474.8 L756.9 3474.8 L758.4 3474.8 L759.8 3474.8 L761.3 3474.8 L762.8 3474.8 L764.2 3474.8 L765.7 3474.8 L767.1 3474.8 L768.6 3474.8 L770.1 3474.8 L771.5 3474.9 L773.0 3474.9 L774.4 3474.9 L775.9 3474.9 L777.3 3474.9 L778.8 3474.9 L780.3 3474.9 L781.7 3474.9 L783.2 3474.9 L784.6 3474.9 L786.1 3474.9 L787.5 3474.9 L789.0 3474.9 L790.5 3474.9 L791.9 3474.9 L793.4 3474.9 L794.8 3474.9 L796.3 3474.9 L797.8 3474.9 L799.2 3474.9 L800.7 3474.9 L802.1 3474.9 L803.6 3474.9 L805.0 3475.3 L806.5 3475.3 L808.0 3475.3 L809.4 3475.3 L810.9 3475.6 L812.3 3475.6 L813.8 3475.6 L815.3 3475.6 L816.7 3475.3 L818.2 3475.3 L819.6 3475.3 L821.1 3475.3 L822.5 3475.3 L824.0 3474.9 L825.5 3474.9 L826.9 3474.9 L828.4 3474.9 L829.8 3474.9 L831.3 3474.9 L832.7 3474.9 L834.2 3474.9 L835.7 3474.9 L837.1 3474.9 L838.6 3474.9 L840.0 3474.9 L841.5 3474.9 L843.0 3474.9 L844.4 3474.9 L845.9 3474.9 L847.3 3474.9 L848.8 3474.9 L850.2 3474.9 L851.7 3474.9 L853.2 3474.9 L854.6 3474.9 L856.1 3474.9 L857.5 3474.9 L859.0 3474.9 L860.4 3474.9 L861.9 3474.9 L863.4 3474.9 L864.8 3474.9 L866.3 3474.9 L867.7 3474.9 L869.2 3474.9 L870.7 3474.9 L872.1 3474.9 L873.6 3475.3 L875.0 3475.3 L876.5 3475.3 L877.9 3475.3 L879.4 3474.9 L880.9 3474.9 L882.3 3474.8 L883.8 3474.8 L885.2 3474.8 L886.7 3474.8 L888.2 3474.8 L889.6 3474.8 L891.1 3475.6 L892.5 3475.6 L894.0 3475.6 L895.4 3475.6 L896.9 3475.6 L898.4 3474.8 L899.8 3474.8 L901.3 3474.8 L902.7 3474.8 L904.2 3474.8 L905.6 3474.8 L907.1 3474.8 L908.6 3474.8 L910.0 3475.6 L911.5 3475.6 L912.9 3475.6 L914.4 3475.6 L915.9 3475.2 L917.3 3475.2 L918.8 3475.2 L920.2 3475.2 L921.7 3475.2 L923.1 3474.8 L924.6 3474.8 L926.1 3474.8 L927.5 3474.8 L929.0 3474.8 L930.4 3474.8 L931.9 3474.8 L933.3 3474.8 L934.8 3474.8 L936.3 3474.8 L937.7 3474.8 L939.2 3474.8 L940.6 3474.8 L942.1 3474.8 L943.6 3474.8 L945.0 3474.8 L946.5 3474.8 L947.9 3474.8 L949.4 3474.8 L950.8 3474.8 L952.3 3474.8 L953.8 3474.8 L955.2 3474.8 L956.7 3474.7 L958.1 3474.7 L959.6 3475.2 L961.1 3475.2 L962.5 3475.2 L964.0 3475.1 L965.4 3475.5 L966.9 3475.5 L968.3 3475.5 L969.8 3475.5 L971.3 3475.5 L972.7 3474.7 L974.2 3474.7 L975.6 3474.7 L977.1 3474.7 L978.5 3474.7 L980.0 3474.7 L981.5 3474.7 L982.9 3474.7 L984.4 3474.6 L985.8 3474.6 L987.3 3474.6 L988.8 3474.6 L990.2 3474.6 L991.7 3474.6 L993.1 3474.6 L994.6 3474.6 L996.0 3474.6 L997.5 3474.6 L999.0 3474.6 L1000.4 3474.6 L1001.9 3474.5 L1003.3 3474.5 L1004.8 3474.5 L1006.2 3474.5 L1007.7 3474.5 L1009.2 3474.5 L1010.6 3474.5 L1012.1 3474.4 L1013.5 3474.4 L1015.0 3474.4 L1016.5 3474.4 L1017.9 3474.4 L1019.4 3474.4 L1020.8 3474.3 L1022.3 3474.7 L1023.7 3474.7 L1025.2 3474.7 L1026.7 3474.7 L1028.1 3474.2 L1029.6 3474.2 L1031.0 3474.1 L1032.5 3474.1 L1034.0 3474.5 L1035.4 3474.5 L1036.9 3474.4 L1038.3 3474.4 L1039.8 3473.9 L1041.2 3473.9 L1042.7 3473.8 L1044.2 3473.8 L1045.6 3473.7 L1047.1 3474.4 L1048.5 3474.3 L1050.0 3474.3 L1051.4 3474.2 L1052.9 3473.7 L1054.4 3473.6 L1055.8 3473.5 L1057.3 3473.4 L1058.7 3472.9 L1060.2 3472.8 L1061.7 3472.6 L1063.1 3472.4 L1064.6 3472.2 L1066.0 3472.0 L1067.5 3471.8 L1068.9 3471.6 L1070.4 3471.3 L1071.9 3471.3 L1073.3 3471.0 L1074.8 3470.5 L1076.2 3470.0 L1077.7 3469.0 L1079.1 3468.4 L1080.6 3467.6 L1082.1 3466.6 L1083.5 3465.5 L1085.0 3464.1 L1086.4 3462.4 L1087.9 3460.1 L1089.4 3457.1 L1090.8 3452.9 L1092.4 3446.2 L1093.9 3437.3 L1095.3 3424.6 L1096.8 3407.1 L1098.2 3384.5 L1099.7 3357.1 L1101.2 3328.0 L1102.6 3303.8 L1104.1 3294.0 L1105.5 3303.8 L1107.0 3328.0 L1108.4 3357.1 L1109.9 3384.5 L1111.4 3407.1 L1112.8 3424.6 L1114.3 3437.3 L1115.7 3446.2 L1117.1 3451.9 L1118.5 3456.4 L1120.0 3459.6 L1121.4 3462.0 L1122.9 3463.8 L1124.3 3465.2 L1125.8 3466.4 L1127.3 3467.4 L1128.7 3468.2 L1130.2 3468.9 L1131.6 3469.9 L1133.1 3470.4 L1134.6 3470.9 L1136.0 3471.3 L1137.5 3471.6 L1138.9 3471.5 L1140.4 3471.8 L1141.8 3472.0 L1143.3 3472.2 L1144.8 3472.4 L1146.2 3473.0 L1147.7 3473.1 L1149.1 3473.3 L1150.6 3473.4 L1152.0 3473.1 L1153.5 3473.2 L1155.0 3473.3 L1156.4 3473.4 L1157.9 3474.2 L1159.3 3474.3 L1160.8 3474.4 L1162.3 3474.5 L1163.7 3473.7 L1165.2 3473.8 L1166.6 3473.8 L1168.1 3473.9 L1169.5 3473.9 L1171.0 3474.0 L1172.5 3474.0 L1173.9 3474.1 L1175.4 3474.1 L1176.8 3474.1 L1178.3 3474.1 L1179.8 3474.2 L1181.2 3474.2 L1182.7 3474.2 L1184.1 3474.3 L1185.6 3474.3 L1187.0 3474.3 L1188.5 3474.3 L1190.0 3474.3 L1191.4 3474.4 L1192.9 3474.4 L1194.3 3474.4 L1195.8 3474.4 L1197.2 3474.4 L1198.7 3474.4 L1200.2 3474.5 L1201.6 3474.5 L1203.1 3474.5 L1204.5 3474.5 L1206.0 3474.5 L1207.5 3474.5 L1208.9 3474.5 L1210.4 3474.5 L1211.8 3474.5 L1213.3 3474.5 L1214.7 3474.6 L1216.2 3474.6 L1217.7 3474.6 L1219.1 3474.6 L1220.6 3474.6 L1222.0 3474.6 L1223.5 3474.6 L1224.9 3474.6 L1226.4 3474.6 L1227.9 3474.6 L1229.3 3474.6 L1230.8 3474.6 L1232.2 3474.6 L1233.7 3474.6 L1235.2 3474.6 L1236.6 3474.6 L1238.1 3474.6 L1239.5 3474.7 L1241.0 3474.7 L1242.4 3474.7 L1243.9 3474.7 L1245.4 3474.7 L1246.8 3474.7 L1248.3 3474.7 L1249.7 3474.7 L1251.2 3474.7 L1252.7 3474.7 L1254.1 3474.7 L1255.6 3474.7 L1257.0 3475.5 L1258.5 3475.5 L1259.9 3475.5 L1261.4 3475.5 L1262.9 3475.5 L1264.3 3475.5 L1265.8 3475.5 L1267.2 3475.5 L1268.7 3475.5 L1270.1 3474.7 L1271.6 3474.7 L1273.1 3474.7 L1274.5 3474.7 L1276.0 3474.7 L1277.4 3474.7 L1278.9 3474.7 L1280.4 3474.7 L1281.8 3474.7 L1283.3 3474.7 L1284.7 3474.7 L1286.2 3474.7 L1287.6 3474.7 L1289.1 3474.7 L1290.6 3474.7 L1292.0 3474.7 L1293.5 3474.7 L1294.9 3474.7 L1296.4 3474.7 L1297.8 3474.7 L1299.3 3474.7 L1300.8 3474.7 L1302.2 3474.7 L1303.7 3474.6 L1305.1 3474.6 L1306.6 3475.1 L1308.1 3475.1 L1309.5 3475.1 L1311.0 3475.0 L1312.4 3474.6 L1313.9 3474.6 L1315.3 3474.6 L1316.8 3474.6 L1318.3 3474.6 L1319.7 3474.6 L1321.2 3474.6 L1322.6 3474.6 L1324.1 3474.6 L1325.6 3474.6 L1327.0 3474.6 L1328.5 3474.5 L1329.9 3474.5 L1331.4 3474.5 L1332.8 3474.5 L1334.3 3474.5 L1335.8 3474.5 L1337.2 3474.5 L1338.7 3474.5 L1340.1 3474.5 L1341.6 3474.4 L1343.0 3474.4 L1344.5 3474.8 L1346.0 3474.8 L1347.4 3474.8 L1348.9 3474.8 L1350.3 3474.3 L1351.8 3474.3 L1353.3 3474.3 L1354.7 3474.3 L1356.2 3474.2 L1357.6 3474.2 L1359.1 3474.2 L1360.5 3474.1 L1362.0 3474.5 L1363.5 3474.5 L1364.9 3474.5 L1366.4 3474.4 L1367.8 3474.4 L1369.3 3473.9 L1370.7 3473.8 L1372.2 3473.8 L1373.7 3473.7 L1375.1 3473.7 L1376.6 3473.6 L1378.0 3473.5 L1379.5 3473.4 L1381.0 3473.3 L1382.4 3473.2 L1383.9 3473.1 L1385.3 3473.0 L1386.8 3472.8 L1388.2 3472.6 L1389.7 3472.5 L1391.2 3472.3 L1392.6 3472.0 L1394.1 3471.8 L1395.5 3471.5 L1397.0 3471.1 L1398.5 3470.7 L1399.9 3470.3 L1401.4 3469.8 L1402.8 3469.1 L1404.3 3468.4 L1405.7 3467.5 L1407.2 3466.4 L1408.7 3464.9 L1410.1 3463.1 L1411.6 3460.6 L1413.0 3457.1 L1414.3 3452.9 L1415.7 3446.2 L1417.2 3436.7 L1418.6 3424.0 L1420.1 3407.7 L1421.6 3388.4 L1423.0 3368.2 L1424.5 3351.6 L1425.9 3345.0 L1427.4 3351.6 L1428.8 3368.2 L1430.3 3388.4 L1431.8 3407.7 L1433.2 3424.0 L1434.7 3436.7 L1436.1 3446.2 L1437.6 3452.9 L1439.3 3458.3 L1440.7 3461.4 L1442.2 3463.7 L1443.6 3465.4 L1445.1 3466.7 L1446.6 3467.7 L1448.0 3468.6 L1449.5 3469.7 L1450.9 3470.3 L1452.4 3470.8 L1453.9 3471.2 L1455.3 3471.2 L1456.8 3471.5 L1458.2 3471.8 L1459.7 3472.0 L1461.1 3472.2 L1462.6 3472.4 L1464.1 3472.6 L1465.5 3472.8 L1467.0 3472.9 L1468.4 3473.0 L1469.9 3473.1 L1471.4 3473.2 L1472.8 3473.3 L1474.3 3474.1 L1475.7 3474.2 L1477.2 3474.3 L1478.6 3474.3 L1480.1 3473.6 L1481.6 3473.6 L1483.0 3473.7 L1484.5 3473.7 L1485.9 3473.7 L1487.4 3473.7 L1488.8 3473.7 L1490.3 3473.7 L1491.8 3473.7 L1493.2 3473.7 L1494.7 3473.7 L1496.1 3473.7 L1497.6 3473.7 L1499.1 3474.4 L1500.5 3474.3 L1502.0 3474.2 L1503.4 3474.1 L1504.9 3472.8 L1506.3 3472.6 L1507.8 3472.3 L1509.3 3471.8 L1510.7 3471.6 L1512.2 3470.8 L1513.6 3469.7 L1515.2 3468.1 L1516.7 3466.3 L1518.1 3464.2 L1519.6 3461.9 L1521.1 3459.6 L1522.5 3457.6 L1524.0 3456.3 L1525.4 3456.0 L1526.9 3456.0 L1528.4 3456.0 L1529.8 3456.3 L1531.3 3457.7 L1532.7 3459.7 L1534.2 3462.0 L1535.6 3464.3 L1537.1 3466.4 L1538.6 3468.2 L1539.9 3469.2 L1541.3 3470.4 L1542.8 3472.1 L1544.3 3472.8 L1545.7 3473.3 L1547.2 3473.6 L1548.6 3473.0 L1550.1 3473.2 L1551.5 3473.4 L1553.0 3473.5 L1554.5 3474.0 L1555.9 3474.1 L1557.4 3474.2 L1558.8 3474.2 L1560.3 3474.3 L1561.7 3474.3 L1563.2 3474.4 L1564.7 3474.4 L1566.0 3474.4" fill="none" stroke="#0000D2" stroke-width="12" stroke-linejoin="bevel" />
<path id="c10" d="M93.0 3061.4 L94.5 3061.4 L95.9 3061.4 L97.4 3061.4 L98.8 3061.7 L100.3 3061.7 L101.7 3061.7 L103.2 3061.7 L104.7 3061.7 L106.1 3061.7 L107.6 3061.7 L109.0 3061.7 L110.5 3061.7 L112.0 3061.7 L113.4 3061.7 L114.9 3061.7 L116.3 3061.7 L117.8 3061.7 L119.2 3061.7 L120.7 3061.7 L122.2 3061.7 L123.6 3061.7 L125.1 3061.7 L126.5 3061.7 L128.0 3061.7 L129.4 3062.2 L130.9 3062.2 L132.4 3062.2 L133.8 3062.2 L135.3 3061.7 L136.7 3061.7 L138.2 3061.7 L139.7 3061.7 L141.1 3061.7 L142.6 3061.7 L144.0 3061.7 L145.5 3061.7 L146.9 3061.7 L148.4 3061.7 L149.9 3061.7 L151.3 3061.7 L152.8 3061.7 L154.2 3061.7 L155.7 3061.7 L157.2 3061.7 L158.6 3061.7 L160.1 3061.4 L161.5 3061.4 L163.0 3061.4 L164.4 3061.4 L165.9 3061.7 L167.4 3061.7 L168.8 3061.7 L170.3 3061.7 L171.7 3061.7 L173.2 3061.7 L174.6 3061.7 L176.1 3061.7 L177.6 3061.7 L179.0 3061.7 L180.5 3061.7 L181.9 3061.7 L183.4 3061.7 L184.9 3061.6 L186.3 3061.6 L187.8 3061.6 L189.2 3061.6 L190.7 3061.6 L192.1 3061.6 L193.6 3061.6 L195.1 3061.6 L196.5 3061.6 L198.0 3061.6 L199.4 3061.6 L200.9 3061.6 L202.3 3061.6 L203.8 3061.6 L205.3 3061.6 L206.7 3061.6 L208.2 3061.6 L209.6 3061.6 L211.1 3061.6 L212.6 3061.6 L214.0 3061.6 L215.5 3061.3 L216.9 3061.3 L218.4 3061.3 L219.8 3061.3 L221.3 3061.3 L222.8 3061.6 L224.2 3061.6 L225.7 3061.6 L227.1 3061.6 L228.6 3061.6 L230.1 3061.6 L231.5 3061.6 L233.0 3061.6 L234.4 3061.3 L235.9 3061.3 L237.3 3061.3 L238.8 3061.3 L240.3 3061.5 L241.7 3061.5 L243.2 3061.5 L244.6 3061.5 L246.1 3061.5 L247.5 3061.5 L249.0 3061.5 L250.5 3061.5 L251.9 3061.5 L253.4 3061.5 L254.8 3061.5 L256.3 3061.5 L257.8 3061.5 L259.2 3061.8 L260.7 3061.8 L262.1 3061.8 L263.6 3061.7 L265.0 3061.5 L266.5 3061.5 L268.0 3061.4 L269.4 3061.4 L270.9 3061.4 L272.3 3061.4 L273.8 3061.4 L275.2 3061.4 L276.7 3061.4 L278.2 3061.4 L279.6 3061.4 L281.1 3061.4 L282.5 3061.4 L284.0 3061.4 L285.5 3061.3 L286.9 3061.3 L288.4 3061.3 L289.8 3061.3 L291.3 3061.3 L292.7 3061.3 L294.2 3061.3 L295.7 3061.3 L297.1 3061.8 L298.6 3061.8 L300.0 3061.8 L301.5 3061.7 L303.0 3061.2 L304.4 3061.2 L305.9 3061.2 L307.3 3061.2 L308.8 3061.1 L310.2 3061.1 L311.7 3061.1 L313.2 3061.1 L314.6 3061.1 L316.1 3061.0 L317.5 3061.0 L319.0 3061.0 L320.4 3061.0 L321.9 3060.9 L323.4 3060.9 L324.8 3060.9 L326.3 3060.9 L327.7 3060.8 L329.2 3060.8 L330.7 3060.8 L332.1 3060.7 L333.6 3060.7 L335.0 3060.6 L336.5 3060.6 L337.9 3060.6 L339.4 3060.5 L340.9 3060.5 L342.3 3060.4 L343.8 3060.3 L345.2 3060.3 L346.7 3060.2 L348.1 3060.2 L349.6 3060.1 L351.1 3060.0 L352.5 3059.6 L354.0 3059.6 L355.4 3059.5 L356.9 3059.4 L358.4 3059.8 L359.8 3059.7 L361.3 3059.6 L362.7 3059.4 L364.2 3059.0 L365.6 3058.8 L367.1 3058.6 L368.6 3058.4 L370.0 3058.2 L371.5 3058.2 L372.9 3058.0 L374.4 3057.7 L375.9 3057.3 L377.3 3057.2 L378.8 3056.8 L380.2 3056.3 L381.7 3055.3 L383.1 3054.7 L384.6 3054.0 L386.1 3053.2 L387.5 3052.3 L389.0 3051.2 L390.4 3049.9 L391.9 3048.4 L393.3 3046.6 L394.8 3044.3 L396.3 3041.6 L397.7 3038.1 L399.2 3033.7 L400.6 3027.9 L402.2 3019.4 L403.7 3008.3 L405.1 2992.3 L406.6 2968.2 L408.1 2929.5 L409.5 2863.9 L411.0 2750.0 L412.4 2578.5 L413.9 2467.5 L415.4 2577.6 L416.8 2748.4 L418.3 2861.9 L419.7 2927.2 L421.2 2965.9 L422.6 2990.3 L424.1 3006.4 L425.6 3017.7 L426.9 3025.2 L428.3 3031.5 L429.8 3036.3 L431.3 3040.1 L432.7 3043.1 L434.2 3045.5 L435.6 3047.5 L437.1 3049.1 L438.5 3050.5 L440.0 3051.7 L441.5 3052.7 L442.9 3053.5 L444.4 3054.3 L445.8 3054.9 L447.3 3055.5 L448.8 3056.0 L450.2 3056.4 L451.7 3056.8 L453.1 3057.1 L454.6 3057.4 L456.0 3057.7 L457.5 3058.0 L459.0 3058.2 L460.4 3058.4 L461.9 3058.6 L463.3 3059.3 L464.8 3059.4 L466.2 3059.6 L467.7 3059.7 L469.2 3059.8 L470.6 3059.4 L472.1 3059.5 L473.5 3059.6 L475.0 3059.7 L476.5 3059.5 L477.9 3059.6 L479.4 3059.7 L480.8 3059.7 L482.3 3060.1 L483.7 3060.1 L485.2 3060.2 L486.7 3060.2 L488.1 3060.3 L489.6 3060.3 L491.0 3060.3 L492.5 3060.4 L493.9 3060.4 L495.4 3060.4 L496.9 3060.5 L498.3 3060.5 L499.8 3060.5 L501.2 3060.5 L502.7 3060.5 L504.2 3060.6 L505.6 3060.6 L507.1 3060.9 L508.5 3060.9 L510.0 3060.9 L511.4 3060.9 L512.9 3060.6 L514.4 3060.6 L515.8 3060.6 L517.3 3060.6 L518.7 3060.6 L520.2 3060.6 L521.7 3060.6 L523.1 3060.5 L524.6 3060.5 L526.0 3060.5 L527.5 3060.5 L528.9 3060.4 L530.4 3060.4 L531.9 3060.4 L533.3 3060.3 L534.8 3060.3 L536.2 3060.2 L537.7 3060.4 L539.1 3060.3 L540.6 3060.2 L542.1 3060.1 L543.5 3060.0 L545.0 3059.3 L546.4 3059.2 L547.9 3059.0 L549.4 3058.8 L550.8 3058.8 L552.3 3058.5 L553.7 3058.2 L555.2 3057.8 L556.6 3057.3 L558.1 3056.7 L559.6 3056.0 L561.0 3055.1 L562.5 3054.0 L563.9 3052.5 L565.4 3050.5 L566.8 3048.0 L568.3 3044.3 L569.7 3038.7 L571.2 3030.1 L572.6 3016.0 L574.1 2993.1 L575.6 2958.2 L577.0 2915.7 L578.5 2893.0 L579.9 2915.7 L581.4 2958.2 L582.8 2993.2 L584.3 3016.1 L585.8 3030.2 L587.2 3038.8 L588.7 3044.3 L590.1 3048.1 L591.6 3050.8 L593.1 3052.7 L594.6 3054.2 L596.0 3055.3 L597.5 3056.2 L598.9 3056.9 L600.4 3057.5 L601.8 3058.0 L603.3 3058.4 L604.8 3058.7 L606.2 3059.5 L607.7 3059.8 L609.1 3060.0 L610.6 3060.2 L612.0 3059.8 L613.5 3060.0 L615.0 3060.1 L616.4 3060.2 L617.9 3060.3 L619.3 3060.4 L620.8 3060.5 L622.3 3060.6 L623.7 3060.6 L625.2 3060.7 L626.6 3060.8 L628.1 3060.8 L629.5 3060.9 L631.0 3061.4 L632.5 3061.5 L633.9 3061.5 L635.4 3061.5 L636.8 3061.1 L638.3 3061.1 L639.7 3061.1 L641.2 3061.1 L642.7 3061.2 L644.1 3061.2 L645.6 3061.2 L647.0 3061.2 L648.5 3061.2 L650.0 3061.3 L651.4 3061.3 L652.9 3061.3 L654.3 3061.3 L655.8 3061.6 L657.2 3061.6 L658.7 3061.6 L660.2 3061.6 L661.6 3061.9 L663.1 3061.9 L664.5 3061.9 L666.0 3061.9 L667.5 3061.9 L668.9 3061.4 L670.4 3061.4 L671.8 3061.4 L673.3 3061.5 L674.7 3061.5 L676.2 3061.5 L677.7 3061.5 L679.1 3061.5 L680.6 3061.8 L682.0 3061.8 L683.5 3061.8 L684.9 3061.8 L686.4 3061.5 L687.9 3061.5 L689.3 3061.5 L690.8 3061.5 L692.2 3061.5 L693.7 3061.8 L695.2 3061.8 L696.6 3061.8 L698.1 3061.8 L699.5 3061.6 L701.0 3061.6 L702.4 3061.6 L703.9 3061.6 L705.4 3061.3 L706.8 3061.3 L708.3 3061.3 L709.7 3061.3 L711.2 3061.3 L712.6 3061.3 L714.1 3061.3 L715.6 3061.3 L717.0 3061.3 L718.5 3061.6 L719.9 3061.6 L721.4 3061.6 L722.9 3061.6 L724.3 3061.6 L725.8 3061.6 L727.2 3061.6 L728.7 3061.6 L730.1 3061.6 L731.6 3061.6 L733.1 3061.6 L734.5 3061.6 L736.0 3061.6 L737.4 3061.6 L738.9 3061.6 L740.4 3061.6 L741.8 3061.6 L743.3 3061.6 L744.7 3061.6 L746.2 3061.6 L747.6 3061.6 L749.1 3061.6 L750.6 3061.6 L752.0 3061.6 L753.5 3061.6 L754.9 3061.6 L756.4 3061.6 L757.8 3061.7 L759.3 3061.7 L760.8 3061.9 L762.2 3061.9 L763.7 3061.9 L765.1 3061.9 L766.6 3061.9 L768.1 3061.4 L769.5 3061.4 L771.0 3061.4 L772.4 3061.4 L773.9 3061.7 L775.3 3061.7 L776.8 3061.7 L778.3 3061.7 L779.7 3061.7 L781.2 3061.7 L782.6 3061.7 L784.1 3061.7 L785.5 3061.7 L787.0 3061.7 L788.5 3061.7 L789.9 3061.7 L791.4 3061.7 L792.8 3061.7 L794.3 3061.7 L795.8 3061.7 L797.2 3061.7 L798.7 3062.2 L800.1 3062.2 L801.6 3062.2 L803.0 3062.2 L804.5 3061.7 L806.0 3061.7 L807.4 3061.7 L808.9 3061.7 L810.3 3061.7 L811.8 3061.7 L813.3 3061.7 L814.7 3061.7 L816.2 3061.7 L817.6 3061.7 L819.1 3061.7 L820.5 3061.7 L822.0 3061.7 L823.5 3061.7 L824.9 3061.7 L826.4 3061.7 L827.8 3061.7 L829.3 3061.7 L830.7 3061.7 L832.2 3061.7 L833.7 3061.7 L835.1 3061.7 L836.6 3061.7 L838.0 3061.7 L839.5 3061.7 L841.0 3061.7 L842.4 3061.7 L843.9 3061.7 L845.3 3061.7 L846.8 3061.7 L848.2 3061.7 L849.7 3061.7 L851.2 3061.7 L852.6 3061.7 L854.1 3061.7 L855.5 3061.7 L857.0 3061.7 L858.4 3061.7 L859.9 3062.0 L861.4 3062.0 L862.8 3062.0 L864.3 3062.0 L865.7 3062.0 L867.2 3061.7 L868.7 3061.7 L870.1 3061.7 L871.6 3061.7 L873.0 3061.7 L874.5 3061.7 L875.9 3061.7 L877.4 3061.7 L878.9 3061.7 L880.3 3061.7 L881.8 3061.7 L883.2 3061.7 L884.7 3061.4 L886.2 3061.4 L887.6 3061.4 L889.1 3061.4 L890.5 3061.4 L892.0 3061.7 L893.4 3061.7 L894.9 3061.7 L896.4 3061.7 L897.8 3061.7 L899.3 3061.7 L900.7 3061.7 L902.2 3061.7 L903.6 3061.7 L905.1 3061.7 L906.6 3061.7 L908.0 3061.7 L909.5 3061.4 L910.9 3061.4 L912.4 3061.4 L913.9 3061.4 L915.3 3061.4 L916.8 3061.7 L918.2 3061.7 L919.7 3061.7 L921.1 3061.7 L922.6 3061.7 L924.1 3061.7 L925.5 3061.7 L927.0 3061.7 L928.4 3061.7 L929.9 3061.7 L931.3 3061.7 L932.8 3061.7 L934.3 3062.2 L935.7 3062.2 L937.2 3062.2 L938.6 3062.2 L940.1 3062.2 L941.6 3061.7 L943.0 3061.7 L944.5 3061.6 L945.9 3061.6 L947.4 3061.6 L948.8 3061.6 L950.3 3061.6 L951.8 3061.6 L953.2 3062.2 L954.7 3062.2 L956.1 3062.2 L957.6 3062.2 L959.1 3061.6 L960.5 3061.6 L962.0 3061.6 L963.4 3061.6 L964.9 3061.6 L966.3 3061.6 L967.8 3061.6 L969.3 3061.6 L970.7 3061.6 L972.2 3061.6 L973.6 3061.6 L975.1 3061.6 L976.5 3061.6 L978.0 3061.6 L979.5 3061.6 L980.9 3061.6 L982.4 3061.6 L983.8 3061.3 L985.3 3061.3 L986.8 3061.3 L988.2 3061.3 L989.7 3061.3 L991.1 3062.1 L992.6 3062.1 L994.0 3062.1 L995.5 3062.1 L997.0 3061.5 L998.4 3061.5 L999.9 3061.5 L1001.3 3061.5 L1002.8 3061.5 L1004.2 3061.5 L1005.7 3061.5 L1007.2 3061.5 L1008.6 3061.5 L1010.1 3061.5 L1011.5 3061.5 L1013.0 3061.4 L1014.5 3061.4 L1015.9 3061.4 L1017.4 3061.4 L1018.8 3061.4 L1020.3 3061.4 L1021.7 3061.4 L1023.2 3061.4 L1024.7 3061.3 L1026.1 3061.3 L1027.6 3061.3 L1029.0 3061.3 L1030.5 3061.3 L1032.0 3061.3 L1033.4 3061.2 L1034.9 3061.2 L1036.3 3061.2 L1037.8 3061.2 L1039.2 3061.1 L1040.7 3061.1 L1042.2 3061.1 L1043.6 3061.1 L1045.1 3061.0 L1046.5 3061.0 L1048.0 3060.9 L1049.4 3060.9 L1050.9 3060.9 L1052.4 3060.8 L1053.8 3060.7 L1055.3 3060.7 L1056.7 3060.6 L1058.2 3061.1 L1059.7 3061.0 L1061.1 3060.9 L1062.6 3060.8 L1064.0 3060.7 L1065.5 3060.1 L1066.9 3059.9 L1068.4 3059.8 L1069.9 3059.6 L1071.3 3059.4 L1072.8 3059.2 L1074.2 3058.9 L1075.7 3058.6 L1077.1 3058.3 L1078.6 3057.9 L1080.1 3057.4 L1081.5 3056.9 L1083.0 3056.2 L1084.4 3055.4 L1085.9 3054.4 L1087.4 3053.1 L1088.8 3051.5 L1090.3 3049.4 L1091.7 3046.4 L1092.4 3044.6 L1093.9 3039.0 L1095.3 3029.7 L1096.8 3013.4 L1098.2 2986.5 L1099.7 2945.9 L1101.2 2893.5 L1102.6 2841.6 L1104.1 2818.0 L1105.5 2841.6 L1107.0 2893.5 L1108.4 2945.9 L1109.9 2986.4 L1111.4 3013.4 L1112.8 3029.7 L1114.3 3039.0 L1115.7 3044.6 L1116.5 3046.6 L1118.0 3049.5 L1119.4 3051.6 L1120.9 3053.2 L1122.3 3054.4 L1123.8 3055.4 L1125.3 3056.2 L1126.7 3057.4 L1128.2 3058.0 L1129.6 3058.4 L1131.1 3058.8 L1132.6 3058.7 L1134.0 3058.9 L1135.5 3059.2 L1136.9 3059.4 L1138.4 3059.6 L1139.8 3060.3 L1141.3 3060.4 L1142.8 3060.6 L1144.2 3060.7 L1145.7 3060.3 L1147.1 3060.4 L1148.6 3060.5 L1150.0 3060.5 L1151.5 3060.6 L1153.0 3060.7 L1154.4 3060.7 L1155.9 3060.8 L1157.3 3060.6 L1158.8 3060.6 L1160.3 3060.7 L1161.7 3060.7 L1163.2 3060.7 L1164.6 3061.0 L1166.1 3061.1 L1167.5 3061.1 L1169.0 3061.1 L1170.5 3061.2 L1171.9 3061.2 L1173.4 3061.2 L1174.8 3061.2 L1176.3 3061.0 L1177.8 3061.0 L1179.2 3061.0 L1180.7 3061.0 L1182.1 3061.6 L1183.6 3061.6 L1185.0 3061.6 L1186.5 3061.6 L1188.0 3061.7 L1189.4 3061.4 L1190.9 3061.4 L1192.3 3061.4 L1193.8 3061.4 L1195.2 3061.9 L1196.7 3062.0 L1198.2 3062.0 L1199.6 3062.0 L1201.1 3061.5 L1202.5 3061.5 L1204.0 3061.5 L1205.5 3061.5 L1206.9 3061.5 L1208.4 3061.5 L1209.8 3061.5 L1211.3 3061.5 L1212.7 3061.5 L1214.2 3061.8 L1215.7 3061.8 L1217.1 3061.8 L1218.6 3061.8 L1220.0 3061.8 L1221.5 3061.8 L1222.9 3061.8 L1224.4 3061.8 L1225.9 3061.6 L1227.3 3061.6 L1228.8 3061.6 L1230.2 3061.6 L1231.7 3061.6 L1233.2 3061.6 L1234.6 3061.6 L1236.1 3061.6 L1237.5 3061.6 L1239.0 3061.6 L1240.4 3061.6 L1241.9 3061.6 L1243.4 3061.6 L1244.8 3061.6 L1246.3 3061.6 L1247.7 3061.6 L1249.2 3061.6 L1250.7 3061.6 L1252.1 3061.6 L1253.6 3061.6 L1255.0 3061.6 L1256.5 3061.6 L1257.9 3061.6 L1259.4 3061.6 L1260.9 3061.6 L1262.3 3061.6 L1263.8 3061.6 L1265.2 3061.6 L1266.7 3061.6 L1268.1 3061.6 L1269.6 3061.6 L1271.1 3061.6 L1272.5 3061.6 L1274.0 3061.6 L1275.4 3061.9 L1276.9 3061.9 L1278.4 3061.9 L1279.8 3061.9 L1281.3 3061.6 L1282.7 3061.6 L1284.2 3061.6 L1285.6 3061.6 L1287.1 3061.6 L1288.6 3061.6 L1290.0 3061.6 L1291.5 3061.6 L1292.9 3061.6 L1294.4 3061.6 L1295.8 3061.6 L1297.3 3061.6 L1298.8 3061.6 L1300.2 3061.9 L1301.7 3061.9 L1303.1 3061.8 L1304.6 3061.8 L1306.1 3061.6 L1307.5 3061.6 L1309.0 3061.6 L1310.4 3061.6 L1311.9 3061.5 L1313.3 3061.5 L1314.8 3061.5 L1316.3 3061.5 L1317.7 3061.5 L1319.2 3061.5 L1320.6 3061.5 L1322.1 3061.5 L1323.6 3061.5 L1325.0 3061.5 L1326.5 3061.5 L1327.9 3061.5 L1329.4 3061.5 L1330.8 3061.5 L1332.3 3061.5 L1333.8 3061.5 L1335.2 3061.5 L1336.7 3061.5 L1338.1 3061.4 L1339.6 3061.4 L1341.0 3061.4 L1342.5 3061.4 L1344.0 3061.4 L1345.4 3061.4 L1346.9 3061.4 L1348.3 3061.4 L1349.8 3061.4 L1351.3 3061.3 L1352.7 3061.3 L1354.2 3061.3 L1355.6 3061.3 L1357.1 3061.3 L1358.5 3061.2 L1360.0 3061.2 L1361.5 3061.2 L1362.9 3061.2 L1364.4 3061.2 L1365.8 3061.1 L1367.3 3061.1 L1368.7 3061.1 L1370.2 3061.0 L1371.7 3061.0 L1373.1 3060.9 L1374.6 3060.9 L1376.0 3060.9 L1377.5 3060.8 L1379.0 3060.7 L1380.4 3060.7 L1381.9 3060.6 L1383.3 3060.5 L1384.8 3060.4 L1386.2 3060.3 L1387.7 3060.8 L1389.2 3060.6 L1390.6 3060.5 L1392.1 3060.4 L1393.5 3059.7 L1395.0 3059.5 L1396.5 3059.2 L1397.9 3059.0 L1399.4 3058.7 L1400.8 3058.3 L1402.3 3057.9 L1403.7 3057.4 L1405.2 3056.8 L1406.7 3056.1 L1408.1 3055.2 L1409.6 3054.0 L1411.0 3052.6 L1412.5 3050.6 L1414.3 3046.9 L1415.7 3041.8 L1417.2 3033.5 L1418.6 3019.7 L1420.1 2998.5 L1421.6 2968.7 L1423.0 2932.6 L1424.5 2898.8 L1425.9 2884.0 L1427.4 2898.8 L1428.8 2932.6 L1430.3 2968.7 L1431.8 2998.5 L1433.2 3019.7 L1434.7 3033.4 L1436.1 3041.8 L1437.6 3046.8 L1438.7 3049.4 L1440.2 3051.8 L1441.6 3053.4 L1443.1 3054.7 L1444.6 3055.7 L1446.0 3056.2 L1447.5 3056.9 L1448.9 3057.7 L1450.4 3058.1 L1451.9 3058.5 L1453.3 3058.8 L1454.8 3059.1 L1456.2 3059.3 L1457.7 3059.5 L1459.1 3059.7 L1460.6 3059.9 L1462.1 3060.0 L1463.5 3060.1 L1465.0 3060.2 L1466.4 3060.3 L1467.9 3060.9 L1469.4 3061.0 L1470.8 3061.1 L1472.3 3061.1 L1473.7 3060.7 L1475.2 3060.7 L1476.6 3060.7 L1478.1 3060.8 L1479.6 3061.1 L1481.0 3061.1 L1482.5 3061.1 L1483.9 3061.2 L1485.4 3061.2 L1486.8 3060.9 L1488.3 3060.9 L1489.8 3060.9 L1491.2 3060.9 L1492.7 3060.9 L1494.1 3060.9 L1495.6 3060.8 L1497.1 3060.8 L1498.5 3060.8 L1500.0 3060.7 L1501.4 3060.7 L1502.9 3060.6 L1504.3 3060.5 L1505.8 3060.3 L1507.3 3060.2 L1508.7 3059.9 L1510.2 3059.6 L1511.6 3059.0 L1513.1 3058.2 L1514.5 3056.8 L1516.0 3054.8 L1517.4 3051.9 L1518.9 3048.0 L1520.3 3043.4 L1521.8 3038.8 L1523.3 3035.4 L1524.7 3034.5 L1526.2 3034.5 L1527.6 3034.5 L1529.1 3034.5 L1530.5 3034.5 L1532.0 3035.4 L1533.5 3038.8 L1534.9 3043.5 L1536.4 3048.1 L1537.8 3052.0 L1539.3 3054.9 L1540.8 3057.0 L1542.3 3058.4 L1543.7 3059.2 L1545.2 3059.8 L1546.6 3060.1 L1548.1 3060.4 L1549.5 3060.6 L1551.0 3060.7 L1552.5 3060.8 L1553.9 3060.9 L1555.4 3061.0 L1556.8 3061.1 L1558.3 3061.1 L1559.7 3061.2 L1561.2 3061.0 L1562.7 3061.0 L1564.1 3061.0 L1565.6 3061.1" fill="none" stroke="#FF0000" stroke-width="17.4" stroke-linejoin="bevel" />
<path d="M101.7 3977V3936.4H1558.6V3977" fill="none" stroke="#000" stroke-width="2.8"/>
<path d="M465.9 3936.4V3977" stroke="#000" stroke-width="2.8"/>
<path d="M830.1 3936.4V3977" stroke="#000" stroke-width="2.8"/>
<path d="M1194.3 3936.4V3977" stroke="#000" stroke-width="2.8"/>
<path d="M532.0 2580.0 L535.0 2580.0 L538.0 2580.0 L541.0 2580.0 L544.0 2580.0 L547.0 2579.9 L550.0 2579.9 L553.0 2579.9 L556.0 2579.8 L559.0 2579.8 L562.0 2579.8 L565.0 2579.7 L568.0 2579.6 L571.0 2579.6 L574.0 2579.5 L577.0 2579.5 L580.0 2579.4 L583.0 2579.3 L586.0 2579.2" fill="none" stroke="#000000" stroke-width="12.6" stroke-linejoin="round"/>
<path d="M574.0 2579.5 L577.0 2579.5 L580.0 2579.4 L583.0 2579.3 L586.0 2579.2 L589.0 2579.2 L592.0 2579.1 L595.0 2579.0 L598.0 2578.9 L601.0 2578.8 L604.0 2578.7 L607.0 2578.6 L610.0 2578.5 L613.0 2578.4 L616.0 2578.3 L619.0 2578.2 L622.0 2578.1 L625.0 2577.9 L628.0 2577.8 L631.0 2577.7 L634.0 2577.6 L637.0 2577.5 L640.0 2577.3 L643.0 2577.1 L646.0 2576.9 L649.0 2576.7 L652.0 2576.4" fill="none" stroke="#000000" stroke-width="13.2" stroke-linejoin="round"/>
<path d="M640.0 2577.3 L643.0 2577.1 L646.0 2576.9 L649.0 2576.7 L652.0 2576.4 L655.0 2576.1 L658.0 2575.8 L661.0 2575.5 L664.0 2575.2 L667.0 2574.8 L670.0 2574.5 L673.0 2574.1 L676.0 2573.7 L679.0 2573.3" fill="none" stroke="#000000" stroke-width="13.8" stroke-linejoin="round"/>
<path d="M667.0 2574.8 L670.0 2574.5 L673.0 2574.1 L676.0 2573.7 L679.0 2573.3 L682.0 2572.9 L685.0 2572.4 L688.0 2572.0 L691.0 2571.5 L694.0 2570.9 L697.0 2570.4 L700.0 2569.8 L703.0 2569.2" fill="none" stroke="#000000" stroke-width="14.4" stroke-linejoin="round"/>
<path d="M691.0 2571.5 L694.0 2570.9 L697.0 2570.4 L700.0 2569.8 L703.0 2569.2 L706.0 2568.6 L709.0 2568.0 L712.0 2567.3 L715.0 2566.7 L718.0 2566.0 L721.0 2565.3 L724.0 2564.6 L727.0 2563.8 L730.0 2563.1 L733.0 2562.3 L736.0 2561.5" fill="none" stroke="#000000" stroke-width="15.0" stroke-linejoin="round"/>
<path d="M724.0 2564.6 L727.0 2563.8 L730.0 2563.1 L733.0 2562.3 L736.0 2561.5 L739.0 2560.7 L742.0 2559.9 L745.0 2559.0 L748.0 2558.0 L751.0 2557.0 L754.0 2556.0" fill="none" stroke="#000000" stroke-width="15.6" stroke-linejoin="round"/>
<path d="M742.0 2559.9 L745.0 2559.0 L748.0 2558.0 L751.0 2557.0 L754.0 2556.0 L757.0 2554.9 L760.0 2553.7 L763.0 2552.6 L766.0 2551.4 L769.0 2550.1 L772.0 2548.9 L775.0 2547.6" fill="none" stroke="#000000" stroke-width="16.2" stroke-linejoin="round"/>
<path d="M763.0 2552.6 L766.0 2551.4 L769.0 2550.1 L772.0 2548.9 L775.0 2547.6 L778.0 2546.2 L781.0 2544.8 L784.0 2543.5 L787.0 2542.0 L790.0 2540.6 L793.0 2539.1 L796.0 2537.7 L799.0 2536.2 L802.0 2534.6 L805.0 2533.0 L808.0 2531.3" fill="none" stroke="#000000" stroke-width="16.8" stroke-linejoin="round"/>
<path d="M796.0 2537.7 L799.0 2536.2 L802.0 2534.6 L805.0 2533.0 L808.0 2531.3 L811.0 2529.4 L814.0 2527.4 L817.0 2525.3 L820.0 2523.0 L823.0 2520.3 L826.0 2517.1 L829.0 2513.5 L832.0 2509.7 L835.0 2505.8" fill="none" stroke="#000000" stroke-width="17.4" stroke-linejoin="round"/>
<path d="M823.0 2520.3 L826.0 2517.1 L829.0 2513.5 L832.0 2509.7 L835.0 2505.8 L838.0 2501.8 L841.0 2498.0 L844.0 2494.3 L847.0 2490.9 L850.0 2487.4 L853.0 2483.9 L856.0 2480.4 L859.0 2477.1 L862.0 2473.8 L865.0 2470.7 L868.0 2467.9 L871.0 2465.2 L874.0 2462.5 L877.0 2460.0 L880.0 2457.6 L883.0 2455.4" fill="none" stroke="#000000" stroke-width="18.0" stroke-linejoin="round"/>
<path d="M871.0 2465.2 L874.0 2462.5 L877.0 2460.0 L880.0 2457.6 L883.0 2455.4 L886.0 2453.2 L889.0 2451.3 L892.0 2449.5 L895.0 2447.9 L898.0 2446.5 L901.0 2445.1 L904.0 2443.6 L907.0 2441.7 L910.0 2439.5 L913.0 2437.0 L916.0 2434.6" fill="none" stroke="#000000" stroke-width="17.4" stroke-linejoin="round"/>
<path d="M904.0 2443.6 L907.0 2441.7 L910.0 2439.5 L913.0 2437.0 L916.0 2434.6 L919.0 2432.6 L922.0 2431.1" fill="none" stroke="#000000" stroke-width="16.8" stroke-linejoin="round"/>
<path d="M910.0 2439.5 L913.0 2437.0 L916.0 2434.6 L919.0 2432.6 L922.0 2431.1 L925.0 2430.4 L928.0 2430.1" fill="none" stroke="#000000" stroke-width="16.2" stroke-linejoin="round"/>
<path d="M916.0 2434.6 L919.0 2432.6 L922.0 2431.1 L925.0 2430.4 L928.0 2430.1 L931.0 2429.9" fill="none" stroke="#000000" stroke-width="15.6" stroke-linejoin="round"/>
<path d="M919.0 2432.6 L922.0 2431.1 L925.0 2430.4 L928.0 2430.1 L931.0 2429.9 L934.0 2429.7" fill="none" stroke="#000000" stroke-width="15.0" stroke-linejoin="round"/>
<path d="M922.0 2431.1 L925.0 2430.4 L928.0 2430.1 L931.0 2429.9 L934.0 2429.7 L937.0 2429.5" fill="none" stroke="#000000" stroke-width="14.4" stroke-linejoin="round"/>
<path d="M925.0 2430.4 L928.0 2430.1 L931.0 2429.9 L934.0 2429.7 L937.0 2429.5 L940.0 2429.5" fill="none" stroke="#000000" stroke-width="13.8" stroke-linejoin="round"/>
<path d="M928.0 2430.1 L931.0 2429.9 L934.0 2429.7 L937.0 2429.5 L940.0 2429.5 L943.0 2429.5 L946.0 2429.5 L949.0 2429.6 L952.0 2429.7 L955.0 2429.8 L958.0 2429.9 L961.0 2430.0 L964.0 2430.3" fill="none" stroke="#000000" stroke-width="13.2" stroke-linejoin="round"/>
<path d="M952.0 2429.7 L955.0 2429.8 L958.0 2429.9 L961.0 2430.0 L964.0 2430.3 L967.0 2430.7 L970.0 2431.3" fill="none" stroke="#000000" stroke-width="13.8" stroke-linejoin="round"/>
<path d="M958.0 2429.9 L961.0 2430.0 L964.0 2430.3 L967.0 2430.7 L970.0 2431.3 L973.0 2432.0 L976.0 2432.9" fill="none" stroke="#000000" stroke-width="14.4" stroke-linejoin="round"/>
<path d="M964.0 2430.3 L967.0 2430.7 L970.0 2431.3 L973.0 2432.0 L976.0 2432.9 L979.0 2433.8" fill="none" stroke="#000000" stroke-width="15.0" stroke-linejoin="round"/>
<path d="M967.0 2430.7 L970.0 2431.3 L973.0 2432.0 L976.0 2432.9 L979.0 2433.8 L982.0 2435.0" fill="none" stroke="#000000" stroke-width="15.6" stroke-linejoin="round"/>
<path d="M970.0 2431.3 L973.0 2432.0 L976.0 2432.9 L979.0 2433.8 L982.0 2435.0 L985.0 2436.6 L988.0 2438.6" fill="none" stroke="#000000" stroke-width="16.2" stroke-linejoin="round"/>
<path d="M976.0 2432.9 L979.0 2433.8 L982.0 2435.0 L985.0 2436.6 L988.0 2438.6 L991.0 2441.0 L994.0 2445.0" fill="none" stroke="#000000" stroke-width="16.8" stroke-linejoin="round"/>
<path d="M982.0 2435.0 L985.0 2436.6 L988.0 2438.6 L991.0 2441.0 L994.0 2445.0 L997.0 2450.0 L1000.0 2454.9 L1003.0 2458.9 L1006.0 2462.3 L1009.0 2465.5 L1012.0 2468.5 L1015.0 2471.3" fill="none" stroke="#000000" stroke-width="17.4" stroke-linejoin="round"/>
<path d="M1003.0 2458.9 L1006.0 2462.3 L1009.0 2465.5 L1012.0 2468.5 L1015.0 2471.3 L1018.0 2474.1 L1021.0 2476.9 L1024.0 2479.8 L1027.0 2482.7 L1030.0 2485.5 L1033.0 2488.3 L1036.0 2491.0 L1039.0 2493.7 L1042.0 2496.5 L1045.0 2499.6 L1048.0 2502.9" fill="none" stroke="#000000" stroke-width="18.0" stroke-linejoin="round"/>
<path d="M1036.0 2491.0 L1039.0 2493.7 L1042.0 2496.5 L1045.0 2499.6 L1048.0 2502.9 L1051.0 2506.5 L1054.0 2511.2 L1057.0 2516.5 L1060.0 2521.7 L1063.0 2526.0 L1066.0 2529.4 L1069.0 2532.6 L1072.0 2535.6 L1075.0 2538.3 L1078.0 2540.9" fill="none" stroke="#000000" stroke-width="17.4" stroke-linejoin="round"/>
<path d="M1066.0 2529.4 L1069.0 2532.6 L1072.0 2535.6 L1075.0 2538.3 L1078.0 2540.9 L1081.0 2543.3" fill="none" stroke="#000000" stroke-width="18.0" stroke-linejoin="round"/>
<path d="M1069.0 2532.6 L1072.0 2535.6 L1075.0 2538.3 L1078.0 2540.9 L1081.0 2543.3 L1084.0 2545.5 L1087.0 2547.5 L1090.0 2549.4 L1093.0 2551.0 L1096.0 2552.5 L1099.0 2554.0 L1102.0 2555.5 L1105.0 2557.0" fill="none" stroke="#000000" stroke-width="17.4" stroke-linejoin="round"/>
<path d="M1093.0 2551.0 L1096.0 2552.5 L1099.0 2554.0 L1102.0 2555.5 L1105.0 2557.0 L1108.0 2558.7 L1111.0 2560.5 L1114.0 2562.2 L1117.0 2563.7" fill="none" stroke="#000000" stroke-width="16.8" stroke-linejoin="round"/>
<path d="M1105.0 2557.0 L1108.0 2558.7 L1111.0 2560.5 L1114.0 2562.2 L1117.0 2563.7 L1120.0 2564.7 L1123.0 2565.4" fill="none" stroke="#000000" stroke-width="16.2" stroke-linejoin="round"/>
<path d="M1111.0 2560.5 L1114.0 2562.2 L1117.0 2563.7 L1120.0 2564.7 L1123.0 2565.4 L1126.0 2565.9 L1129.0 2566.4" fill="none" stroke="#000000" stroke-width="15.6" stroke-linejoin="round"/>
<path d="M1117.0 2563.7 L1120.0 2564.7 L1123.0 2565.4 L1126.0 2565.9 L1129.0 2566.4 L1132.0 2566.8 L1135.0 2567.3 L1138.0 2567.8 L1141.0 2568.5 L1144.0 2569.3 L1147.0 2570.2 L1150.0 2571.1 L1153.0 2572.0" fill="none" stroke="#000000" stroke-width="15.0" stroke-linejoin="round"/>
<path d="M1141.0 2568.5 L1144.0 2569.3 L1147.0 2570.2 L1150.0 2571.1 L1153.0 2572.0 L1156.0 2572.9 L1159.0 2573.6 L1162.0 2574.3 L1165.0 2574.9" fill="none" stroke="#000000" stroke-width="15.6" stroke-linejoin="round"/>
<path d="M1153.0 2572.0 L1156.0 2572.9 L1159.0 2573.6 L1162.0 2574.3 L1165.0 2574.9 L1168.0 2575.6 L1171.0 2576.2 L1174.0 2576.9 L1177.0 2577.5 L1180.0 2578.1 L1183.0 2578.6" fill="none" stroke="#000000" stroke-width="15.0" stroke-linejoin="round"/>
<path d="M1171.0 2576.2 L1174.0 2576.9 L1177.0 2577.5 L1180.0 2578.1 L1183.0 2578.6 L1186.0 2579.1 L1189.0 2579.4 L1192.0 2579.7" fill="none" stroke="#000000" stroke-width="14.4" stroke-linejoin="round"/>
<path d="M1180.0 2578.1 L1183.0 2578.6 L1186.0 2579.1 L1189.0 2579.4 L1192.0 2579.7 L1195.0 2579.9 L1198.0 2580.0 L1201.0 2580.1" fill="none" stroke="#000000" stroke-width="13.8" stroke-linejoin="round"/>
<path d="M1189.0 2579.4 L1192.0 2579.7 L1195.0 2579.9 L1198.0 2580.0 L1201.0 2580.1 L1204.0 2580.1 L1207.0 2580.2 L1210.0 2580.3 L1213.0 2580.3" fill="none" stroke="#000000" stroke-width="13.2" stroke-linejoin="round"/>
<path d="M1201.0 2580.1 L1204.0 2580.1 L1207.0 2580.2 L1210.0 2580.3 L1213.0 2580.3 L1216.0 2580.4 L1219.0 2580.4 L1222.0 2580.5 L1225.0 2580.5 L1228.0 2580.5 L1231.0 2580.6 L1234.0 2580.6 L1237.0 2580.7 L1240.0 2580.7 L1243.0 2580.7 L1246.0 2580.8 L1249.0 2580.8 L1252.0 2580.8 L1255.0 2580.8 L1258.0 2580.9 L1261.0 2580.9 L1264.0 2580.9 L1267.0 2580.9 L1270.0 2580.9 L1273.0 2580.9 L1276.0 2581.0 L1279.0 2581.0 L1282.0 2581.0 L1285.0 2581.0 L1288.0 2581.0 L1291.0 2581.0 L1294.0 2581.0 L1297.0 2581.0 L1300.0 2581.0 L1303.0 2581.0 L1306.0 2581.0 L1309.0 2581.0 L1312.0 2581.0 L1315.0 2581.0 L1318.0 2581.0 L1321.0 2581.0 L1324.0 2581.0 L1327.0 2581.0 L1330.0 2581.0 L1333.0 2581.0 L1336.0 2581.0 L1339.0 2581.0 L1342.0 2581.0 L1345.0 2581.0 L1348.0 2581.0 L1351.0 2581.0 L1354.0 2581.0 L1357.0 2581.0 L1360.0 2581.0 L1363.0 2581.0 L1366.0 2581.0 L1369.0 2581.0 L1372.0 2581.0 L1375.0 2581.0 L1378.0 2581.0 L1381.0 2581.0 L1384.0 2581.0 L1387.0 2581.0 L1390.0 2581.0 L1393.0 2581.0 L1396.0 2581.0 L1399.0 2581.0 L1402.0 2581.0 L1405.0 2581.0 L1408.0 2581.0 L1411.0 2581.0 L1414.0 2581.0 L1417.0 2581.0 L1420.0 2581.0 L1423.0 2581.0 L1426.0 2581.0 L1429.0 2581.0 L1432.0 2581.0 L1435.0 2581.0 L1438.0 2581.0 L1441.0 2581.0 L1444.0 2581.0 L1447.0 2581.0 L1450.0 2581.0 L1453.0 2581.0 L1456.0 2581.0 L1459.0 2581.0 L1462.0 2581.0 L1465.0 2581.0 L1468.0 2581.0 L1471.0 2581.0 L1474.0 2581.0 L1477.0 2581.0 L1480.0 2581.0 L1483.0 2581.0 L1486.0 2581.0 L1489.0 2581.0 L1492.0 2581.0 L1495.0 2581.0 L1498.0 2581.0 L1501.0 2581.0 L1504.0 2581.0 L1507.0 2581.0 L1510.0 2581.0 L1513.0 2581.0 L1516.0 2581.0 L1519.0 2581.0 L1522.0 2581.0 L1525.0 2581.0 L1528.0 2581.0 L1531.0 2581.0 L1534.0 2581.0 L1537.0 2581.0 L1540.0 2581.0 L1543.0 2581.0 L1546.0 2581.0 L1549.0 2581.0 L1552.0 2581.0 L1555.0 2581.0 L1558.0 2581.0 L1561.0 2581.0 L1564.0 2581.0 L1567.0 2581.0 L1570.0 2581.0 L1573.0 2581.0 L1576.0 2581.0 L1579.0 2581.0 L1582.0 2581.0 L1585.0 2581.0 L1588.0 2581.0 L1591.0 2581.0 L1594.0 2581.0 L1597.0 2581.0 L1600.0 2581.0 L1603.0 2581.0 L1606.0 2581.0 L1609.0 2581.0 L1612.0 2581.0 L1615.0 2581.0 L1618.0 2581.0 L1621.0 2581.0 L1624.0 2581.0 L1627.0 2581.0 L1630.0 2581.0 L1633.0 2581.0 L1636.0 2581.0 L1639.0 2581.0 L1642.0 2581.0 L1645.0 2581.0 L1648.0 2581.0 L1651.0 2581.0 L1654.0 2581.0 L1657.0 2581.0 L1660.0 2581.0 L1663.0 2581.0 L1666.0 2581.0 L1669.0 2581.0 L1672.0 2581.0 L1675.0 2581.0 L1678.0 2581.0 L1681.0 2581.0 L1684.0 2581.0 L1687.0 2581.0 L1690.0 2581.0 L1693.0 2581.0 L1696.0 2581.0 L1699.0 2581.0 L1702.0 2581.0 L1705.0 2581.0 L1708.0 2581.0 L1711.0 2581.0 L1714.0 2581.0 L1717.0 2581.0 L1720.0 2581.0 L1723.0 2581.0 L1726.0 2581.0 L1729.0 2581.0 L1732.0 2581.0 L1735.0 2581.0 L1738.0 2581.0 L1741.0 2581.0 L1744.0 2581.0 L1747.0 2581.0 L1750.0 2581.0 L1753.0 2581.0 L1756.0 2581.0" fill="none" stroke="#000000" stroke-width="12.6" stroke-linejoin="round"/>
<path d="M532.0 2580.5 L535.0 2580.5 L538.0 2580.5 L541.0 2580.5 L544.0 2580.5 L547.0 2580.5 L550.0 2580.4 L553.0 2580.4 L556.0 2580.4 L559.0 2580.4 L562.0 2580.3 L565.0 2580.3 L568.0 2580.3 L571.0 2580.2 L574.0 2580.2 L577.0 2580.1 L580.0 2580.1 L583.0 2580.0 L586.0 2580.0 L589.0 2579.9 L592.0 2579.9 L595.0 2579.8 L598.0 2579.7 L601.0 2579.7 L604.0 2579.6 L607.0 2579.5 L610.0 2579.5 L613.0 2579.4 L616.0 2579.3 L619.0 2579.2 L622.0 2579.1 L625.0 2579.1 L628.0 2579.0 L631.0 2578.9 L634.0 2578.8 L637.0 2578.7 L640.0 2578.6 L643.0 2578.5 L646.0 2578.4 L649.0 2578.3 L652.0 2578.2 L655.0 2578.1 L658.0 2578.0 L661.0 2577.9 L664.0 2577.8 L667.0 2577.7 L670.0 2577.5 L673.0 2577.4 L676.0 2577.3 L679.0 2577.2 L682.0 2577.1 L685.0 2577.0 L688.0 2576.8 L691.0 2576.7 L694.0 2576.5 L697.0 2576.3 L700.0 2576.0 L703.0 2575.8 L706.0 2575.6 L709.0 2575.3 L712.0 2575.0 L715.0 2574.7 L718.0 2574.4 L721.0 2574.1 L724.0 2573.8 L727.0 2573.4 L730.0 2573.1 L733.0 2572.7 L736.0 2572.3 L739.0 2571.9 L742.0 2571.4 L745.0 2570.9 L748.0 2570.4 L751.0 2569.9 L754.0 2569.4 L757.0 2568.9 L760.0 2568.3 L763.0 2567.7 L766.0 2567.1 L769.0 2566.6 L772.0 2566.0 L775.0 2565.4 L778.0 2564.8 L781.0 2564.2 L784.0 2563.6 L787.0 2563.0 L790.0 2562.5 L793.0 2561.9 L796.0 2561.4 L799.0 2560.8 L802.0 2560.3 L805.0 2559.7 L808.0 2559.1 L811.0 2558.4 L814.0 2557.7 L817.0 2557.0 L820.0 2556.2 L823.0 2555.3 L826.0 2554.3 L829.0 2553.3 L832.0 2552.0 L835.0 2550.4 L838.0 2548.6 L841.0 2546.6 L844.0 2544.4 L847.0 2542.3 L850.0 2540.1 L853.0 2538.0 L856.0 2535.9 L859.0 2533.8 L862.0 2531.6 L865.0 2529.3 L868.0 2527.0 L871.0 2524.6 L874.0 2522.1 L877.0 2519.6 L880.0 2517.0 L883.0 2514.2 L886.0 2511.3 L889.0 2508.4 L892.0 2505.4 L895.0 2502.3 L898.0 2499.2 L901.0 2496.1 L904.0 2492.8 L907.0 2489.6 L910.0 2486.2 L913.0 2482.8 L916.0 2479.4 L919.0 2475.9 L922.0 2472.3 L925.0 2468.7 L928.0 2465.0 L931.0 2461.3 L934.0 2457.7 L937.0 2454.0 L940.0 2450.2 L943.0 2446.5 L946.0 2442.8 L949.0 2439.2 L952.0 2435.9 L955.0 2432.5 L958.0 2429.1 L961.0 2425.9 L964.0 2422.8 L967.0 2420.1 L970.0 2417.9 L973.0 2416.0 L976.0 2414.2 L979.0 2412.6 L982.0 2411.4 L985.0 2411.0 L988.0 2411.0 L991.0 2411.2 L994.0 2411.4 L997.0 2411.6 L1000.0 2412.0 L1003.0 2413.0 L1006.0 2414.3 L1009.0 2415.9 L1012.0 2417.9 L1015.0 2420.0 L1018.0 2422.3 L1021.0 2424.6 L1024.0 2427.3 L1027.0 2430.7 L1030.0 2434.7 L1033.0 2438.9 L1036.0 2443.3 L1039.0 2447.5 L1042.0 2451.9 L1045.0 2456.4 L1048.0 2461.0 L1051.0 2465.6 L1054.0 2470.1 L1057.0 2474.7 L1060.0 2479.4 L1063.0 2484.0 L1066.0 2488.4 L1069.0 2492.5 L1072.0 2496.1 L1075.0 2499.1 L1078.0 2501.8 L1081.0 2504.3 L1084.0 2506.7 L1087.0 2509.1 L1090.0 2511.5 L1093.0 2514.0 L1096.0 2516.5 L1099.0 2519.0 L1102.0 2521.5 L1105.0 2523.9 L1108.0 2526.3 L1111.0 2528.6 L1114.0 2530.8 L1117.0 2533.0 L1120.0 2535.2 L1123.0 2537.4 L1126.0 2539.5 L1129.0 2541.5 L1132.0 2543.5 L1135.0 2545.3 L1138.0 2547.1 L1141.0 2548.7 L1144.0 2550.2 L1147.0 2551.7 L1150.0 2553.0 L1153.0 2554.4 L1156.0 2555.6 L1159.0 2556.9 L1162.0 2558.0 L1165.0 2559.1 L1168.0 2560.2 L1171.0 2561.3 L1174.0 2562.3 L1177.0 2563.3 L1180.0 2564.2 L1183.0 2565.1 L1186.0 2566.0 L1189.0 2566.8 L1192.0 2567.6 L1195.0 2568.4 L1198.0 2569.2 L1201.0 2569.9 L1204.0 2570.7 L1207.0 2571.3 L1210.0 2571.9 L1213.0 2572.5 L1216.0 2572.9 L1219.0 2573.3 L1222.0 2573.7 L1225.0 2574.0 L1228.0 2574.3 L1231.0 2574.5 L1234.0 2574.8 L1237.0 2575.0 L1240.0 2575.2 L1243.0 2575.4 L1246.0 2575.6 L1249.0 2575.7 L1252.0 2575.8 L1255.0 2576.0 L1258.0 2576.1 L1261.0 2576.2 L1264.0 2576.3 L1267.0 2576.5 L1270.0 2576.6 L1273.0 2576.8 L1276.0 2576.9 L1279.0 2577.1 L1282.0 2577.3 L1285.0 2577.5 L1288.0 2577.7 L1291.0 2578.0 L1294.0 2578.2 L1297.0 2578.4 L1300.0 2578.6 L1303.0 2578.8 L1306.0 2579.0 L1309.0 2579.1 L1312.0 2579.3 L1315.0 2579.4 L1318.0 2579.5 L1321.0 2579.6 L1324.0 2579.7 L1327.0 2579.8 L1330.0 2579.8 L1333.0 2579.9 L1336.0 2580.0 L1339.0 2580.1 L1342.0 2580.2 L1345.0 2580.2 L1348.0 2580.3 L1351.0 2580.4 L1354.0 2580.4 L1357.0 2580.5 L1360.0 2580.6 L1363.0 2580.6 L1366.0 2580.7 L1369.0 2580.7 L1372.0 2580.8 L1375.0 2580.8 L1378.0 2580.9 L1381.0 2580.9 L1384.0 2580.9 L1387.0 2580.9 L1390.0 2581.0 L1393.0 2581.0 L1396.0 2581.0 L1399.0 2581.0 L1402.0 2581.0 L1405.0 2581.0 L1408.0 2581.0 L1411.0 2581.0 L1414.0 2581.0 L1417.0 2581.0 L1420.0 2581.0 L1423.0 2581.0 L1426.0 2581.0 L1429.0 2581.0 L1432.0 2581.0 L1435.0 2581.0 L1438.0 2581.0 L1441.0 2581.0 L1444.0 2581.0 L1447.0 2581.0 L1450.0 2581.0 L1453.0 2581.0 L1456.0 2581.0 L1459.0 2581.0 L1462.0 2581.0 L1465.0 2581.0 L1468.0 2581.0 L1471.0 2581.0 L1474.0 2581.0 L1477.0 2581.0 L1480.0 2581.0 L1483.0 2581.0 L1486.0 2581.0 L1489.0 2581.0 L1492.0 2581.0 L1495.0 2581.0 L1498.0 2581.0 L1501.0 2581.0 L1504.0 2581.0 L1507.0 2581.0 L1510.0 2581.0 L1513.0 2581.0 L1516.0 2581.0 L1519.0 2581.0 L1522.0 2581.0 L1525.0 2581.0 L1528.0 2581.0 L1531.0 2581.0 L1534.0 2581.0 L1537.0 2581.0 L1540.0 2581.0 L1543.0 2581.0 L1546.0 2581.0 L1549.0 2581.0 L1552.0 2581.0 L1555.0 2581.0 L1558.0 2581.0 L1561.0 2581.0 L1564.0 2581.0 L1567.0 2581.0 L1570.0 2581.0 L1573.0 2581.0 L1576.0 2581.0 L1579.0 2581.0 L1582.0 2581.0 L1585.0 2581.0 L1588.0 2581.0 L1591.0 2581.0 L1594.0 2581.0 L1597.0 2581.0 L1600.0 2581.0 L1603.0 2581.0 L1606.0 2581.0 L1609.0 2581.0 L1612.0 2581.0 L1615.0 2581.0 L1618.0 2581.0 L1621.0 2581.0 L1624.0 2581.0 L1627.0 2581.0 L1630.0 2581.0 L1633.0 2581.0 L1636.0 2581.0 L1639.0 2581.0 L1642.0 2581.0 L1645.0 2581.0 L1648.0 2581.0 L1651.0 2581.0 L1654.0 2581.0 L1657.0 2581.0 L1660.0 2581.0 L1663.0 2581.0 L1666.0 2581.0 L1669.0 2581.0 L1672.0 2581.0 L1675.0 2581.0 L1678.0 2581.0 L1681.0 2581.0 L1684.0 2581.0 L1687.0 2581.0 L1690.0 2581.0 L1693.0 2581.0 L1696.0 2581.0 L1699.0 2581.0 L1702.0 2581.0 L1705.0 2581.0 L1708.0 2581.0 L1711.0 2581.0 L1714.0 2581.0 L1717.0 2581.0 L1720.0 2581.0 L1723.0 2581.0 L1726.0 2581.0 L1729.0 2581.0 L1732.0 2581.0 L1735.0 2581.0 L1738.0 2581.0 L1741.0 2581.0 L1744.0 2581.0 L1747.0 2581.0 L1750.0 2581.0 L1753.0 2581.0 L1756.0 2581.0" fill="none" stroke="#FA50B4" stroke-width="14.5" stroke-linejoin="round" stroke-dasharray="17 9.5" stroke-dashoffset="0"/>
<path d="M530.0 2580.0 L533.0 2580.0 L536.0 2580.0 L539.0 2580.0 L542.0 2580.0 L545.0 2580.0 L548.0 2580.0 L551.0 2579.9 L554.0 2579.9 L557.0 2579.9 L560.0 2579.9 L563.0 2579.9 L566.0 2579.8 L569.0 2579.8 L572.0 2579.8 L575.0 2579.8 L578.0 2579.7 L581.0 2579.7 L584.0 2579.7 L587.0 2579.6 L590.0 2579.6 L593.0 2579.6 L596.0 2579.5 L599.0 2579.5 L602.0 2579.4 L605.0 2579.4 L608.0 2579.3 L611.0 2579.3 L614.0 2579.3 L617.0 2579.2 L620.0 2579.2 L623.0 2579.1 L626.0 2579.1 L629.0 2579.0 L632.0 2578.9 L635.0 2578.9 L638.0 2578.8 L641.0 2578.8 L644.0 2578.7 L647.0 2578.7 L650.0 2578.6 L653.0 2578.5 L656.0 2578.5 L659.0 2578.4 L662.0 2578.3 L665.0 2578.3 L668.0 2578.2 L671.0 2578.2 L674.0 2578.1 L677.0 2578.0 L680.0 2578.0 L683.0 2577.9 L686.0 2577.8 L689.0 2577.8 L692.0 2577.7 L695.0 2577.6 L698.0 2577.5 L701.0 2577.5 L704.0 2577.4 L707.0 2577.3 L710.0 2577.2 L713.0 2577.1 L716.0 2577.1 L719.0 2577.0 L722.0 2576.8 L725.0 2576.7 L728.0 2576.6 L731.0 2576.5" fill="none" stroke="#0000D2" stroke-width="13.8" stroke-linejoin="round"/>
<path d="M719.0 2577.0 L722.0 2576.8 L725.0 2576.7 L728.0 2576.6 L731.0 2576.5 L734.0 2576.4 L737.0 2576.2 L740.0 2576.1 L743.0 2576.0 L746.0 2575.8 L749.0 2575.7 L752.0 2575.6 L755.0 2575.4 L758.0 2575.3 L761.0 2575.1 L764.0 2575.0 L767.0 2574.8 L770.0 2574.7 L773.0 2574.5 L776.0 2574.3 L779.0 2574.2 L782.0 2574.0 L785.0 2573.9 L788.0 2573.7 L791.0 2573.5 L794.0 2573.4 L797.0 2573.2 L800.0 2573.1 L803.0 2572.9 L806.0 2572.7 L809.0 2572.6 L812.0 2572.4 L815.0 2572.3 L818.0 2572.1 L821.0 2571.9 L824.0 2571.8 L827.0 2571.7 L830.0 2571.5 L833.0 2571.4 L836.0 2571.2 L839.0 2571.1 L842.0 2570.9 L845.0 2570.8 L848.0 2570.6 L851.0 2570.5 L854.0 2570.3 L857.0 2570.1 L860.0 2569.9 L863.0 2569.7 L866.0 2569.5 L869.0 2569.3 L872.0 2569.0" fill="none" stroke="#0000D2" stroke-width="14.4" stroke-linejoin="round"/>
<path d="M860.0 2569.9 L863.0 2569.7 L866.0 2569.5 L869.0 2569.3 L872.0 2569.0 L875.0 2568.7 L878.0 2568.4 L881.0 2568.0 L884.0 2567.6 L887.0 2567.2 L890.0 2566.8 L893.0 2566.3" fill="none" stroke="#0000D2" stroke-width="15.0" stroke-linejoin="round"/>
<path d="M881.0 2568.0 L884.0 2567.6 L887.0 2567.2 L890.0 2566.8 L893.0 2566.3 L896.0 2565.9 L899.0 2565.4 L902.0 2564.9 L905.0 2564.4 L908.0 2564.0 L911.0 2563.5 L914.0 2563.0 L917.0 2562.6 L920.0 2562.1 L923.0 2561.6 L926.0 2561.1 L929.0 2560.7 L932.0 2560.2 L935.0 2559.6 L938.0 2559.1 L941.0 2558.6 L944.0 2558.0 L947.0 2557.4" fill="none" stroke="#0000D2" stroke-width="15.6" stroke-linejoin="round"/>
<path d="M935.0 2559.6 L938.0 2559.1 L941.0 2558.6 L944.0 2558.0 L947.0 2557.4 L950.0 2556.8 L953.0 2556.1 L956.0 2555.4 L959.0 2554.7 L962.0 2553.9 L965.0 2553.0" fill="none" stroke="#0000D2" stroke-width="16.2" stroke-linejoin="round"/>
<path d="M953.0 2556.1 L956.0 2555.4 L959.0 2554.7 L962.0 2553.9 L965.0 2553.0 L968.0 2552.2 L971.0 2551.3 L974.0 2550.3 L977.0 2549.4 L980.0 2548.4 L983.0 2547.4" fill="none" stroke="#0000D2" stroke-width="16.8" stroke-linejoin="round"/>
<path d="M971.0 2551.3 L974.0 2550.3 L977.0 2549.4 L980.0 2548.4 L983.0 2547.4 L986.0 2546.3 L989.0 2545.3 L992.0 2544.3 L995.0 2543.3 L998.0 2542.2 L1001.0 2541.2 L1004.0 2540.2 L1007.0 2539.1 L1010.0 2537.9 L1013.0 2536.7 L1016.0 2535.5" fill="none" stroke="#0000D2" stroke-width="17.4" stroke-linejoin="round"/>
<path d="M1004.0 2540.2 L1007.0 2539.1 L1010.0 2537.9 L1013.0 2536.7 L1016.0 2535.5 L1019.0 2534.2 L1022.0 2532.7 L1025.0 2531.2 L1028.0 2529.5" fill="none" stroke="#0000D2" stroke-width="18.0" stroke-linejoin="round"/>
<path d="M1016.0 2535.5 L1019.0 2534.2 L1022.0 2532.7 L1025.0 2531.2 L1028.0 2529.5 L1031.0 2527.6 L1034.0 2525.4 L1037.0 2523.0 L1040.0 2520.5" fill="none" stroke="#0000D2" stroke-width="18.6" stroke-linejoin="round"/>
<path d="M1028.0 2529.5 L1031.0 2527.6 L1034.0 2525.4 L1037.0 2523.0 L1040.0 2520.5 L1043.0 2517.8 L1046.0 2515.1 L1049.0 2512.4 L1052.0 2509.8 L1055.0 2507.0 L1058.0 2504.3 L1061.0 2501.4 L1064.0 2498.5 L1067.0 2495.5 L1070.0 2492.3 L1073.0 2489.0 L1076.0 2485.5 L1079.0 2481.9 L1082.0 2478.1 L1085.0 2474.2 L1088.0 2469.9 L1091.0 2465.4" fill="none" stroke="#0000D2" stroke-width="19.2" stroke-linejoin="round"/>
<path d="M1079.0 2481.9 L1082.0 2478.1 L1085.0 2474.2 L1088.0 2469.9 L1091.0 2465.4 L1094.0 2460.6 L1097.0 2455.2 L1100.0 2449.1 L1103.0 2442.5 L1106.0 2436.0" fill="none" stroke="#0000D2" stroke-width="18.6" stroke-linejoin="round"/>
<path d="M1094.0 2460.6 L1097.0 2455.2 L1100.0 2449.1 L1103.0 2442.5 L1106.0 2436.0 L1109.0 2429.5 L1112.0 2423.0 L1115.0 2416.2 L1118.0 2409.2 L1121.0 2401.7 L1124.0 2393.7" fill="none" stroke="#0000D2" stroke-width="18.0" stroke-linejoin="round"/>
<path d="M1112.0 2423.0 L1115.0 2416.2 L1118.0 2409.2 L1121.0 2401.7 L1124.0 2393.7 L1127.0 2385.4 L1130.0 2376.9 L1133.0 2368.5 L1136.0 2360.5 L1139.0 2352.6 L1142.0 2344.7 L1145.0 2336.9 L1148.0 2328.8 L1151.0 2320.4 L1154.0 2311.6 L1157.0 2302.8 L1160.0 2294.4 L1163.0 2286.7 L1166.0 2279.2 L1169.0 2272.1" fill="none" stroke="#0000D2" stroke-width="17.4" stroke-linejoin="round"/>
<path d="M1157.0 2302.8 L1160.0 2294.4 L1163.0 2286.7 L1166.0 2279.2 L1169.0 2272.1 L1172.0 2266.0 L1175.0 2260.3 L1178.0 2255.3 L1181.0 2252.0 L1184.0 2250.2 L1187.0 2248.9 L1190.0 2248.5 L1193.0 2249.3 L1196.0 2250.8 L1199.0 2252.8 L1202.0 2256.5 L1205.0 2261.2 L1208.0 2265.2" fill="none" stroke="#0000D2" stroke-width="18.0" stroke-linejoin="round"/>
<path d="M1196.0 2250.8 L1199.0 2252.8 L1202.0 2256.5 L1205.0 2261.2 L1208.0 2265.2 L1211.0 2268.5" fill="none" stroke="#0000D2" stroke-width="18.6" stroke-linejoin="round"/>
<path d="M1199.0 2252.8 L1202.0 2256.5 L1205.0 2261.2 L1208.0 2265.2 L1211.0 2268.5 L1214.0 2271.5 L1217.0 2274.5 L1220.0 2277.8" fill="none" stroke="#0000D2" stroke-width="19.2" stroke-linejoin="round"/>
<path d="M1208.0 2265.2 L1211.0 2268.5 L1214.0 2271.5 L1217.0 2274.5 L1220.0 2277.8 L1223.0 2281.8 L1226.0 2287.0 L1229.0 2294.8" fill="none" stroke="#0000D2" stroke-width="18.6" stroke-linejoin="round"/>
<path d="M1217.0 2274.5 L1220.0 2277.8 L1223.0 2281.8 L1226.0 2287.0 L1229.0 2294.8 L1232.0 2304.3 L1235.0 2313.8 L1238.0 2322.3" fill="none" stroke="#0000D2" stroke-width="18.0" stroke-linejoin="round"/>
<path d="M1226.0 2287.0 L1229.0 2294.8 L1232.0 2304.3 L1235.0 2313.8 L1238.0 2322.3 L1241.0 2330.7 L1244.0 2339.0 L1247.0 2347.2 L1250.0 2355.4 L1253.0 2363.3 L1256.0 2371.3 L1259.0 2380.0 L1262.0 2389.8 L1265.0 2400.5 L1268.0 2411.0 L1271.0 2421.4 L1274.0 2430.4 L1277.0 2437.9 L1280.0 2444.7 L1283.0 2450.9" fill="none" stroke="#0000D2" stroke-width="17.4" stroke-linejoin="round"/>
<path d="M1271.0 2421.4 L1274.0 2430.4 L1277.0 2437.9 L1280.0 2444.7 L1283.0 2450.9 L1286.0 2456.6 L1289.0 2461.9 L1292.0 2466.7" fill="none" stroke="#0000D2" stroke-width="18.0" stroke-linejoin="round"/>
<path d="M1280.0 2444.7 L1283.0 2450.9 L1286.0 2456.6 L1289.0 2461.9 L1292.0 2466.7 L1295.0 2471.1 L1298.0 2475.2 L1301.0 2479.3 L1304.0 2483.6 L1307.0 2488.1" fill="none" stroke="#0000D2" stroke-width="18.6" stroke-linejoin="round"/>
<path d="M1295.0 2471.1 L1298.0 2475.2 L1301.0 2479.3 L1304.0 2483.6 L1307.0 2488.1 L1310.0 2492.5 L1313.0 2496.8 L1316.0 2500.8 L1319.0 2504.5 L1322.0 2507.9 L1325.0 2511.2 L1328.0 2514.4 L1331.0 2517.4 L1334.0 2520.3 L1337.0 2523.1 L1340.0 2525.7 L1343.0 2528.2 L1346.0 2530.7 L1349.0 2533.1 L1352.0 2535.4 L1355.0 2537.5 L1358.0 2539.6 L1361.0 2541.6" fill="none" stroke="#0000D2" stroke-width="19.2" stroke-linejoin="round"/>
<path d="M1349.0 2533.1 L1352.0 2535.4 L1355.0 2537.5 L1358.0 2539.6 L1361.0 2541.6 L1364.0 2543.4 L1367.0 2545.0 L1370.0 2546.5 L1373.0 2547.9" fill="none" stroke="#0000D2" stroke-width="18.6" stroke-linejoin="round"/>
<path d="M1361.0 2541.6 L1364.0 2543.4 L1367.0 2545.0 L1370.0 2546.5 L1373.0 2547.9 L1376.0 2549.3 L1379.0 2550.6 L1382.0 2551.8 L1385.0 2552.8" fill="none" stroke="#0000D2" stroke-width="18.0" stroke-linejoin="round"/>
<path d="M1373.0 2547.9 L1376.0 2549.3 L1379.0 2550.6 L1382.0 2551.8 L1385.0 2552.8 L1388.0 2553.8 L1391.0 2554.7 L1394.0 2555.5" fill="none" stroke="#0000D2" stroke-width="17.4" stroke-linejoin="round"/>
<path d="M1382.0 2551.8 L1385.0 2552.8 L1388.0 2553.8 L1391.0 2554.7 L1394.0 2555.5 L1397.0 2556.3 L1400.0 2557.0 L1403.0 2557.8 L1406.0 2558.4" fill="none" stroke="#0000D2" stroke-width="16.8" stroke-linejoin="round"/>
<path d="M1394.0 2555.5 L1397.0 2556.3 L1400.0 2557.0 L1403.0 2557.8 L1406.0 2558.4 L1409.0 2559.1 L1412.0 2559.7 L1415.0 2560.3 L1418.0 2560.9 L1421.0 2561.5 L1424.0 2562.0" fill="none" stroke="#0000D2" stroke-width="16.2" stroke-linejoin="round"/>
<path d="M1412.0 2559.7 L1415.0 2560.3 L1418.0 2560.9 L1421.0 2561.5 L1424.0 2562.0 L1427.0 2562.6 L1430.0 2563.1 L1433.0 2563.5 L1436.0 2564.0 L1439.0 2564.5 L1442.0 2564.9 L1445.0 2565.3 L1448.0 2565.7 L1451.0 2566.1 L1454.0 2566.5" fill="none" stroke="#0000D2" stroke-width="15.6" stroke-linejoin="round"/>
<path d="M1442.0 2564.9 L1445.0 2565.3 L1448.0 2565.7 L1451.0 2566.1 L1454.0 2566.5 L1457.0 2566.9 L1460.0 2567.3 L1463.0 2567.6 L1466.0 2568.0 L1469.0 2568.4 L1472.0 2568.7 L1475.0 2569.0 L1478.0 2569.3 L1481.0 2569.7 L1484.0 2570.0 L1487.0 2570.3 L1490.0 2570.6 L1493.0 2570.8 L1496.0 2571.1 L1499.0 2571.4 L1502.0 2571.6 L1505.0 2571.9 L1508.0 2572.1" fill="none" stroke="#0000D2" stroke-width="15.0" stroke-linejoin="round"/>
<path d="M1496.0 2571.1 L1499.0 2571.4 L1502.0 2571.6 L1505.0 2571.9 L1508.0 2572.1 L1511.0 2572.4 L1514.0 2572.6 L1517.0 2572.8 L1520.0 2573.0 L1523.0 2573.2 L1526.0 2573.4 L1529.0 2573.6 L1532.0 2573.8 L1535.0 2574.0 L1538.0 2574.1 L1541.0 2574.3 L1544.0 2574.5 L1547.0 2574.7 L1550.0 2574.8 L1553.0 2575.0 L1556.0 2575.1 L1559.0 2575.3 L1562.0 2575.4 L1565.0 2575.6 L1568.0 2575.7 L1571.0 2575.9 L1574.0 2576.0 L1577.0 2576.1 L1580.0 2576.2 L1583.0 2576.4 L1586.0 2576.5 L1589.0 2576.6 L1592.0 2576.7 L1595.0 2576.8" fill="none" stroke="#0000D2" stroke-width="14.4" stroke-linejoin="round"/>
<path d="M1583.0 2576.4 L1586.0 2576.5 L1589.0 2576.6 L1592.0 2576.7 L1595.0 2576.8 L1598.0 2576.9 L1601.0 2577.0 L1604.0 2577.1 L1607.0 2577.2 L1610.0 2577.3 L1613.0 2577.4 L1616.0 2577.5 L1619.0 2577.6 L1622.0 2577.7 L1625.0 2577.8 L1628.0 2577.9 L1631.0 2577.9 L1634.0 2578.0 L1637.0 2578.1 L1640.0 2578.2 L1643.0 2578.2 L1646.0 2578.3 L1649.0 2578.4 L1652.0 2578.5 L1655.0 2578.5 L1658.0 2578.6 L1661.0 2578.7 L1664.0 2578.7 L1667.0 2578.8 L1670.0 2578.9 L1673.0 2578.9 L1676.0 2579.0 L1679.0 2579.1 L1682.0 2579.1 L1685.0 2579.2 L1688.0 2579.3 L1691.0 2579.3 L1694.0 2579.4 L1697.0 2579.4 L1700.0 2579.5 L1703.0 2579.6 L1706.0 2579.6 L1709.0 2579.7 L1712.0 2579.7 L1715.0 2579.8 L1718.0 2579.9 L1721.0 2579.9 L1724.0 2580.0 L1727.0 2580.0 L1730.0 2580.1 L1733.0 2580.1 L1736.0 2580.2 L1739.0 2580.2 L1742.0 2580.3 L1745.0 2580.3 L1748.0 2580.4 L1751.0 2580.4 L1754.0 2580.5" fill="none" stroke="#0000D2" stroke-width="13.8" stroke-linejoin="round"/>
<path d="M527.0 2580.5 L530.0 2580.5 L533.0 2580.5 L536.0 2580.5 L539.0 2580.5 L542.0 2580.5 L545.0 2580.5 L548.0 2580.5 L551.0 2580.5 L554.0 2580.5 L557.0 2580.5 L560.0 2580.5 L563.0 2580.5 L566.0 2580.5 L569.0 2580.5 L572.0 2580.5 L575.0 2580.5 L578.0 2580.5 L581.0 2580.4 L584.0 2580.4 L587.0 2580.4 L590.0 2580.4 L593.0 2580.4 L596.0 2580.4 L599.0 2580.4 L602.0 2580.4 L605.0 2580.4 L608.0 2580.4 L611.0 2580.4 L614.0 2580.4 L617.0 2580.4 L620.0 2580.3 L623.0 2580.3 L626.0 2580.3 L629.0 2580.3 L632.0 2580.3 L635.0 2580.3 L638.0 2580.3 L641.0 2580.3 L644.0 2580.3 L647.0 2580.2 L650.0 2580.2 L653.0 2580.2 L656.0 2580.2 L659.0 2580.2 L662.0 2580.2 L665.0 2580.2 L668.0 2580.2 L671.0 2580.1 L674.0 2580.1 L677.0 2580.1 L680.0 2580.1 L683.0 2580.1 L686.0 2580.1 L689.0 2580.1 L692.0 2580.0 L695.0 2580.0 L698.0 2580.0 L701.0 2580.0 L704.0 2580.0 L707.0 2580.0 L710.0 2579.9 L713.0 2579.9 L716.0 2579.9 L719.0 2579.8 L722.0 2579.8 L725.0 2579.8 L728.0 2579.7 L731.0 2579.7 L734.0 2579.6 L737.0 2579.6 L740.0 2579.5 L743.0 2579.5 L746.0 2579.4 L749.0 2579.3 L752.0 2579.3 L755.0 2579.2 L758.0 2579.1 L761.0 2579.1 L764.0 2579.0 L767.0 2578.9 L770.0 2578.8 L773.0 2578.8 L776.0 2578.7 L779.0 2578.6 L782.0 2578.5 L785.0 2578.4 L788.0 2578.3 L791.0 2578.2 L794.0 2578.1 L797.0 2578.0 L800.0 2577.9 L803.0 2577.8 L806.0 2577.7 L809.0 2577.6 L812.0 2577.5 L815.0 2577.4 L818.0 2577.3 L821.0 2577.2 L824.0 2577.0 L827.0 2576.9 L830.0 2576.7 L833.0 2576.5 L836.0 2576.2 L839.0 2576.0 L842.0 2575.8 L845.0 2575.6 L848.0 2575.4 L851.0 2575.4 L854.0 2575.3 L857.0 2575.2 L860.0 2575.2 L863.0 2575.2 L866.0 2575.1 L869.0 2575.1 L872.0 2575.1 L875.0 2575.0 L878.0 2574.9 L881.0 2574.9 L884.0 2574.8 L887.0 2574.7 L890.0 2574.6 L893.0 2574.5 L896.0 2574.4 L899.0 2574.3 L902.0 2574.2 L905.0 2574.1 L908.0 2574.0 L911.0 2573.9 L914.0 2573.7 L917.0 2573.6 L920.0 2573.5 L923.0 2573.3 L926.0 2573.2 L929.0 2573.0 L932.0 2572.7 L935.0 2572.4 L938.0 2572.0 L941.0 2571.5 L944.0 2571.0 L947.0 2570.5 L950.0 2570.0 L953.0 2569.4 L956.0 2568.8 L959.0 2568.1 L962.0 2567.3 L965.0 2566.5 L968.0 2565.6 L971.0 2564.7 L974.0 2563.8 L977.0 2562.8 L980.0 2561.9 L983.0 2561.0 L986.0 2560.0 L989.0 2559.1 L992.0 2558.1 L995.0 2557.1 L998.0 2556.1 L1001.0 2555.0 L1004.0 2554.0 L1007.0 2552.9 L1010.0 2551.9 L1013.0 2550.9 L1016.0 2549.9 L1019.0 2548.9 L1022.0 2547.9 L1025.0 2546.8 L1028.0 2545.6 L1031.0 2544.3 L1034.0 2542.9 L1037.0 2541.3 L1040.0 2539.5 L1043.0 2537.6 L1046.0 2535.5 L1049.0 2533.3 L1052.0 2531.0 L1055.0 2528.7 L1058.0 2526.3 L1061.0 2524.0 L1064.0 2521.6 L1067.0 2519.1 L1070.0 2516.5 L1073.0 2513.8 L1076.0 2511.0 L1079.0 2508.1 L1082.0 2505.1 L1085.0 2502.0 L1088.0 2498.9 L1091.0 2495.5 L1094.0 2491.8 L1097.0 2487.6 L1100.0 2482.8 L1103.0 2476.4 L1106.0 2469.1 L1109.0 2462.1 L1112.0 2455.7 L1115.0 2449.5 L1118.0 2443.0 L1121.0 2436.5 L1124.0 2429.8 L1127.0 2421.4 L1130.0 2409.3 L1133.0 2391.0 L1136.0 2370.5 L1139.0 2354.4 L1142.0 2334.0 L1145.0 2314.5 L1148.0 2291.7 L1151.0 2269.7 L1154.0 2249.6 L1157.0 2232.8 L1160.0 2217.2 L1163.0 2199.4 L1166.0 2177.8 L1169.0 2161.4 L1172.0 2143.3 L1175.0 2125.5 L1178.0 2113.2 L1181.0 2104.7 L1184.0 2099.6 L1187.0 2096.3 L1190.0 2095.9 L1193.0 2100.9 L1196.0 2108.2 L1199.0 2115.1 L1202.0 2123.0 L1205.0 2131.2 L1208.0 2139.1 L1211.0 2146.9 L1214.0 2156.1 L1217.0 2168.3 L1220.0 2180.1 L1223.0 2189.0 L1226.0 2217.2 L1229.0 2232.1 L1232.0 2241.3 L1235.0 2253.7 L1238.0 2271.6 L1241.0 2289.5 L1244.0 2301.5 L1247.0 2322.5 L1250.0 2335.5 L1253.0 2345.0 L1256.0 2361.0 L1259.0 2380.3 L1262.0 2397.5 L1265.0 2411.1 L1268.0 2420.8 L1271.0 2428.8 L1274.0 2437.7 L1277.0 2447.4 L1280.0 2456.0 L1283.0 2463.5 L1286.0 2470.4 L1289.0 2477.1 L1292.0 2483.4 L1295.0 2489.5 L1298.0 2495.1 L1301.0 2500.4 L1304.0 2505.5 L1307.0 2510.4 L1310.0 2514.8 L1313.0 2518.7 L1316.0 2522.1 L1319.0 2525.2 L1322.0 2528.1 L1325.0 2530.8 L1328.0 2533.3 L1331.0 2535.7 L1334.0 2538.0 L1337.0 2540.3 L1340.0 2542.6 L1343.0 2544.8 L1346.0 2546.9 L1349.0 2549.0 L1352.0 2550.8 L1355.0 2552.5 L1358.0 2554.0 L1361.0 2555.3 L1364.0 2556.5 L1367.0 2557.7 L1370.0 2558.7 L1373.0 2559.7 L1376.0 2560.6 L1379.0 2561.5 L1382.0 2562.2 L1385.0 2562.9 L1388.0 2563.5 L1391.0 2564.1 L1394.0 2564.7 L1397.0 2565.2 L1400.0 2565.8 L1403.0 2566.3 L1406.0 2566.8 L1409.0 2567.3 L1412.0 2567.7 L1415.0 2568.2 L1418.0 2568.6 L1421.0 2569.0 L1424.0 2569.4 L1427.0 2569.7 L1430.0 2570.1 L1433.0 2570.4 L1436.0 2570.7 L1439.0 2571.0 L1442.0 2571.3 L1445.0 2571.6 L1448.0 2571.8 L1451.0 2572.1 L1454.0 2572.3 L1457.0 2572.5 L1460.0 2572.7 L1463.0 2572.9 L1466.0 2573.1 L1469.0 2573.3 L1472.0 2573.5 L1475.0 2573.7 L1478.0 2573.9 L1481.0 2574.0 L1484.0 2574.2 L1487.0 2574.4 L1490.0 2574.5 L1493.0 2574.7 L1496.0 2574.8 L1499.0 2575.0 L1502.0 2575.1 L1505.0 2575.3 L1508.0 2575.4 L1511.0 2575.5 L1514.0 2575.7 L1517.0 2575.8 L1520.0 2575.9 L1523.0 2576.0 L1526.0 2576.1 L1529.0 2576.3 L1532.0 2576.4 L1535.0 2576.5 L1538.0 2576.6 L1541.0 2576.7 L1544.0 2576.8 L1547.0 2576.9 L1550.0 2577.0 L1553.0 2577.1 L1556.0 2577.2 L1559.0 2577.3 L1562.0 2577.4 L1565.0 2577.5 L1568.0 2577.6 L1571.0 2577.7 L1574.0 2577.8 L1577.0 2577.9 L1580.0 2577.9 L1583.0 2578.0 L1586.0 2578.1 L1589.0 2578.2 L1592.0 2578.3 L1595.0 2578.4 L1598.0 2578.4 L1601.0 2578.5 L1604.0 2578.6 L1607.0 2578.7 L1610.0 2578.7 L1613.0 2578.8 L1616.0 2578.9 L1619.0 2578.9 L1622.0 2579.0 L1625.0 2579.1 L1628.0 2579.1 L1631.0 2579.2 L1634.0 2579.2 L1637.0 2579.3 L1640.0 2579.3 L1643.0 2579.4 L1646.0 2579.4 L1649.0 2579.5 L1652.0 2579.5 L1655.0 2579.6 L1658.0 2579.6 L1661.0 2579.7 L1664.0 2579.7 L1667.0 2579.7 L1670.0 2579.8 L1673.0 2579.8 L1676.0 2579.8 L1679.0 2579.9 L1682.0 2579.9 L1685.0 2580.0 L1688.0 2580.0 L1691.0 2580.0 L1694.0 2580.1 L1697.0 2580.1 L1700.0 2580.1 L1703.0 2580.2 L1706.0 2580.2 L1709.0 2580.2 L1712.0 2580.3 L1715.0 2580.3 L1718.0 2580.3 L1721.0 2580.3 L1724.0 2580.4 L1727.0 2580.4 L1730.0 2580.4 L1733.0 2580.4 L1736.0 2580.4 L1739.0 2580.4 L1742.0 2580.5 L1745.0 2580.5 L1748.0 2580.5 L1751.0 2580.5 L1754.0 2580.5" fill="none" stroke="#FF0000" stroke-width="11.8" stroke-linejoin="round" stroke-dasharray="14 10" stroke-dashoffset="0"/>
<path d="M534 2612V2582.7H1756V2612" fill="none" stroke="#000" stroke-width="2.6"/>
<path d="M841 2582.7V2612" stroke="#000" stroke-width="2.6"/>
<path d="M1144.3 2582.7V2612" stroke="#000" stroke-width="2.6"/>
<path d="M1450.8 2582.7V2612" stroke="#000" stroke-width="2.6"/>
<text x="579.0" y="235.4" font-family="'Liberation Serif', serif" font-size="80.7" font-weight="normal" fill="#000000" textLength="55.8" lengthAdjust="spacingAndGlyphs">Z</text>
<text x="703.1" y="323.7" font-family="'Liberation Serif', serif" font-size="81.3" font-weight="normal" fill="#000000" textLength="55.8" lengthAdjust="spacingAndGlyphs">Z</text>
<text x="800.1" y="72.9" font-family="'Liberation Serif', serif" font-size="81.6" font-weight="normal" fill="#000000" textLength="55.8" lengthAdjust="spacingAndGlyphs">Z</text>
<text x="1340.1" y="433.0" font-family="'Liberation Serif', serif" font-size="81.8" font-weight="normal" fill="#000000" textLength="55.8" lengthAdjust="spacingAndGlyphs">Z</text>
<text x="1756.0" y="405.0" font-family="'Liberation Serif', serif" font-size="81.5" font-weight="normal" fill="#000000" textLength="57.0" lengthAdjust="spacingAndGlyphs">Z</text>
<text x="456.9" y="601.5" font-family="'Liberation Serif', serif" font-size="80.8" font-weight="normal" fill="#000000" textLength="47.2" lengthAdjust="spacingAndGlyphs">F</text>
<text x="649.9" y="738.2" font-family="'Liberation Serif', serif" font-size="83.3" font-weight="normal" fill="#000000" textLength="47.2" lengthAdjust="spacingAndGlyphs">F</text>
<text x="1348.4" y="718.2" font-family="'Liberation Serif', serif" font-size="80.3" font-weight="normal" fill="#000000" textLength="47.8" lengthAdjust="spacingAndGlyphs">F</text>
<text x="1758.3" y="745.5" font-family="'Liberation Serif', serif" font-size="81.4" font-weight="normal" fill="#000000" textLength="46.1" lengthAdjust="spacingAndGlyphs">F</text>
<text x="1911.8" y="793.2" font-family="'Liberation Serif', serif" font-size="81.0" font-weight="normal" fill="#000000" textLength="48.1" lengthAdjust="spacingAndGlyphs">F</text>
<text x="1063.7" y="92.1" font-family="'Liberation Serif', serif" font-size="80.9" font-weight="normal" fill="#000000" textLength="559.2" lengthAdjust="spacingAndGlyphs">Z : Zincite ZnO</text>
<text x="1066.3" y="203.0" font-family="'Liberation Serif', serif" font-size="84.6" font-weight="normal" fill="#000000" textLength="604.2" lengthAdjust="spacingAndGlyphs">F : Fluorine CeO</text>
<text x="1667.3" y="252.9" font-family="'Liberation Serif', serif" font-size="49.2" font-weight="normal" fill="#000000" textLength="29.4" lengthAdjust="spacingAndGlyphs">2</text>
<text x="224.9" y="197.5" font-family="'Liberation Serif', serif" font-size="109.7" font-weight="bold" fill="#000000" textLength="37.2" lengthAdjust="spacingAndGlyphs">(</text>
<text x="265.5" y="210.8" font-family="'Liberation Serif', serif" font-size="132.3" font-weight="bold" fill="#000000" textLength="58.9" lengthAdjust="spacingAndGlyphs">a</text>
<text x="326.3" y="197.3" font-family="'Liberation Serif', serif" font-size="110.7" font-weight="bold" fill="#000000" textLength="38.7" lengthAdjust="spacingAndGlyphs">)</text>
<text x="82.2" y="500.9" font-family="'Liberation Serif', serif" font-size="83.0" font-weight="normal" fill="#8B0000" textLength="175.7" lengthAdjust="spacingAndGlyphs" stroke="#8B0000" stroke-width="2.3" stroke-linejoin="round">ZnO</text>
<text x="111.0" y="771.1" font-family="'Liberation Serif', serif" font-size="81.2" font-weight="normal" fill="#FA50B4" textLength="312.0" lengthAdjust="spacingAndGlyphs" stroke="#FA50B4" stroke-width="2.3" stroke-linejoin="round">CeZn0.4</text>
<text x="63.0" y="979.0" font-family="'Liberation Serif', serif" font-size="82.7" font-weight="normal" fill="#008000" textLength="312.0" lengthAdjust="spacingAndGlyphs" stroke="#008000" stroke-width="2.3" stroke-linejoin="round">CeZn0.3</text>
<text x="63.4" y="1219.8" font-family="'Liberation Serif', serif" font-size="81.5" font-weight="normal" fill="#0A6EFA" textLength="313.5" lengthAdjust="spacingAndGlyphs" stroke="#0A6EFA" stroke-width="2.3" stroke-linejoin="round">CeZn0.2</text>
<text x="79.0" y="1416.9" font-family="'Liberation Serif', serif" font-size="81.7" font-weight="normal" fill="#FF0000" textLength="311.8" lengthAdjust="spacingAndGlyphs" stroke="#FF0000" stroke-width="2.3" stroke-linejoin="round">CeZn0.1</text>
<text x="25.7" y="1797.6" font-family="'Liberation Serif', serif" font-size="94.5" font-weight="normal" fill="#000000" textLength="99.6" lengthAdjust="spacingAndGlyphs">20</text>
<text x="260.9" y="1797.7" font-family="'Liberation Serif', serif" font-size="94.8" font-weight="normal" fill="#000000" textLength="99.7" lengthAdjust="spacingAndGlyphs">25</text>
<text x="496.2" y="1797.6" font-family="'Liberation Serif', serif" font-size="94.5" font-weight="normal" fill="#000000" textLength="99.7" lengthAdjust="spacingAndGlyphs">30</text>
<text x="731.5" y="1797.7" font-family="'Liberation Serif', serif" font-size="94.8" font-weight="normal" fill="#000000" textLength="99.8" lengthAdjust="spacingAndGlyphs">35</text>
<text x="970.1" y="1797.6" font-family="'Liberation Serif', serif" font-size="94.5" font-weight="normal" fill="#000000" textLength="96.3" lengthAdjust="spacingAndGlyphs">40</text>
<text x="1205.5" y="1797.7" font-family="'Liberation Serif', serif" font-size="96.2" font-weight="normal" fill="#000000" textLength="96.2" lengthAdjust="spacingAndGlyphs">45</text>
<text x="1436.4" y="1797.6" font-family="'Liberation Serif', serif" font-size="94.5" font-weight="normal" fill="#000000" textLength="100.8" lengthAdjust="spacingAndGlyphs">50</text>
<text x="1671.6" y="1797.7" font-family="'Liberation Serif', serif" font-size="96.2" font-weight="normal" fill="#000000" textLength="101.9" lengthAdjust="spacingAndGlyphs">55</text>
<text x="1909.2" y="1797.6" font-family="'Liberation Serif', serif" font-size="94.5" font-weight="normal" fill="#000000" textLength="98.5" lengthAdjust="spacingAndGlyphs">60</text>
<text x="661.4" y="1957.5" font-family="'Liberation Serif', serif" font-size="103.1" font-weight="bold" fill="#000000" textLength="710.4" lengthAdjust="spacingAndGlyphs">2 Theta (degree)</text>
<text x="43.9" y="3030.6" font-family="'Liberation Serif', serif" font-size="71.9" font-weight="normal" fill="#FF0000" textLength="193.2" lengthAdjust="spacingAndGlyphs" stroke="#FF0000" stroke-width="1.0" stroke-linejoin="round">800°C</text>
<text x="74.8" y="3427.1" font-family="'Liberation Serif', serif" font-size="67.2" font-weight="normal" fill="#0000CD" textLength="195.4" lengthAdjust="spacingAndGlyphs" stroke="#0000CD" stroke-width="1.8" stroke-linejoin="round">700°C</text>
<text x="120.4" y="3672.1" font-family="'Liberation Serif', serif" font-size="71.7" font-weight="normal" fill="#DA5AD6" textLength="193.3" lengthAdjust="spacingAndGlyphs" stroke="#DA5AD6" stroke-width="1.8" stroke-linejoin="round">600°C</text>
<text x="101.0" y="3877.0" font-family="'Liberation Serif', serif" font-size="67.8" font-weight="normal" fill="#000000" textLength="196.0" lengthAdjust="spacingAndGlyphs" stroke="#000000" stroke-width="1.8" stroke-linejoin="round">500°C</text>
<text x="103.9" y="2314.6" font-family="'Liberation Serif', serif" font-size="91.9" font-weight="bold" fill="#000000" textLength="35.4" lengthAdjust="spacingAndGlyphs">(</text>
<text x="138.5" y="2324.8" font-family="'Liberation Serif', serif" font-size="109.9" font-weight="bold" fill="#000000" textLength="66.2" lengthAdjust="spacingAndGlyphs">b</text>
<text x="204.1" y="2314.9" font-family="'Liberation Serif', serif" font-size="90.7" font-weight="bold" fill="#000000" textLength="35.2" lengthAdjust="spacingAndGlyphs">)</text>
<text x="53.6" y="4052.9" font-family="'Liberation Serif', serif" font-size="86.8" font-weight="normal" fill="#000000" textLength="99.6" lengthAdjust="spacingAndGlyphs">20</text>
<text x="418.0" y="4052.9" font-family="'Liberation Serif', serif" font-size="86.8" font-weight="normal" fill="#000000" textLength="98.6" lengthAdjust="spacingAndGlyphs">30</text>
<text x="784.8" y="4052.9" font-family="'Liberation Serif', serif" font-size="86.8" font-weight="normal" fill="#000000" textLength="97.3" lengthAdjust="spacingAndGlyphs">40</text>
<text x="1145.9" y="4052.9" font-family="'Liberation Serif', serif" font-size="86.8" font-weight="normal" fill="#000000" textLength="100.8" lengthAdjust="spacingAndGlyphs">50</text>
<text x="1511.6" y="4052.9" font-family="'Liberation Serif', serif" font-size="86.8" font-weight="normal" fill="#000000" textLength="99.6" lengthAdjust="spacingAndGlyphs">60</text>
<text x="477.0" y="4169.4" font-family="'Liberation Serif', serif" font-size="96.6" font-weight="bold" fill="#000000" textLength="698.6" lengthAdjust="spacingAndGlyphs">2 Theta (degree)</text>
<text x="474.2" y="2664.4" font-family="'Liberation Serif', serif" font-size="59.8" font-weight="bold" fill="#000000" textLength="118.6" lengthAdjust="spacingAndGlyphs">27.5</text>
<text x="807.1" y="2664.4" font-family="'Liberation Serif', serif" font-size="59.8" font-weight="bold" fill="#000000" textLength="66.9" lengthAdjust="spacingAndGlyphs">28</text>
<text x="1082.7" y="2664.4" font-family="'Liberation Serif', serif" font-size="59.8" font-weight="bold" fill="#000000" textLength="118.6" lengthAdjust="spacingAndGlyphs">28.5</text>
<text x="1416.4" y="2664.4" font-family="'Liberation Serif', serif" font-size="59.8" font-weight="bold" fill="#000000" textLength="68.2" lengthAdjust="spacingAndGlyphs">29</text>
<text x="1694.3" y="2664.4" font-family="'Liberation Serif', serif" font-size="59.8" font-weight="bold" fill="#000000" textLength="117.6" lengthAdjust="spacingAndGlyphs">29.5</text>
<text x="1150.6" y="2086.1" font-family="'Liberation Serif', serif" font-size="47.3" font-weight="bold" fill="#FF0000" textLength="139.0" lengthAdjust="spacingAndGlyphs">800°C</text>
<text x="931.6" y="2417.0" font-family="'Liberation Serif', serif" font-size="55.6" font-weight="bold" fill="#000000" textLength="129.6" lengthAdjust="spacingAndGlyphs" transform="rotate(-90 931.6 2417.0)">500°C</text>
<text x="1022.6" y="2400.6" font-family="'Liberation Serif', serif" font-size="56.8" font-weight="bold" fill="#FA50B4" textLength="132.3" lengthAdjust="spacingAndGlyphs" transform="rotate(-90 1022.6 2400.6)">600°C</text>
<text x="1208.7" y="2432.3" font-family="'Liberation Serif', serif" font-size="53.9" font-weight="bold" fill="#0000CD" textLength="131.2" lengthAdjust="spacingAndGlyphs" transform="rotate(-90 1208.7 2432.3)">700°C</text>
</svg>
</body></html>
